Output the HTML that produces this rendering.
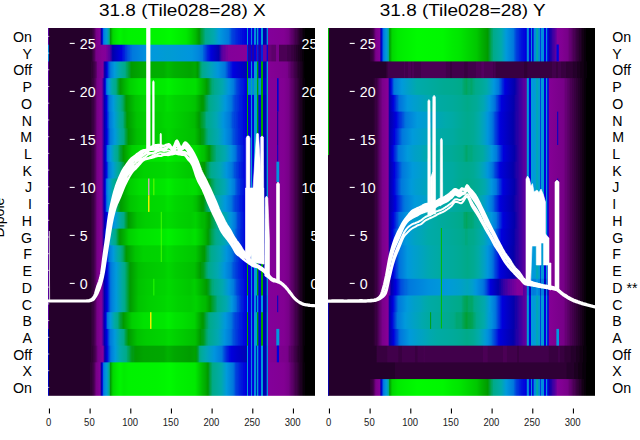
<!DOCTYPE html>
<html><head><meta charset="utf-8"><title>chart</title>
<style>
html,body{margin:0;padding:0;background:#fff;}
body{width:640px;height:440px;overflow:hidden;font-family:"Liberation Sans",sans-serif;}
svg{display:block}
text{font-family:"Liberation Sans",sans-serif;}
</style></head><body>
<svg width="640" height="440" viewBox="0 0 640 440">
<defs>
<linearGradient id="gX0"><stop offset="0.08%" stop-color="#58009f"/><stop offset="0.38%" stop-color="#58009f"/><stop offset="0.53%" stop-color="#25002b"/><stop offset="15.78%" stop-color="#25002b"/><stop offset="15.93%" stop-color="#2f0035"/><stop offset="16.39%" stop-color="#2f0035"/><stop offset="16.54%" stop-color="#380040"/><stop offset="16.84%" stop-color="#380040"/><stop offset="17%" stop-color="#41004b"/><stop offset="17.15%" stop-color="#41004b"/><stop offset="18.06%" stop-color="#708"/><stop offset="19.44%" stop-color="#870098"/><stop offset="19.74%" stop-color="#4d00a0"/><stop offset="19.89%" stop-color="#2300a6"/><stop offset="20.05%" stop-color="#0300aa"/><stop offset="20.35%" stop-color="#00d"/><stop offset="20.5%" stop-color="#002fdd"/><stop offset="20.81%" stop-color="#0078dd"/><stop offset="21.42%" stop-color="#0090dd"/><stop offset="22.03%" stop-color="#009bd7"/><stop offset="22.79%" stop-color="#00aa98"/><stop offset="22.94%" stop-color="#00aa8d"/><stop offset="23.25%" stop-color="#00a13d"/><stop offset="23.4%" stop-color="#009a08"/><stop offset="23.7%" stop-color="#00af00"/><stop offset="24.31%" stop-color="#00d700"/><stop offset="25.84%" stop-color="#00ea00"/><stop offset="27.06%" stop-color="#00f400"/><stop offset="28.43%" stop-color="#00ec00"/><stop offset="30.26%" stop-color="#00f200"/><stop offset="40.62%" stop-color="#00f400"/><stop offset="43.83%" stop-color="#00f700"/><stop offset="45.5%" stop-color="#00fa00"/><stop offset="49.31%" stop-color="#00ef00"/><stop offset="51.75%" stop-color="#00e700"/><stop offset="53.58%" stop-color="#00d200"/><stop offset="55.26%" stop-color="#00ba00"/><stop offset="56.63%" stop-color="#009a00"/><stop offset="57.7%" stop-color="#00a248"/><stop offset="57.85%" stop-color="#00a248"/><stop offset="58.16%" stop-color="#00a55d"/><stop offset="58.31%" stop-color="#00a55d"/><stop offset="58.61%" stop-color="#00a773"/><stop offset="58.77%" stop-color="#0a8"/><stop offset="62.12%" stop-color="#00a8af"/><stop offset="64.1%" stop-color="#009adb"/><stop offset="67.76%" stop-color="#0078dd"/><stop offset="68.06%" stop-color="#0067dd"/><stop offset="68.22%" stop-color="#0067dd"/><stop offset="68.67%" stop-color="#004bdd"/><stop offset="68.83%" stop-color="#004bdd"/><stop offset="68.98%" stop-color="#0041dd"/><stop offset="69.28%" stop-color="#0041dd"/><stop offset="69.59%" stop-color="#0038dd"/><stop offset="69.89%" stop-color="#0038dd"/><stop offset="70.2%" stop-color="#002fdd"/><stop offset="70.5%" stop-color="#002fdd"/><stop offset="70.66%" stop-color="#0025dd"/><stop offset="71.11%" stop-color="#0025dd"/><stop offset="71.42%" stop-color="#001cdd"/><stop offset="71.72%" stop-color="#001cdd"/><stop offset="72.03%" stop-color="#0013dd"/><stop offset="72.48%" stop-color="#0013dd"/><stop offset="72.64%" stop-color="#0009dd"/><stop offset="73.4%" stop-color="#0009dd"/><stop offset="73.7%" stop-color="#00d"/><stop offset="74.47%" stop-color="#0000d9"/><stop offset="74.62%" stop-color="#009cd3"/><stop offset="74.77%" stop-color="#009cd3"/><stop offset="74.92%" stop-color="#00d"/><stop offset="75.84%" stop-color="#00d"/><stop offset="75.99%" stop-color="#008ddd"/><stop offset="76.45%" stop-color="#008ddd"/><stop offset="76.6%" stop-color="#00d"/><stop offset="77.06%" stop-color="#00d"/><stop offset="77.21%" stop-color="#008ddd"/><stop offset="77.97%" stop-color="#008ddd"/><stop offset="78.12%" stop-color="#0000bd"/><stop offset="78.28%" stop-color="#0000bd"/><stop offset="78.43%" stop-color="#009cd3"/><stop offset="78.73%" stop-color="#009cd3"/><stop offset="78.89%" stop-color="#00d"/><stop offset="79.65%" stop-color="#00d"/><stop offset="79.8%" stop-color="#008ddd"/><stop offset="79.95%" stop-color="#009cd3"/><stop offset="80.41%" stop-color="#009cd3"/><stop offset="80.56%" stop-color="#0000b1"/><stop offset="81.78%" stop-color="#0000b1"/><stop offset="81.94%" stop-color="#008ddd"/><stop offset="82.39%" stop-color="#008ddd"/><stop offset="82.55%" stop-color="#83009a"/><stop offset="88.34%" stop-color="#820093"/><stop offset="90.17%" stop-color="#708"/><stop offset="90.47%" stop-color="#700080"/><stop offset="90.62%" stop-color="#700080"/><stop offset="90.78%" stop-color="#670075"/><stop offset="91.08%" stop-color="#670075"/><stop offset="91.23%" stop-color="#5d006b"/><stop offset="91.54%" stop-color="#5d006b"/><stop offset="91.69%" stop-color="#540060"/><stop offset="92%" stop-color="#540060"/><stop offset="92.15%" stop-color="#4b0055"/><stop offset="92.45%" stop-color="#4b0055"/><stop offset="92.61%" stop-color="#41004b"/><stop offset="93.06%" stop-color="#41004b"/><stop offset="93.22%" stop-color="#380040"/><stop offset="93.52%" stop-color="#380040"/><stop offset="93.67%" stop-color="#2f0035"/><stop offset="93.98%" stop-color="#2f0035"/><stop offset="94.13%" stop-color="#25002b"/><stop offset="94.44%" stop-color="#25002b"/><stop offset="94.59%" stop-color="#1c0020"/><stop offset="95.05%" stop-color="#1c0020"/><stop offset="95.2%" stop-color="#130015"/><stop offset="95.5%" stop-color="#130015"/><stop offset="95.66%" stop-color="#09000b"/><stop offset="96.11%" stop-color="#09000b"/><stop offset="96.27%" stop-color="#000"/><stop offset="99.92%" stop-color="#000"/></linearGradient>
<linearGradient id="gX1"><stop offset="0.08%" stop-color="#0085dd"/><stop offset="0.38%" stop-color="#0085dd"/><stop offset="0.53%" stop-color="#25002b"/><stop offset="16.23%" stop-color="#25002b"/><stop offset="16.39%" stop-color="#2f0035"/><stop offset="16.54%" stop-color="#2f0035"/><stop offset="16.69%" stop-color="#380040"/><stop offset="16.84%" stop-color="#380040"/><stop offset="17.15%" stop-color="#4b0055"/><stop offset="17.3%" stop-color="#4b0055"/><stop offset="17.76%" stop-color="#670075"/><stop offset="17.91%" stop-color="#708"/><stop offset="20.2%" stop-color="#850096"/><stop offset="21.72%" stop-color="#83009a"/><stop offset="21.88%" stop-color="#78009b"/><stop offset="22.18%" stop-color="#78009b"/><stop offset="22.33%" stop-color="#6d009c"/><stop offset="22.48%" stop-color="#6d009c"/><stop offset="22.64%" stop-color="#63009e"/><stop offset="22.94%" stop-color="#63009e"/><stop offset="23.09%" stop-color="#58009f"/><stop offset="23.25%" stop-color="#58009f"/><stop offset="23.4%" stop-color="#4300a2"/><stop offset="23.86%" stop-color="#2300a6"/><stop offset="24.01%" stop-color="#0d00a8"/><stop offset="24.31%" stop-color="#0000ad"/><stop offset="27.06%" stop-color="#0000d9"/><stop offset="27.52%" stop-color="#00d"/><stop offset="27.97%" stop-color="#0013dd"/><stop offset="28.73%" stop-color="#0025dd"/><stop offset="29.04%" stop-color="#0038dd"/><stop offset="29.5%" stop-color="#0041dd"/><stop offset="29.65%" stop-color="#004bdd"/><stop offset="30.41%" stop-color="#005ddd"/><stop offset="30.56%" stop-color="#005ddd"/><stop offset="30.72%" stop-color="#0067dd"/><stop offset="31.33%" stop-color="#0070dd"/><stop offset="31.63%" stop-color="#0078dd"/><stop offset="38.34%" stop-color="#0098dd"/><stop offset="44.74%" stop-color="#009cd3"/><stop offset="53.89%" stop-color="#0095dd"/><stop offset="56.17%" stop-color="#08d"/><stop offset="57.85%" stop-color="#0078dd"/><stop offset="58.31%" stop-color="#005ddd"/><stop offset="58.61%" stop-color="#0054dd"/><stop offset="59.07%" stop-color="#0041dd"/><stop offset="59.53%" stop-color="#002fdd"/><stop offset="59.68%" stop-color="#0025dd"/><stop offset="60.44%" stop-color="#0013dd"/><stop offset="60.59%" stop-color="#0009dd"/><stop offset="61.2%" stop-color="#0000d9"/><stop offset="64.1%" stop-color="#0300aa"/><stop offset="64.25%" stop-color="#1800a7"/><stop offset="65.17%" stop-color="#58009f"/><stop offset="65.47%" stop-color="#58009f"/><stop offset="65.62%" stop-color="#63009e"/><stop offset="66.08%" stop-color="#63009e"/><stop offset="66.23%" stop-color="#6d009c"/><stop offset="66.69%" stop-color="#6d009c"/><stop offset="66.84%" stop-color="#78009b"/><stop offset="67.3%" stop-color="#78009b"/><stop offset="67.45%" stop-color="#83009a"/><stop offset="74.47%" stop-color="#870098"/><stop offset="74.62%" stop-color="#0025dd"/><stop offset="74.77%" stop-color="#0025dd"/><stop offset="74.92%" stop-color="#2300a6"/><stop offset="75.84%" stop-color="#2300a6"/><stop offset="75.99%" stop-color="#00d"/><stop offset="76.45%" stop-color="#00d"/><stop offset="76.6%" stop-color="#2300a6"/><stop offset="77.06%" stop-color="#2300a6"/><stop offset="77.21%" stop-color="#00d"/><stop offset="77.97%" stop-color="#00d"/><stop offset="78.12%" stop-color="#58009f"/><stop offset="78.28%" stop-color="#58009f"/><stop offset="78.43%" stop-color="#0025dd"/><stop offset="78.73%" stop-color="#0025dd"/><stop offset="78.89%" stop-color="#2300a6"/><stop offset="79.65%" stop-color="#2300a6"/><stop offset="79.8%" stop-color="#00d"/><stop offset="79.95%" stop-color="#0025dd"/><stop offset="80.41%" stop-color="#0025dd"/><stop offset="80.56%" stop-color="#6d009c"/><stop offset="81.78%" stop-color="#6d009c"/><stop offset="81.94%" stop-color="#00d"/><stop offset="82.39%" stop-color="#00d"/><stop offset="82.55%" stop-color="#670075"/><stop offset="83.61%" stop-color="#670075"/><stop offset="83.77%" stop-color="#5d006b"/><stop offset="85.29%" stop-color="#5d006b"/><stop offset="85.44%" stop-color="#670075"/><stop offset="85.59%" stop-color="#79008a"/><stop offset="86.51%" stop-color="#79008a"/><stop offset="86.66%" stop-color="#4b0055"/><stop offset="89.56%" stop-color="#4b0055"/><stop offset="89.71%" stop-color="#41004b"/><stop offset="91.08%" stop-color="#41004b"/><stop offset="91.23%" stop-color="#380040"/><stop offset="92%" stop-color="#380040"/><stop offset="92.15%" stop-color="#2f0035"/><stop offset="92.76%" stop-color="#2f0035"/><stop offset="92.91%" stop-color="#25002b"/><stop offset="93.52%" stop-color="#25002b"/><stop offset="93.67%" stop-color="#1c0020"/><stop offset="94.28%" stop-color="#1c0020"/><stop offset="94.44%" stop-color="#130015"/><stop offset="95.05%" stop-color="#130015"/><stop offset="95.2%" stop-color="#09000b"/><stop offset="95.81%" stop-color="#09000b"/><stop offset="95.96%" stop-color="#000"/><stop offset="99.92%" stop-color="#000"/></linearGradient>
<linearGradient id="gX2"><stop offset="0.08%" stop-color="#58009f"/><stop offset="0.38%" stop-color="#58009f"/><stop offset="0.53%" stop-color="#25002b"/><stop offset="15.93%" stop-color="#25002b"/><stop offset="16.08%" stop-color="#2f0035"/><stop offset="16.69%" stop-color="#2f0035"/><stop offset="16.84%" stop-color="#380040"/><stop offset="17.15%" stop-color="#380040"/><stop offset="17.3%" stop-color="#41004b"/><stop offset="17.45%" stop-color="#41004b"/><stop offset="17.61%" stop-color="#4b0055"/><stop offset="17.76%" stop-color="#4b0055"/><stop offset="18.06%" stop-color="#5d006b"/><stop offset="18.22%" stop-color="#5d006b"/><stop offset="18.52%" stop-color="#708"/><stop offset="20.5%" stop-color="#870098"/><stop offset="20.66%" stop-color="#78009b"/><stop offset="21.11%" stop-color="#1800a7"/><stop offset="21.27%" stop-color="#0300aa"/><stop offset="22.03%" stop-color="#0000d9"/><stop offset="22.18%" stop-color="#0009dd"/><stop offset="22.64%" stop-color="#0041dd"/><stop offset="22.94%" stop-color="#0054dd"/><stop offset="23.09%" stop-color="#0067dd"/><stop offset="23.55%" stop-color="#007ddd"/><stop offset="24.92%" stop-color="#009adb"/><stop offset="27.06%" stop-color="#00aaa3"/><stop offset="28.89%" stop-color="#0a8"/><stop offset="29.5%" stop-color="#00a55d"/><stop offset="29.65%" stop-color="#00a55d"/><stop offset="30.11%" stop-color="#00a13d"/><stop offset="30.26%" stop-color="#00a13d"/><stop offset="31.17%" stop-color="#009a00"/><stop offset="35.75%" stop-color="#00ac00"/><stop offset="43.37%" stop-color="#00af00"/><stop offset="44.89%" stop-color="#00ba00"/><stop offset="47.33%" stop-color="#00af00"/><stop offset="52.06%" stop-color="#00a700"/><stop offset="53.43%" stop-color="#00a400"/><stop offset="55.11%" stop-color="#0a0"/><stop offset="56.02%" stop-color="#009a00"/><stop offset="56.63%" stop-color="#009e28"/><stop offset="56.78%" stop-color="#00a13d"/><stop offset="56.94%" stop-color="#00a248"/><stop offset="57.09%" stop-color="#00a55d"/><stop offset="57.7%" stop-color="#0a8"/><stop offset="61.05%" stop-color="#00a4bb"/><stop offset="63.64%" stop-color="#0095dd"/><stop offset="66.23%" stop-color="#0078dd"/><stop offset="66.69%" stop-color="#0067dd"/><stop offset="67%" stop-color="#0054dd"/><stop offset="67.3%" stop-color="#004bdd"/><stop offset="67.61%" stop-color="#0038dd"/><stop offset="68.06%" stop-color="#002fdd"/><stop offset="68.22%" stop-color="#0025dd"/><stop offset="68.83%" stop-color="#0013dd"/><stop offset="68.98%" stop-color="#0009dd"/><stop offset="69.59%" stop-color="#00d"/><stop offset="72.94%" stop-color="#0000c5"/><stop offset="74.47%" stop-color="#0000b9"/><stop offset="74.62%" stop-color="#0a0"/><stop offset="74.77%" stop-color="#0a0"/><stop offset="74.92%" stop-color="#00d"/><stop offset="75.84%" stop-color="#00d"/><stop offset="75.99%" stop-color="#009cd3"/><stop offset="76.45%" stop-color="#009cd3"/><stop offset="76.6%" stop-color="#00d"/><stop offset="77.06%" stop-color="#00d"/><stop offset="77.21%" stop-color="#009cd3"/><stop offset="77.97%" stop-color="#009cd3"/><stop offset="78.12%" stop-color="#0098dd"/><stop offset="78.28%" stop-color="#0098dd"/><stop offset="78.43%" stop-color="#00a400"/><stop offset="78.73%" stop-color="#00a200"/><stop offset="78.89%" stop-color="#00d"/><stop offset="79.65%" stop-color="#00d"/><stop offset="79.8%" stop-color="#009cd3"/><stop offset="79.95%" stop-color="#00a400"/><stop offset="80.41%" stop-color="#00a700"/><stop offset="80.56%" stop-color="#0000b9"/><stop offset="81.78%" stop-color="#0000b9"/><stop offset="81.94%" stop-color="#009cd3"/><stop offset="82.39%" stop-color="#009cd3"/><stop offset="82.55%" stop-color="#850096"/><stop offset="88.8%" stop-color="#7d008e"/><stop offset="89.86%" stop-color="#708"/><stop offset="90.17%" stop-color="#670075"/><stop offset="90.47%" stop-color="#670075"/><stop offset="90.62%" stop-color="#5d006b"/><stop offset="90.93%" stop-color="#5d006b"/><stop offset="91.08%" stop-color="#540060"/><stop offset="91.54%" stop-color="#540060"/><stop offset="91.69%" stop-color="#4b0055"/><stop offset="92.15%" stop-color="#4b0055"/><stop offset="92.3%" stop-color="#41004b"/><stop offset="92.61%" stop-color="#41004b"/><stop offset="92.76%" stop-color="#380040"/><stop offset="93.22%" stop-color="#380040"/><stop offset="93.37%" stop-color="#2f0035"/><stop offset="93.67%" stop-color="#2f0035"/><stop offset="93.83%" stop-color="#25002b"/><stop offset="94.28%" stop-color="#25002b"/><stop offset="94.44%" stop-color="#1c0020"/><stop offset="94.89%" stop-color="#1c0020"/><stop offset="95.05%" stop-color="#130015"/><stop offset="95.35%" stop-color="#130015"/><stop offset="95.5%" stop-color="#09000b"/><stop offset="95.96%" stop-color="#09000b"/><stop offset="96.11%" stop-color="#000"/><stop offset="99.92%" stop-color="#000"/></linearGradient>
<linearGradient id="gX3"><stop offset="0.08%" stop-color="#58009f"/><stop offset="0.38%" stop-color="#58009f"/><stop offset="0.53%" stop-color="#25002b"/><stop offset="15.93%" stop-color="#25002b"/><stop offset="16.08%" stop-color="#2f0035"/><stop offset="16.54%" stop-color="#2f0035"/><stop offset="16.69%" stop-color="#380040"/><stop offset="17%" stop-color="#380040"/><stop offset="17.15%" stop-color="#41004b"/><stop offset="17.3%" stop-color="#41004b"/><stop offset="17.61%" stop-color="#540060"/><stop offset="17.76%" stop-color="#540060"/><stop offset="18.37%" stop-color="#708"/><stop offset="19.89%" stop-color="#870098"/><stop offset="20.2%" stop-color="#78009b"/><stop offset="20.35%" stop-color="#63009e"/><stop offset="20.5%" stop-color="#58009f"/><stop offset="20.66%" stop-color="#4300a2"/><stop offset="20.96%" stop-color="#0000ad"/><stop offset="21.42%" stop-color="#00d"/><stop offset="21.88%" stop-color="#0067dd"/><stop offset="22.03%" stop-color="#007ddd"/><stop offset="22.79%" stop-color="#009adb"/><stop offset="24.01%" stop-color="#00aaa5"/><stop offset="25.38%" stop-color="#0a8"/><stop offset="25.84%" stop-color="#00a668"/><stop offset="25.99%" stop-color="#00a353"/><stop offset="26.3%" stop-color="#00a13d"/><stop offset="26.45%" stop-color="#009e28"/><stop offset="27.06%" stop-color="#009a00"/><stop offset="28.89%" stop-color="#00b700"/><stop offset="30.56%" stop-color="#00cf00"/><stop offset="34.07%" stop-color="#00e200"/><stop offset="38.95%" stop-color="#00e700"/><stop offset="43.83%" stop-color="#00ec00"/><stop offset="45.05%" stop-color="#00f200"/><stop offset="47.18%" stop-color="#00ea00"/><stop offset="52.06%" stop-color="#00df00"/><stop offset="53.73%" stop-color="#00df00"/><stop offset="55.26%" stop-color="#00df00"/><stop offset="58.77%" stop-color="#0a0"/><stop offset="59.53%" stop-color="#009a00"/><stop offset="59.98%" stop-color="#009d1d"/><stop offset="60.14%" stop-color="#009d1d"/><stop offset="61.2%" stop-color="#00a668"/><stop offset="61.36%" stop-color="#00a668"/><stop offset="61.66%" stop-color="#00a97d"/><stop offset="61.97%" stop-color="#00a97d"/><stop offset="62.12%" stop-color="#0a8"/><stop offset="65.32%" stop-color="#00a8af"/><stop offset="67.76%" stop-color="#0095dd"/><stop offset="69.59%" stop-color="#0078dd"/><stop offset="69.89%" stop-color="#0067dd"/><stop offset="70.05%" stop-color="#0067dd"/><stop offset="70.5%" stop-color="#004bdd"/><stop offset="70.81%" stop-color="#004bdd"/><stop offset="70.96%" stop-color="#0041dd"/><stop offset="71.72%" stop-color="#002fdd"/><stop offset="71.88%" stop-color="#002fdd"/><stop offset="72.03%" stop-color="#0025dd"/><stop offset="72.64%" stop-color="#001cdd"/><stop offset="73.25%" stop-color="#0013dd"/><stop offset="73.4%" stop-color="#0009dd"/><stop offset="73.7%" stop-color="#0009dd"/><stop offset="74.01%" stop-color="#00d"/><stop offset="74.47%" stop-color="#0000d9"/><stop offset="74.62%" stop-color="#0a0"/><stop offset="74.77%" stop-color="#0a0"/><stop offset="74.92%" stop-color="#0085dd"/><stop offset="75.84%" stop-color="#0085dd"/><stop offset="75.99%" stop-color="#00a7b3"/><stop offset="76.45%" stop-color="#00a7b3"/><stop offset="76.6%" stop-color="#0085dd"/><stop offset="77.06%" stop-color="#0085dd"/><stop offset="77.21%" stop-color="#00a6b7"/><stop offset="78.28%" stop-color="#00a6b7"/><stop offset="78.43%" stop-color="#00a400"/><stop offset="78.73%" stop-color="#00a200"/><stop offset="78.89%" stop-color="#0085dd"/><stop offset="79.65%" stop-color="#0085dd"/><stop offset="79.8%" stop-color="#00a6b7"/><stop offset="79.95%" stop-color="#00a400"/><stop offset="80.41%" stop-color="#00a700"/><stop offset="80.56%" stop-color="#0000d1"/><stop offset="81.78%" stop-color="#0000d1"/><stop offset="81.94%" stop-color="#00a7b3"/><stop offset="82.39%" stop-color="#00a7b3"/><stop offset="82.55%" stop-color="#83009a"/><stop offset="88.34%" stop-color="#820093"/><stop offset="90.17%" stop-color="#708"/><stop offset="90.47%" stop-color="#700080"/><stop offset="90.62%" stop-color="#700080"/><stop offset="90.78%" stop-color="#670075"/><stop offset="91.08%" stop-color="#670075"/><stop offset="91.23%" stop-color="#5d006b"/><stop offset="91.54%" stop-color="#5d006b"/><stop offset="91.69%" stop-color="#540060"/><stop offset="92%" stop-color="#540060"/><stop offset="92.15%" stop-color="#4b0055"/><stop offset="92.45%" stop-color="#4b0055"/><stop offset="92.61%" stop-color="#41004b"/><stop offset="93.06%" stop-color="#41004b"/><stop offset="93.22%" stop-color="#380040"/><stop offset="93.52%" stop-color="#380040"/><stop offset="93.67%" stop-color="#2f0035"/><stop offset="93.98%" stop-color="#2f0035"/><stop offset="94.13%" stop-color="#25002b"/><stop offset="94.44%" stop-color="#25002b"/><stop offset="94.59%" stop-color="#1c0020"/><stop offset="95.05%" stop-color="#1c0020"/><stop offset="95.2%" stop-color="#130015"/><stop offset="95.5%" stop-color="#130015"/><stop offset="95.66%" stop-color="#09000b"/><stop offset="96.11%" stop-color="#09000b"/><stop offset="96.27%" stop-color="#000"/><stop offset="99.92%" stop-color="#000"/></linearGradient>
<linearGradient id="gX4"><stop offset="0.08%" stop-color="#58009f"/><stop offset="0.38%" stop-color="#58009f"/><stop offset="0.53%" stop-color="#25002b"/><stop offset="15.93%" stop-color="#25002b"/><stop offset="16.08%" stop-color="#2f0035"/><stop offset="16.54%" stop-color="#2f0035"/><stop offset="16.69%" stop-color="#380040"/><stop offset="17%" stop-color="#380040"/><stop offset="17.15%" stop-color="#41004b"/><stop offset="17.3%" stop-color="#41004b"/><stop offset="17.61%" stop-color="#540060"/><stop offset="17.76%" stop-color="#540060"/><stop offset="18.37%" stop-color="#708"/><stop offset="19.89%" stop-color="#870098"/><stop offset="20.2%" stop-color="#78009b"/><stop offset="20.35%" stop-color="#63009e"/><stop offset="20.66%" stop-color="#4d00a0"/><stop offset="20.96%" stop-color="#0d00a8"/><stop offset="21.11%" stop-color="#0000b5"/><stop offset="21.88%" stop-color="#00d"/><stop offset="22.64%" stop-color="#005ddd"/><stop offset="22.94%" stop-color="#0078dd"/><stop offset="24.47%" stop-color="#009adb"/><stop offset="26.45%" stop-color="#00aa9d"/><stop offset="27.36%" stop-color="#0a8"/><stop offset="27.52%" stop-color="#00a97d"/><stop offset="27.67%" stop-color="#00a97d"/><stop offset="28.58%" stop-color="#00a13d"/><stop offset="28.73%" stop-color="#009e28"/><stop offset="29.34%" stop-color="#009a00"/><stop offset="32.7%" stop-color="#00c400"/><stop offset="35.75%" stop-color="#00d200"/><stop offset="43.37%" stop-color="#00d400"/><stop offset="44.74%" stop-color="#00df00"/><stop offset="47.48%" stop-color="#00d400"/><stop offset="50.23%" stop-color="#00cf00"/><stop offset="53.28%" stop-color="#00ca00"/><stop offset="55.11%" stop-color="#00c400"/><stop offset="57.55%" stop-color="#009a00"/><stop offset="58%" stop-color="#009a00"/><stop offset="58.31%" stop-color="#009a08"/><stop offset="59.53%" stop-color="#00a55d"/><stop offset="59.68%" stop-color="#00a55d"/><stop offset="60.14%" stop-color="#00a97d"/><stop offset="60.29%" stop-color="#00a97d"/><stop offset="60.59%" stop-color="#00aa8b"/><stop offset="63.8%" stop-color="#00a8af"/><stop offset="66.39%" stop-color="#0098dd"/><stop offset="68.67%" stop-color="#0078dd"/><stop offset="68.98%" stop-color="#0067dd"/><stop offset="69.13%" stop-color="#0067dd"/><stop offset="69.28%" stop-color="#005ddd"/><stop offset="69.59%" stop-color="#0054dd"/><stop offset="69.89%" stop-color="#004bdd"/><stop offset="70.05%" stop-color="#004bdd"/><stop offset="70.2%" stop-color="#0041dd"/><stop offset="70.5%" stop-color="#0041dd"/><stop offset="70.81%" stop-color="#0038dd"/><stop offset="71.42%" stop-color="#002fdd"/><stop offset="71.57%" stop-color="#0025dd"/><stop offset="71.88%" stop-color="#0025dd"/><stop offset="72.18%" stop-color="#001cdd"/><stop offset="72.48%" stop-color="#001cdd"/><stop offset="72.79%" stop-color="#0013dd"/><stop offset="73.09%" stop-color="#0013dd"/><stop offset="73.25%" stop-color="#0009dd"/><stop offset="73.55%" stop-color="#0009dd"/><stop offset="73.86%" stop-color="#00d"/><stop offset="74.47%" stop-color="#0000d9"/><stop offset="74.62%" stop-color="#0a0"/><stop offset="74.77%" stop-color="#0a0"/><stop offset="74.92%" stop-color="#00d"/><stop offset="75.84%" stop-color="#00d"/><stop offset="75.99%" stop-color="#009cd3"/><stop offset="76.45%" stop-color="#009cd3"/><stop offset="76.6%" stop-color="#00d"/><stop offset="77.06%" stop-color="#00d"/><stop offset="77.21%" stop-color="#009cd3"/><stop offset="77.97%" stop-color="#009cd3"/><stop offset="78.12%" stop-color="#0098dd"/><stop offset="78.28%" stop-color="#0098dd"/><stop offset="78.43%" stop-color="#00a400"/><stop offset="78.73%" stop-color="#00a200"/><stop offset="78.89%" stop-color="#00d"/><stop offset="79.65%" stop-color="#00d"/><stop offset="79.8%" stop-color="#009cd3"/><stop offset="79.95%" stop-color="#00a400"/><stop offset="80.41%" stop-color="#00a700"/><stop offset="80.56%" stop-color="#0000b9"/><stop offset="81.78%" stop-color="#0000b9"/><stop offset="81.94%" stop-color="#009cd3"/><stop offset="82.39%" stop-color="#009cd3"/><stop offset="82.55%" stop-color="#83009a"/><stop offset="88.34%" stop-color="#820093"/><stop offset="90.17%" stop-color="#708"/><stop offset="90.47%" stop-color="#700080"/><stop offset="90.62%" stop-color="#700080"/><stop offset="90.78%" stop-color="#670075"/><stop offset="91.08%" stop-color="#670075"/><stop offset="91.23%" stop-color="#5d006b"/><stop offset="91.54%" stop-color="#5d006b"/><stop offset="91.69%" stop-color="#540060"/><stop offset="92%" stop-color="#540060"/><stop offset="92.15%" stop-color="#4b0055"/><stop offset="92.45%" stop-color="#4b0055"/><stop offset="92.61%" stop-color="#41004b"/><stop offset="93.06%" stop-color="#41004b"/><stop offset="93.22%" stop-color="#380040"/><stop offset="93.52%" stop-color="#380040"/><stop offset="93.67%" stop-color="#2f0035"/><stop offset="93.98%" stop-color="#2f0035"/><stop offset="94.13%" stop-color="#25002b"/><stop offset="94.44%" stop-color="#25002b"/><stop offset="94.59%" stop-color="#1c0020"/><stop offset="95.05%" stop-color="#1c0020"/><stop offset="95.2%" stop-color="#130015"/><stop offset="95.5%" stop-color="#130015"/><stop offset="95.66%" stop-color="#09000b"/><stop offset="96.11%" stop-color="#09000b"/><stop offset="96.27%" stop-color="#000"/><stop offset="99.92%" stop-color="#000"/></linearGradient>
<linearGradient id="gX5"><stop offset="0.08%" stop-color="#58009f"/><stop offset="0.38%" stop-color="#58009f"/><stop offset="0.53%" stop-color="#25002b"/><stop offset="15.93%" stop-color="#25002b"/><stop offset="16.08%" stop-color="#2f0035"/><stop offset="16.54%" stop-color="#2f0035"/><stop offset="16.69%" stop-color="#380040"/><stop offset="17%" stop-color="#380040"/><stop offset="17.15%" stop-color="#41004b"/><stop offset="17.3%" stop-color="#41004b"/><stop offset="17.61%" stop-color="#540060"/><stop offset="17.76%" stop-color="#540060"/><stop offset="18.37%" stop-color="#708"/><stop offset="19.89%" stop-color="#870098"/><stop offset="20.2%" stop-color="#78009b"/><stop offset="20.35%" stop-color="#63009e"/><stop offset="20.66%" stop-color="#4d00a0"/><stop offset="20.96%" stop-color="#0d00a8"/><stop offset="21.11%" stop-color="#0000b1"/><stop offset="21.88%" stop-color="#0000d9"/><stop offset="22.03%" stop-color="#0009dd"/><stop offset="22.33%" stop-color="#002fdd"/><stop offset="22.48%" stop-color="#0038dd"/><stop offset="22.79%" stop-color="#005ddd"/><stop offset="23.09%" stop-color="#0078dd"/><stop offset="24.77%" stop-color="#009adb"/><stop offset="26.75%" stop-color="#00aa9d"/><stop offset="27.97%" stop-color="#0a8"/><stop offset="28.28%" stop-color="#00a773"/><stop offset="28.43%" stop-color="#00a55d"/><stop offset="29.04%" stop-color="#009f33"/><stop offset="29.19%" stop-color="#009d1d"/><stop offset="29.65%" stop-color="#009a00"/><stop offset="33.31%" stop-color="#00c400"/><stop offset="36.05%" stop-color="#0c0"/><stop offset="42.15%" stop-color="#00cf00"/><stop offset="44.13%" stop-color="#00d700"/><stop offset="45.5%" stop-color="#00d700"/><stop offset="52.36%" stop-color="#00c400"/><stop offset="54.95%" stop-color="#00ba00"/><stop offset="56.63%" stop-color="#009a00"/><stop offset="56.94%" stop-color="#009b13"/><stop offset="57.09%" stop-color="#009b13"/><stop offset="57.39%" stop-color="#009e28"/><stop offset="57.55%" stop-color="#009e28"/><stop offset="57.7%" stop-color="#009f33"/><stop offset="57.85%" stop-color="#009f33"/><stop offset="58%" stop-color="#00a13d"/><stop offset="58.16%" stop-color="#00a13d"/><stop offset="58.31%" stop-color="#00a248"/><stop offset="58.46%" stop-color="#00a248"/><stop offset="59.38%" stop-color="#0a8"/><stop offset="63.03%" stop-color="#00a7b3"/><stop offset="65.62%" stop-color="#0095dd"/><stop offset="68.06%" stop-color="#0078dd"/><stop offset="68.67%" stop-color="#0067dd"/><stop offset="68.98%" stop-color="#0054dd"/><stop offset="69.59%" stop-color="#004bdd"/><stop offset="69.74%" stop-color="#0041dd"/><stop offset="70.2%" stop-color="#0041dd"/><stop offset="70.5%" stop-color="#0038dd"/><stop offset="71.11%" stop-color="#002fdd"/><stop offset="71.27%" stop-color="#0025dd"/><stop offset="71.57%" stop-color="#0025dd"/><stop offset="71.88%" stop-color="#001cdd"/><stop offset="72.33%" stop-color="#001cdd"/><stop offset="72.64%" stop-color="#0013dd"/><stop offset="72.94%" stop-color="#0013dd"/><stop offset="73.09%" stop-color="#0009dd"/><stop offset="73.55%" stop-color="#0009dd"/><stop offset="73.86%" stop-color="#00d"/><stop offset="74.47%" stop-color="#0000d9"/><stop offset="74.62%" stop-color="#0a0"/><stop offset="74.77%" stop-color="#0a0"/><stop offset="74.92%" stop-color="#00d"/><stop offset="75.84%" stop-color="#00d"/><stop offset="75.99%" stop-color="#009cd3"/><stop offset="76.45%" stop-color="#009cd3"/><stop offset="76.6%" stop-color="#00d"/><stop offset="77.06%" stop-color="#00d"/><stop offset="77.21%" stop-color="#009cd3"/><stop offset="77.97%" stop-color="#009cd3"/><stop offset="78.12%" stop-color="#0098dd"/><stop offset="78.28%" stop-color="#0098dd"/><stop offset="78.43%" stop-color="#00a400"/><stop offset="78.73%" stop-color="#00a200"/><stop offset="78.89%" stop-color="#00d"/><stop offset="79.65%" stop-color="#00d"/><stop offset="79.8%" stop-color="#009cd3"/><stop offset="79.95%" stop-color="#00a400"/><stop offset="80.41%" stop-color="#00a700"/><stop offset="80.56%" stop-color="#0000b9"/><stop offset="81.78%" stop-color="#0000b9"/><stop offset="81.94%" stop-color="#009cd3"/><stop offset="82.39%" stop-color="#009cd3"/><stop offset="82.55%" stop-color="#83009a"/><stop offset="88.34%" stop-color="#820093"/><stop offset="90.17%" stop-color="#708"/><stop offset="90.47%" stop-color="#700080"/><stop offset="90.62%" stop-color="#700080"/><stop offset="90.78%" stop-color="#670075"/><stop offset="91.08%" stop-color="#670075"/><stop offset="91.23%" stop-color="#5d006b"/><stop offset="91.54%" stop-color="#5d006b"/><stop offset="91.69%" stop-color="#540060"/><stop offset="92%" stop-color="#540060"/><stop offset="92.15%" stop-color="#4b0055"/><stop offset="92.45%" stop-color="#4b0055"/><stop offset="92.61%" stop-color="#41004b"/><stop offset="93.06%" stop-color="#41004b"/><stop offset="93.22%" stop-color="#380040"/><stop offset="93.52%" stop-color="#380040"/><stop offset="93.67%" stop-color="#2f0035"/><stop offset="93.98%" stop-color="#2f0035"/><stop offset="94.13%" stop-color="#25002b"/><stop offset="94.44%" stop-color="#25002b"/><stop offset="94.59%" stop-color="#1c0020"/><stop offset="95.05%" stop-color="#1c0020"/><stop offset="95.2%" stop-color="#130015"/><stop offset="95.5%" stop-color="#130015"/><stop offset="95.66%" stop-color="#09000b"/><stop offset="96.11%" stop-color="#09000b"/><stop offset="96.27%" stop-color="#000"/><stop offset="99.92%" stop-color="#000"/></linearGradient>
<linearGradient id="gX6"><stop offset="0.08%" stop-color="#58009f"/><stop offset="0.38%" stop-color="#58009f"/><stop offset="0.53%" stop-color="#25002b"/><stop offset="15.93%" stop-color="#25002b"/><stop offset="16.08%" stop-color="#2f0035"/><stop offset="16.54%" stop-color="#2f0035"/><stop offset="16.69%" stop-color="#380040"/><stop offset="17%" stop-color="#380040"/><stop offset="17.15%" stop-color="#41004b"/><stop offset="17.3%" stop-color="#41004b"/><stop offset="17.61%" stop-color="#540060"/><stop offset="17.76%" stop-color="#540060"/><stop offset="18.37%" stop-color="#708"/><stop offset="19.89%" stop-color="#870098"/><stop offset="20.2%" stop-color="#78009b"/><stop offset="20.35%" stop-color="#63009e"/><stop offset="20.66%" stop-color="#4d00a0"/><stop offset="20.96%" stop-color="#0d00a8"/><stop offset="21.11%" stop-color="#0000b1"/><stop offset="21.72%" stop-color="#0000d1"/><stop offset="22.03%" stop-color="#00d"/><stop offset="22.18%" stop-color="#0013dd"/><stop offset="22.33%" stop-color="#001cdd"/><stop offset="22.64%" stop-color="#0041dd"/><stop offset="23.25%" stop-color="#0078dd"/><stop offset="25.08%" stop-color="#009adb"/><stop offset="27.06%" stop-color="#00aaa0"/><stop offset="28.28%" stop-color="#0a8"/><stop offset="28.73%" stop-color="#00a668"/><stop offset="28.89%" stop-color="#00a353"/><stop offset="30.11%" stop-color="#009a00"/><stop offset="33.31%" stop-color="#00bf00"/><stop offset="36.05%" stop-color="#00ca00"/><stop offset="40.32%" stop-color="#0c0"/><stop offset="43.52%" stop-color="#00cf00"/><stop offset="45.05%" stop-color="#00d700"/><stop offset="47.79%" stop-color="#0c0"/><stop offset="54.95%" stop-color="#00bf00"/><stop offset="57.09%" stop-color="#009a00"/><stop offset="57.39%" stop-color="#009a08"/><stop offset="57.55%" stop-color="#009b13"/><stop offset="57.85%" stop-color="#009b13"/><stop offset="58%" stop-color="#009d1d"/><stop offset="58.31%" stop-color="#009d1d"/><stop offset="59.53%" stop-color="#00a773"/><stop offset="59.68%" stop-color="#00a773"/><stop offset="59.98%" stop-color="#0a8"/><stop offset="63.64%" stop-color="#00a7b3"/><stop offset="66.08%" stop-color="#0095dd"/><stop offset="68.37%" stop-color="#0078dd"/><stop offset="68.98%" stop-color="#0067dd"/><stop offset="69.28%" stop-color="#0054dd"/><stop offset="69.89%" stop-color="#004bdd"/><stop offset="70.05%" stop-color="#0041dd"/><stop offset="70.35%" stop-color="#0041dd"/><stop offset="70.66%" stop-color="#0038dd"/><stop offset="71.27%" stop-color="#002fdd"/><stop offset="71.42%" stop-color="#0025dd"/><stop offset="71.72%" stop-color="#0025dd"/><stop offset="72.03%" stop-color="#001cdd"/><stop offset="72.33%" stop-color="#001cdd"/><stop offset="72.64%" stop-color="#0013dd"/><stop offset="72.94%" stop-color="#0013dd"/><stop offset="73.09%" stop-color="#0009dd"/><stop offset="73.55%" stop-color="#0009dd"/><stop offset="73.86%" stop-color="#00d"/><stop offset="74.47%" stop-color="#0000d9"/><stop offset="74.62%" stop-color="#0a0"/><stop offset="74.77%" stop-color="#0a0"/><stop offset="74.92%" stop-color="#00d"/><stop offset="75.84%" stop-color="#00d"/><stop offset="75.99%" stop-color="#009cd3"/><stop offset="76.45%" stop-color="#009cd3"/><stop offset="76.6%" stop-color="#00d"/><stop offset="77.06%" stop-color="#00d"/><stop offset="77.21%" stop-color="#009cd3"/><stop offset="77.97%" stop-color="#009cd3"/><stop offset="78.12%" stop-color="#0098dd"/><stop offset="78.28%" stop-color="#0098dd"/><stop offset="78.43%" stop-color="#00a400"/><stop offset="78.73%" stop-color="#00a200"/><stop offset="78.89%" stop-color="#00d"/><stop offset="79.65%" stop-color="#00d"/><stop offset="79.8%" stop-color="#009cd3"/><stop offset="79.95%" stop-color="#00a400"/><stop offset="80.41%" stop-color="#00a700"/><stop offset="80.56%" stop-color="#0000b9"/><stop offset="81.78%" stop-color="#0000b9"/><stop offset="81.94%" stop-color="#009cd3"/><stop offset="82.39%" stop-color="#009cd3"/><stop offset="82.55%" stop-color="#83009a"/><stop offset="88.34%" stop-color="#820093"/><stop offset="90.17%" stop-color="#708"/><stop offset="90.47%" stop-color="#700080"/><stop offset="90.62%" stop-color="#700080"/><stop offset="90.78%" stop-color="#670075"/><stop offset="91.08%" stop-color="#670075"/><stop offset="91.23%" stop-color="#5d006b"/><stop offset="91.54%" stop-color="#5d006b"/><stop offset="91.69%" stop-color="#540060"/><stop offset="92%" stop-color="#540060"/><stop offset="92.15%" stop-color="#4b0055"/><stop offset="92.45%" stop-color="#4b0055"/><stop offset="92.61%" stop-color="#41004b"/><stop offset="93.06%" stop-color="#41004b"/><stop offset="93.22%" stop-color="#380040"/><stop offset="93.52%" stop-color="#380040"/><stop offset="93.67%" stop-color="#2f0035"/><stop offset="93.98%" stop-color="#2f0035"/><stop offset="94.13%" stop-color="#25002b"/><stop offset="94.44%" stop-color="#25002b"/><stop offset="94.59%" stop-color="#1c0020"/><stop offset="95.05%" stop-color="#1c0020"/><stop offset="95.2%" stop-color="#130015"/><stop offset="95.5%" stop-color="#130015"/><stop offset="95.66%" stop-color="#09000b"/><stop offset="96.11%" stop-color="#09000b"/><stop offset="96.27%" stop-color="#000"/><stop offset="99.92%" stop-color="#000"/></linearGradient>
<linearGradient id="gX7"><stop offset="0.08%" stop-color="#58009f"/><stop offset="0.38%" stop-color="#58009f"/><stop offset="0.53%" stop-color="#25002b"/><stop offset="15.93%" stop-color="#25002b"/><stop offset="16.08%" stop-color="#2f0035"/><stop offset="16.54%" stop-color="#2f0035"/><stop offset="16.69%" stop-color="#380040"/><stop offset="17%" stop-color="#380040"/><stop offset="17.15%" stop-color="#41004b"/><stop offset="17.3%" stop-color="#41004b"/><stop offset="17.61%" stop-color="#540060"/><stop offset="17.76%" stop-color="#540060"/><stop offset="18.37%" stop-color="#708"/><stop offset="19.89%" stop-color="#870098"/><stop offset="20.2%" stop-color="#78009b"/><stop offset="20.35%" stop-color="#63009e"/><stop offset="20.5%" stop-color="#58009f"/><stop offset="20.66%" stop-color="#4300a2"/><stop offset="20.96%" stop-color="#0300aa"/><stop offset="21.57%" stop-color="#0000d9"/><stop offset="22.03%" stop-color="#0041dd"/><stop offset="22.33%" stop-color="#0078dd"/><stop offset="23.4%" stop-color="#0098dd"/><stop offset="24.92%" stop-color="#00aaa5"/><stop offset="26.14%" stop-color="#0a8"/><stop offset="26.3%" stop-color="#00a97d"/><stop offset="26.45%" stop-color="#00a668"/><stop offset="27.36%" stop-color="#009e28"/><stop offset="27.52%" stop-color="#009e28"/><stop offset="27.82%" stop-color="#009b13"/><stop offset="27.97%" stop-color="#009b13"/><stop offset="28.28%" stop-color="#009a00"/><stop offset="31.48%" stop-color="#00cf00"/><stop offset="35.9%" stop-color="#00e200"/><stop offset="43.52%" stop-color="#00e700"/><stop offset="45.05%" stop-color="#00ef00"/><stop offset="47.48%" stop-color="#00e400"/><stop offset="52.21%" stop-color="#00dc00"/><stop offset="54.19%" stop-color="#00df00"/><stop offset="55.41%" stop-color="#00df00"/><stop offset="57.55%" stop-color="#00c700"/><stop offset="58.46%" stop-color="#00c200"/><stop offset="60.29%" stop-color="#009a00"/><stop offset="60.59%" stop-color="#009a08"/><stop offset="61.36%" stop-color="#00a13d"/><stop offset="61.51%" stop-color="#00a13d"/><stop offset="61.66%" stop-color="#00a248"/><stop offset="61.81%" stop-color="#00a248"/><stop offset="62.12%" stop-color="#00a55d"/><stop offset="62.27%" stop-color="#00a55d"/><stop offset="62.58%" stop-color="#00a773"/><stop offset="62.73%" stop-color="#00a773"/><stop offset="63.03%" stop-color="#0a8"/><stop offset="66.23%" stop-color="#00a8af"/><stop offset="68.52%" stop-color="#0095dd"/><stop offset="70.05%" stop-color="#0078dd"/><stop offset="70.5%" stop-color="#0067dd"/><stop offset="70.96%" stop-color="#004bdd"/><stop offset="71.11%" stop-color="#004bdd"/><stop offset="71.27%" stop-color="#0041dd"/><stop offset="71.88%" stop-color="#0038dd"/><stop offset="72.33%" stop-color="#0025dd"/><stop offset="72.94%" stop-color="#001cdd"/><stop offset="73.4%" stop-color="#0009dd"/><stop offset="73.7%" stop-color="#0009dd"/><stop offset="74.01%" stop-color="#00d"/><stop offset="74.47%" stop-color="#0000d9"/><stop offset="74.62%" stop-color="#0a0"/><stop offset="74.77%" stop-color="#0a0"/><stop offset="74.92%" stop-color="#00d"/><stop offset="75.84%" stop-color="#00d"/><stop offset="75.99%" stop-color="#009cd3"/><stop offset="76.45%" stop-color="#009cd3"/><stop offset="76.6%" stop-color="#00d"/><stop offset="77.06%" stop-color="#00d"/><stop offset="77.21%" stop-color="#009cd3"/><stop offset="77.97%" stop-color="#009cd3"/><stop offset="78.12%" stop-color="#0098dd"/><stop offset="78.28%" stop-color="#0098dd"/><stop offset="78.43%" stop-color="#00a400"/><stop offset="78.73%" stop-color="#00a200"/><stop offset="78.89%" stop-color="#00d"/><stop offset="79.65%" stop-color="#00d"/><stop offset="79.8%" stop-color="#009cd3"/><stop offset="79.95%" stop-color="#00a400"/><stop offset="80.41%" stop-color="#00a700"/><stop offset="80.56%" stop-color="#0000b9"/><stop offset="81.78%" stop-color="#0000b9"/><stop offset="81.94%" stop-color="#009cd3"/><stop offset="82.39%" stop-color="#009cd3"/><stop offset="82.55%" stop-color="#83009a"/><stop offset="88.34%" stop-color="#820093"/><stop offset="90.17%" stop-color="#708"/><stop offset="90.47%" stop-color="#700080"/><stop offset="90.62%" stop-color="#700080"/><stop offset="90.78%" stop-color="#670075"/><stop offset="91.08%" stop-color="#670075"/><stop offset="91.23%" stop-color="#5d006b"/><stop offset="91.54%" stop-color="#5d006b"/><stop offset="91.69%" stop-color="#540060"/><stop offset="92%" stop-color="#540060"/><stop offset="92.15%" stop-color="#4b0055"/><stop offset="92.45%" stop-color="#4b0055"/><stop offset="92.61%" stop-color="#41004b"/><stop offset="93.06%" stop-color="#41004b"/><stop offset="93.22%" stop-color="#380040"/><stop offset="93.52%" stop-color="#380040"/><stop offset="93.67%" stop-color="#2f0035"/><stop offset="93.98%" stop-color="#2f0035"/><stop offset="94.13%" stop-color="#25002b"/><stop offset="94.44%" stop-color="#25002b"/><stop offset="94.59%" stop-color="#1c0020"/><stop offset="95.05%" stop-color="#1c0020"/><stop offset="95.2%" stop-color="#130015"/><stop offset="95.5%" stop-color="#130015"/><stop offset="95.66%" stop-color="#09000b"/><stop offset="96.11%" stop-color="#09000b"/><stop offset="96.27%" stop-color="#000"/><stop offset="99.92%" stop-color="#000"/></linearGradient>
<linearGradient id="gX8"><stop offset="0.08%" stop-color="#58009f"/><stop offset="0.38%" stop-color="#58009f"/><stop offset="0.53%" stop-color="#25002b"/><stop offset="15.93%" stop-color="#25002b"/><stop offset="16.08%" stop-color="#2f0035"/><stop offset="16.54%" stop-color="#2f0035"/><stop offset="16.69%" stop-color="#380040"/><stop offset="17%" stop-color="#380040"/><stop offset="17.15%" stop-color="#41004b"/><stop offset="17.3%" stop-color="#41004b"/><stop offset="17.61%" stop-color="#540060"/><stop offset="17.76%" stop-color="#540060"/><stop offset="18.37%" stop-color="#708"/><stop offset="19.89%" stop-color="#870098"/><stop offset="20.2%" stop-color="#78009b"/><stop offset="20.35%" stop-color="#63009e"/><stop offset="20.66%" stop-color="#4d00a0"/><stop offset="20.81%" stop-color="#2300a6"/><stop offset="20.96%" stop-color="#0300aa"/><stop offset="21.72%" stop-color="#0000d9"/><stop offset="21.88%" stop-color="#0009dd"/><stop offset="22.33%" stop-color="#0041dd"/><stop offset="22.64%" stop-color="#0070dd"/><stop offset="23.09%" stop-color="#0082dd"/><stop offset="24.31%" stop-color="#009bd7"/><stop offset="25.99%" stop-color="#00aaa0"/><stop offset="26.91%" stop-color="#0a8"/><stop offset="27.36%" stop-color="#00a668"/><stop offset="27.52%" stop-color="#00a668"/><stop offset="27.97%" stop-color="#00a248"/><stop offset="28.12%" stop-color="#00a248"/><stop offset="28.28%" stop-color="#00a13d"/><stop offset="28.43%" stop-color="#009e28"/><stop offset="29.04%" stop-color="#009a00"/><stop offset="32.24%" stop-color="#00c200"/><stop offset="35.9%" stop-color="#00d200"/><stop offset="43.67%" stop-color="#00d700"/><stop offset="44.89%" stop-color="#00dc00"/><stop offset="49.01%" stop-color="#00d200"/><stop offset="52.36%" stop-color="#00ca00"/><stop offset="55.26%" stop-color="#00c700"/><stop offset="58%" stop-color="#009c00"/><stop offset="58.61%" stop-color="#009a00"/><stop offset="59.83%" stop-color="#00a353"/><stop offset="59.98%" stop-color="#00a353"/><stop offset="60.59%" stop-color="#00a97d"/><stop offset="60.75%" stop-color="#00a97d"/><stop offset="61.05%" stop-color="#00aa8b"/><stop offset="64.25%" stop-color="#00a8af"/><stop offset="66.84%" stop-color="#0095dd"/><stop offset="68.98%" stop-color="#0078dd"/><stop offset="69.28%" stop-color="#0067dd"/><stop offset="69.44%" stop-color="#0067dd"/><stop offset="69.74%" stop-color="#0054dd"/><stop offset="70.35%" stop-color="#004bdd"/><stop offset="70.5%" stop-color="#0041dd"/><stop offset="71.11%" stop-color="#0038dd"/><stop offset="71.42%" stop-color="#002fdd"/><stop offset="71.57%" stop-color="#002fdd"/><stop offset="71.72%" stop-color="#0025dd"/><stop offset="72.03%" stop-color="#0025dd"/><stop offset="72.33%" stop-color="#001cdd"/><stop offset="72.94%" stop-color="#0013dd"/><stop offset="73.09%" stop-color="#0013dd"/><stop offset="73.25%" stop-color="#0009dd"/><stop offset="73.7%" stop-color="#0009dd"/><stop offset="74.01%" stop-color="#00d"/><stop offset="74.47%" stop-color="#0000d9"/><stop offset="74.62%" stop-color="#0a0"/><stop offset="74.77%" stop-color="#0a0"/><stop offset="74.92%" stop-color="#00d"/><stop offset="75.84%" stop-color="#00d"/><stop offset="75.99%" stop-color="#009cd3"/><stop offset="76.45%" stop-color="#009cd3"/><stop offset="76.6%" stop-color="#00d"/><stop offset="77.06%" stop-color="#00d"/><stop offset="77.21%" stop-color="#009cd3"/><stop offset="77.97%" stop-color="#009cd3"/><stop offset="78.12%" stop-color="#0098dd"/><stop offset="78.28%" stop-color="#0098dd"/><stop offset="78.43%" stop-color="#00a400"/><stop offset="78.73%" stop-color="#00a200"/><stop offset="78.89%" stop-color="#00d"/><stop offset="79.65%" stop-color="#00d"/><stop offset="79.8%" stop-color="#009cd3"/><stop offset="79.95%" stop-color="#00a400"/><stop offset="80.41%" stop-color="#00a700"/><stop offset="80.56%" stop-color="#0000b9"/><stop offset="81.78%" stop-color="#0000b9"/><stop offset="81.94%" stop-color="#009cd3"/><stop offset="82.39%" stop-color="#009cd3"/><stop offset="82.55%" stop-color="#83009a"/><stop offset="88.34%" stop-color="#820093"/><stop offset="90.17%" stop-color="#708"/><stop offset="90.47%" stop-color="#700080"/><stop offset="90.62%" stop-color="#700080"/><stop offset="90.78%" stop-color="#670075"/><stop offset="91.08%" stop-color="#670075"/><stop offset="91.23%" stop-color="#5d006b"/><stop offset="91.54%" stop-color="#5d006b"/><stop offset="91.69%" stop-color="#540060"/><stop offset="92%" stop-color="#540060"/><stop offset="92.15%" stop-color="#4b0055"/><stop offset="92.45%" stop-color="#4b0055"/><stop offset="92.61%" stop-color="#41004b"/><stop offset="93.06%" stop-color="#41004b"/><stop offset="93.22%" stop-color="#380040"/><stop offset="93.52%" stop-color="#380040"/><stop offset="93.67%" stop-color="#2f0035"/><stop offset="93.98%" stop-color="#2f0035"/><stop offset="94.13%" stop-color="#25002b"/><stop offset="94.44%" stop-color="#25002b"/><stop offset="94.59%" stop-color="#1c0020"/><stop offset="95.05%" stop-color="#1c0020"/><stop offset="95.2%" stop-color="#130015"/><stop offset="95.5%" stop-color="#130015"/><stop offset="95.66%" stop-color="#09000b"/><stop offset="96.11%" stop-color="#09000b"/><stop offset="96.27%" stop-color="#000"/><stop offset="99.92%" stop-color="#000"/></linearGradient>
<linearGradient id="gX9"><stop offset="0.08%" stop-color="#58009f"/><stop offset="0.38%" stop-color="#58009f"/><stop offset="0.53%" stop-color="#25002b"/><stop offset="15.93%" stop-color="#25002b"/><stop offset="16.08%" stop-color="#2f0035"/><stop offset="16.54%" stop-color="#2f0035"/><stop offset="16.69%" stop-color="#380040"/><stop offset="17%" stop-color="#380040"/><stop offset="17.15%" stop-color="#41004b"/><stop offset="17.3%" stop-color="#41004b"/><stop offset="17.61%" stop-color="#540060"/><stop offset="17.76%" stop-color="#540060"/><stop offset="18.37%" stop-color="#708"/><stop offset="19.89%" stop-color="#870098"/><stop offset="20.2%" stop-color="#78009b"/><stop offset="20.35%" stop-color="#63009e"/><stop offset="20.5%" stop-color="#58009f"/><stop offset="20.66%" stop-color="#4300a2"/><stop offset="20.96%" stop-color="#0000ad"/><stop offset="21.42%" stop-color="#00d"/><stop offset="21.88%" stop-color="#0067dd"/><stop offset="22.03%" stop-color="#007add"/><stop offset="22.79%" stop-color="#009adb"/><stop offset="24.16%" stop-color="#00aaa3"/><stop offset="25.38%" stop-color="#0a8"/><stop offset="25.99%" stop-color="#00a55d"/><stop offset="26.14%" stop-color="#00a248"/><stop offset="26.45%" stop-color="#009f33"/><stop offset="26.6%" stop-color="#009d1d"/><stop offset="27.06%" stop-color="#009a00"/><stop offset="28.43%" stop-color="#0a0"/><stop offset="30.41%" stop-color="#0c0"/><stop offset="34.38%" stop-color="#00df00"/><stop offset="43.52%" stop-color="#00e700"/><stop offset="45.05%" stop-color="#00ef00"/><stop offset="47.48%" stop-color="#00e400"/><stop offset="52.06%" stop-color="#00dc00"/><stop offset="54.34%" stop-color="#00df00"/><stop offset="55.56%" stop-color="#00dc00"/><stop offset="57.55%" stop-color="#00c200"/><stop offset="58.77%" stop-color="#00b400"/><stop offset="59.98%" stop-color="#009a00"/><stop offset="60.44%" stop-color="#009d1d"/><stop offset="60.59%" stop-color="#009d1d"/><stop offset="61.36%" stop-color="#00a353"/><stop offset="61.51%" stop-color="#00a353"/><stop offset="61.81%" stop-color="#00a668"/><stop offset="61.97%" stop-color="#00a668"/><stop offset="62.12%" stop-color="#00a773"/><stop offset="62.27%" stop-color="#00a773"/><stop offset="62.42%" stop-color="#00a97d"/><stop offset="62.58%" stop-color="#00a97d"/><stop offset="62.88%" stop-color="#00aa8b"/><stop offset="66.08%" stop-color="#00a7b3"/><stop offset="68.22%" stop-color="#0095dd"/><stop offset="69.89%" stop-color="#0078dd"/><stop offset="70.35%" stop-color="#005ddd"/><stop offset="70.66%" stop-color="#0054dd"/><stop offset="71.11%" stop-color="#0041dd"/><stop offset="71.72%" stop-color="#0038dd"/><stop offset="72.18%" stop-color="#0025dd"/><stop offset="72.79%" stop-color="#001cdd"/><stop offset="73.09%" stop-color="#0013dd"/><stop offset="73.25%" stop-color="#0013dd"/><stop offset="73.4%" stop-color="#0009dd"/><stop offset="73.7%" stop-color="#0009dd"/><stop offset="74.01%" stop-color="#00d"/><stop offset="74.47%" stop-color="#0000d9"/><stop offset="74.62%" stop-color="#0a0"/><stop offset="74.77%" stop-color="#0a0"/><stop offset="74.92%" stop-color="#00d"/><stop offset="75.84%" stop-color="#00d"/><stop offset="75.99%" stop-color="#009cd3"/><stop offset="76.45%" stop-color="#009cd3"/><stop offset="76.6%" stop-color="#00d"/><stop offset="77.06%" stop-color="#00d"/><stop offset="77.21%" stop-color="#009cd3"/><stop offset="77.97%" stop-color="#009cd3"/><stop offset="78.12%" stop-color="#0098dd"/><stop offset="78.28%" stop-color="#0098dd"/><stop offset="78.43%" stop-color="#00a400"/><stop offset="78.73%" stop-color="#00a200"/><stop offset="78.89%" stop-color="#00d"/><stop offset="79.65%" stop-color="#00d"/><stop offset="79.8%" stop-color="#009cd3"/><stop offset="79.95%" stop-color="#00a400"/><stop offset="80.41%" stop-color="#00a700"/><stop offset="80.56%" stop-color="#0000b9"/><stop offset="81.78%" stop-color="#0000b9"/><stop offset="81.94%" stop-color="#009cd3"/><stop offset="82.39%" stop-color="#009cd3"/><stop offset="82.55%" stop-color="#83009a"/><stop offset="88.34%" stop-color="#820093"/><stop offset="90.17%" stop-color="#708"/><stop offset="90.47%" stop-color="#700080"/><stop offset="90.62%" stop-color="#700080"/><stop offset="90.78%" stop-color="#670075"/><stop offset="91.08%" stop-color="#670075"/><stop offset="91.23%" stop-color="#5d006b"/><stop offset="91.54%" stop-color="#5d006b"/><stop offset="91.69%" stop-color="#540060"/><stop offset="92%" stop-color="#540060"/><stop offset="92.15%" stop-color="#4b0055"/><stop offset="92.45%" stop-color="#4b0055"/><stop offset="92.61%" stop-color="#41004b"/><stop offset="93.06%" stop-color="#41004b"/><stop offset="93.22%" stop-color="#380040"/><stop offset="93.52%" stop-color="#380040"/><stop offset="93.67%" stop-color="#2f0035"/><stop offset="93.98%" stop-color="#2f0035"/><stop offset="94.13%" stop-color="#25002b"/><stop offset="94.44%" stop-color="#25002b"/><stop offset="94.59%" stop-color="#1c0020"/><stop offset="95.05%" stop-color="#1c0020"/><stop offset="95.2%" stop-color="#130015"/><stop offset="95.5%" stop-color="#130015"/><stop offset="95.66%" stop-color="#09000b"/><stop offset="96.11%" stop-color="#09000b"/><stop offset="96.27%" stop-color="#000"/><stop offset="99.92%" stop-color="#000"/></linearGradient>
<linearGradient id="gX10"><stop offset="0.08%" stop-color="#58009f"/><stop offset="0.38%" stop-color="#58009f"/><stop offset="0.53%" stop-color="#25002b"/><stop offset="15.93%" stop-color="#25002b"/><stop offset="16.08%" stop-color="#2f0035"/><stop offset="16.54%" stop-color="#2f0035"/><stop offset="16.69%" stop-color="#380040"/><stop offset="17%" stop-color="#380040"/><stop offset="17.15%" stop-color="#41004b"/><stop offset="17.3%" stop-color="#41004b"/><stop offset="17.61%" stop-color="#540060"/><stop offset="17.76%" stop-color="#540060"/><stop offset="18.37%" stop-color="#708"/><stop offset="19.89%" stop-color="#870098"/><stop offset="20.2%" stop-color="#78009b"/><stop offset="20.35%" stop-color="#63009e"/><stop offset="20.5%" stop-color="#58009f"/><stop offset="20.66%" stop-color="#4300a2"/><stop offset="20.96%" stop-color="#0000ad"/><stop offset="21.42%" stop-color="#0000d9"/><stop offset="21.72%" stop-color="#0038dd"/><stop offset="21.88%" stop-color="#005ddd"/><stop offset="22.03%" stop-color="#0078dd"/><stop offset="22.79%" stop-color="#0098dd"/><stop offset="24.16%" stop-color="#00aaa5"/><stop offset="25.53%" stop-color="#0a8"/><stop offset="25.84%" stop-color="#00a773"/><stop offset="25.99%" stop-color="#00a55d"/><stop offset="26.3%" stop-color="#00a248"/><stop offset="26.45%" stop-color="#009f33"/><stop offset="27.21%" stop-color="#009a00"/><stop offset="28.73%" stop-color="#00ac00"/><stop offset="30.72%" stop-color="#00c400"/><stop offset="34.68%" stop-color="#00d400"/><stop offset="43.52%" stop-color="#00da00"/><stop offset="44.89%" stop-color="#00e200"/><stop offset="47.64%" stop-color="#00d700"/><stop offset="50.38%" stop-color="#00d200"/><stop offset="54.04%" stop-color="#0c0"/><stop offset="55.56%" stop-color="#00bf00"/><stop offset="57.55%" stop-color="#009a00"/><stop offset="58%" stop-color="#009a00"/><stop offset="58.31%" stop-color="#009a08"/><stop offset="59.53%" stop-color="#00a55d"/><stop offset="59.68%" stop-color="#00a55d"/><stop offset="60.14%" stop-color="#00a97d"/><stop offset="60.29%" stop-color="#00a97d"/><stop offset="60.59%" stop-color="#00aa8b"/><stop offset="63.8%" stop-color="#00a8af"/><stop offset="66.39%" stop-color="#0098dd"/><stop offset="68.67%" stop-color="#0078dd"/><stop offset="68.98%" stop-color="#0067dd"/><stop offset="69.13%" stop-color="#0067dd"/><stop offset="69.28%" stop-color="#005ddd"/><stop offset="69.59%" stop-color="#0054dd"/><stop offset="69.89%" stop-color="#004bdd"/><stop offset="70.05%" stop-color="#004bdd"/><stop offset="70.2%" stop-color="#0041dd"/><stop offset="70.5%" stop-color="#0041dd"/><stop offset="70.81%" stop-color="#0038dd"/><stop offset="71.42%" stop-color="#002fdd"/><stop offset="71.57%" stop-color="#0025dd"/><stop offset="71.88%" stop-color="#0025dd"/><stop offset="72.18%" stop-color="#001cdd"/><stop offset="72.48%" stop-color="#001cdd"/><stop offset="72.79%" stop-color="#0013dd"/><stop offset="73.09%" stop-color="#0013dd"/><stop offset="73.25%" stop-color="#0009dd"/><stop offset="73.55%" stop-color="#0009dd"/><stop offset="73.86%" stop-color="#00d"/><stop offset="74.47%" stop-color="#0000d9"/><stop offset="74.62%" stop-color="#0a0"/><stop offset="74.77%" stop-color="#0a0"/><stop offset="74.92%" stop-color="#00d"/><stop offset="75.84%" stop-color="#00d"/><stop offset="75.99%" stop-color="#009cd3"/><stop offset="76.45%" stop-color="#009cd3"/><stop offset="76.6%" stop-color="#00d"/><stop offset="77.06%" stop-color="#00d"/><stop offset="77.21%" stop-color="#009cd3"/><stop offset="77.97%" stop-color="#009cd3"/><stop offset="78.12%" stop-color="#0098dd"/><stop offset="78.28%" stop-color="#0098dd"/><stop offset="78.43%" stop-color="#00a400"/><stop offset="78.73%" stop-color="#00a200"/><stop offset="78.89%" stop-color="#00d"/><stop offset="79.65%" stop-color="#00d"/><stop offset="79.8%" stop-color="#009cd3"/><stop offset="79.95%" stop-color="#00a400"/><stop offset="80.41%" stop-color="#00a700"/><stop offset="80.56%" stop-color="#0000b9"/><stop offset="81.78%" stop-color="#0000b9"/><stop offset="81.94%" stop-color="#009cd3"/><stop offset="82.39%" stop-color="#009cd3"/><stop offset="82.55%" stop-color="#83009a"/><stop offset="88.34%" stop-color="#820093"/><stop offset="90.17%" stop-color="#708"/><stop offset="90.47%" stop-color="#700080"/><stop offset="90.62%" stop-color="#700080"/><stop offset="90.78%" stop-color="#670075"/><stop offset="91.08%" stop-color="#670075"/><stop offset="91.23%" stop-color="#5d006b"/><stop offset="91.54%" stop-color="#5d006b"/><stop offset="91.69%" stop-color="#540060"/><stop offset="92%" stop-color="#540060"/><stop offset="92.15%" stop-color="#4b0055"/><stop offset="92.45%" stop-color="#4b0055"/><stop offset="92.61%" stop-color="#41004b"/><stop offset="93.06%" stop-color="#41004b"/><stop offset="93.22%" stop-color="#380040"/><stop offset="93.52%" stop-color="#380040"/><stop offset="93.67%" stop-color="#2f0035"/><stop offset="93.98%" stop-color="#2f0035"/><stop offset="94.13%" stop-color="#25002b"/><stop offset="94.44%" stop-color="#25002b"/><stop offset="94.59%" stop-color="#1c0020"/><stop offset="95.05%" stop-color="#1c0020"/><stop offset="95.2%" stop-color="#130015"/><stop offset="95.5%" stop-color="#130015"/><stop offset="95.66%" stop-color="#09000b"/><stop offset="96.11%" stop-color="#09000b"/><stop offset="96.27%" stop-color="#000"/><stop offset="99.92%" stop-color="#000"/></linearGradient>
<linearGradient id="gX11"><stop offset="0.08%" stop-color="#58009f"/><stop offset="0.38%" stop-color="#58009f"/><stop offset="0.53%" stop-color="#25002b"/><stop offset="15.93%" stop-color="#25002b"/><stop offset="16.08%" stop-color="#2f0035"/><stop offset="16.54%" stop-color="#2f0035"/><stop offset="16.69%" stop-color="#380040"/><stop offset="17%" stop-color="#380040"/><stop offset="17.15%" stop-color="#41004b"/><stop offset="17.3%" stop-color="#41004b"/><stop offset="17.61%" stop-color="#540060"/><stop offset="17.76%" stop-color="#540060"/><stop offset="18.37%" stop-color="#708"/><stop offset="19.89%" stop-color="#870098"/><stop offset="20.2%" stop-color="#78009b"/><stop offset="20.35%" stop-color="#63009e"/><stop offset="20.66%" stop-color="#4d00a0"/><stop offset="20.96%" stop-color="#0d00a8"/><stop offset="21.11%" stop-color="#0000b1"/><stop offset="21.72%" stop-color="#0000d1"/><stop offset="22.03%" stop-color="#00d"/><stop offset="22.18%" stop-color="#0013dd"/><stop offset="22.33%" stop-color="#001cdd"/><stop offset="22.64%" stop-color="#0041dd"/><stop offset="23.25%" stop-color="#0078dd"/><stop offset="25.08%" stop-color="#009adb"/><stop offset="27.06%" stop-color="#00aaa0"/><stop offset="28.28%" stop-color="#0a8"/><stop offset="28.73%" stop-color="#00a668"/><stop offset="28.89%" stop-color="#00a353"/><stop offset="30.11%" stop-color="#009a00"/><stop offset="33.46%" stop-color="#00c400"/><stop offset="36.51%" stop-color="#00cf00"/><stop offset="43.67%" stop-color="#00d700"/><stop offset="44.89%" stop-color="#00dc00"/><stop offset="48.86%" stop-color="#00d200"/><stop offset="53.43%" stop-color="#0c0"/><stop offset="55.26%" stop-color="#00d200"/><stop offset="57.55%" stop-color="#00ba00"/><stop offset="58.61%" stop-color="#00b700"/><stop offset="60.29%" stop-color="#009a00"/><stop offset="60.59%" stop-color="#009a08"/><stop offset="61.36%" stop-color="#00a13d"/><stop offset="61.51%" stop-color="#00a13d"/><stop offset="61.66%" stop-color="#00a248"/><stop offset="61.81%" stop-color="#00a248"/><stop offset="62.12%" stop-color="#00a55d"/><stop offset="62.27%" stop-color="#00a55d"/><stop offset="62.58%" stop-color="#00a773"/><stop offset="62.73%" stop-color="#00a773"/><stop offset="63.03%" stop-color="#0a8"/><stop offset="66.23%" stop-color="#00a8af"/><stop offset="68.52%" stop-color="#0095dd"/><stop offset="70.05%" stop-color="#0078dd"/><stop offset="70.5%" stop-color="#0067dd"/><stop offset="70.96%" stop-color="#004bdd"/><stop offset="71.11%" stop-color="#004bdd"/><stop offset="71.27%" stop-color="#0041dd"/><stop offset="71.88%" stop-color="#0038dd"/><stop offset="72.33%" stop-color="#0025dd"/><stop offset="72.94%" stop-color="#001cdd"/><stop offset="73.4%" stop-color="#0009dd"/><stop offset="73.7%" stop-color="#0009dd"/><stop offset="74.01%" stop-color="#00d"/><stop offset="74.47%" stop-color="#0000d9"/><stop offset="74.62%" stop-color="#0a0"/><stop offset="74.77%" stop-color="#0a0"/><stop offset="74.92%" stop-color="#00d"/><stop offset="75.84%" stop-color="#00d"/><stop offset="75.99%" stop-color="#009cd3"/><stop offset="76.45%" stop-color="#009cd3"/><stop offset="76.6%" stop-color="#00d"/><stop offset="77.06%" stop-color="#00d"/><stop offset="77.21%" stop-color="#009cd3"/><stop offset="77.97%" stop-color="#009cd3"/><stop offset="78.12%" stop-color="#0098dd"/><stop offset="78.28%" stop-color="#0098dd"/><stop offset="78.43%" stop-color="#00a400"/><stop offset="78.73%" stop-color="#00a200"/><stop offset="78.89%" stop-color="#00d"/><stop offset="79.65%" stop-color="#00d"/><stop offset="79.8%" stop-color="#009cd3"/><stop offset="79.95%" stop-color="#00a400"/><stop offset="80.41%" stop-color="#00a700"/><stop offset="80.56%" stop-color="#0000b9"/><stop offset="81.78%" stop-color="#0000b9"/><stop offset="81.94%" stop-color="#009cd3"/><stop offset="82.39%" stop-color="#009cd3"/><stop offset="82.55%" stop-color="#83009a"/><stop offset="88.34%" stop-color="#820093"/><stop offset="90.17%" stop-color="#708"/><stop offset="90.47%" stop-color="#700080"/><stop offset="90.62%" stop-color="#700080"/><stop offset="90.78%" stop-color="#670075"/><stop offset="91.08%" stop-color="#670075"/><stop offset="91.23%" stop-color="#5d006b"/><stop offset="91.54%" stop-color="#5d006b"/><stop offset="91.69%" stop-color="#540060"/><stop offset="92%" stop-color="#540060"/><stop offset="92.15%" stop-color="#4b0055"/><stop offset="92.45%" stop-color="#4b0055"/><stop offset="92.61%" stop-color="#41004b"/><stop offset="93.06%" stop-color="#41004b"/><stop offset="93.22%" stop-color="#380040"/><stop offset="93.52%" stop-color="#380040"/><stop offset="93.67%" stop-color="#2f0035"/><stop offset="93.98%" stop-color="#2f0035"/><stop offset="94.13%" stop-color="#25002b"/><stop offset="94.44%" stop-color="#25002b"/><stop offset="94.59%" stop-color="#1c0020"/><stop offset="95.05%" stop-color="#1c0020"/><stop offset="95.2%" stop-color="#130015"/><stop offset="95.5%" stop-color="#130015"/><stop offset="95.66%" stop-color="#09000b"/><stop offset="96.11%" stop-color="#09000b"/><stop offset="96.27%" stop-color="#000"/><stop offset="99.92%" stop-color="#000"/></linearGradient>
<linearGradient id="gX12"><stop offset="0.08%" stop-color="#58009f"/><stop offset="0.38%" stop-color="#58009f"/><stop offset="0.53%" stop-color="#25002b"/><stop offset="15.93%" stop-color="#25002b"/><stop offset="16.08%" stop-color="#2f0035"/><stop offset="16.54%" stop-color="#2f0035"/><stop offset="16.69%" stop-color="#380040"/><stop offset="17%" stop-color="#380040"/><stop offset="17.15%" stop-color="#41004b"/><stop offset="17.3%" stop-color="#41004b"/><stop offset="17.61%" stop-color="#540060"/><stop offset="17.76%" stop-color="#540060"/><stop offset="18.37%" stop-color="#708"/><stop offset="19.89%" stop-color="#870098"/><stop offset="20.2%" stop-color="#78009b"/><stop offset="20.35%" stop-color="#63009e"/><stop offset="20.5%" stop-color="#58009f"/><stop offset="20.66%" stop-color="#4300a2"/><stop offset="20.81%" stop-color="#1800a7"/><stop offset="20.96%" stop-color="#0000ad"/><stop offset="21.27%" stop-color="#0000d1"/><stop offset="21.42%" stop-color="#0009dd"/><stop offset="21.88%" stop-color="#0078dd"/><stop offset="22.64%" stop-color="#009adb"/><stop offset="23.86%" stop-color="#00aaa5"/><stop offset="25.23%" stop-color="#0a8"/><stop offset="25.84%" stop-color="#00a55d"/><stop offset="25.99%" stop-color="#00a248"/><stop offset="26.3%" stop-color="#009f33"/><stop offset="26.45%" stop-color="#009d1d"/><stop offset="26.91%" stop-color="#009a00"/><stop offset="28.73%" stop-color="#00b400"/><stop offset="30.26%" stop-color="#00cf00"/><stop offset="34.22%" stop-color="#00e200"/><stop offset="38.95%" stop-color="#00e700"/><stop offset="43.83%" stop-color="#00ec00"/><stop offset="45.05%" stop-color="#00f200"/><stop offset="47.48%" stop-color="#00ea00"/><stop offset="53.28%" stop-color="#00dc00"/><stop offset="55.11%" stop-color="#00e200"/><stop offset="57.7%" stop-color="#00c400"/><stop offset="58.92%" stop-color="#00b200"/><stop offset="59.98%" stop-color="#009a00"/><stop offset="60.44%" stop-color="#009d1d"/><stop offset="60.59%" stop-color="#009d1d"/><stop offset="61.36%" stop-color="#00a353"/><stop offset="61.51%" stop-color="#00a353"/><stop offset="61.81%" stop-color="#00a668"/><stop offset="61.97%" stop-color="#00a668"/><stop offset="62.12%" stop-color="#00a773"/><stop offset="62.27%" stop-color="#00a773"/><stop offset="62.42%" stop-color="#00a97d"/><stop offset="62.58%" stop-color="#00a97d"/><stop offset="62.88%" stop-color="#00aa8b"/><stop offset="66.08%" stop-color="#00a7b3"/><stop offset="68.22%" stop-color="#0095dd"/><stop offset="69.89%" stop-color="#0078dd"/><stop offset="70.35%" stop-color="#005ddd"/><stop offset="70.66%" stop-color="#0054dd"/><stop offset="71.11%" stop-color="#0041dd"/><stop offset="71.72%" stop-color="#0038dd"/><stop offset="72.18%" stop-color="#0025dd"/><stop offset="72.79%" stop-color="#001cdd"/><stop offset="73.09%" stop-color="#0013dd"/><stop offset="73.25%" stop-color="#0013dd"/><stop offset="73.4%" stop-color="#0009dd"/><stop offset="73.7%" stop-color="#0009dd"/><stop offset="74.01%" stop-color="#00d"/><stop offset="74.47%" stop-color="#0000d9"/><stop offset="74.62%" stop-color="#0a0"/><stop offset="74.77%" stop-color="#0a0"/><stop offset="74.92%" stop-color="#00d"/><stop offset="75.84%" stop-color="#00d"/><stop offset="75.99%" stop-color="#009cd3"/><stop offset="76.45%" stop-color="#009cd3"/><stop offset="76.6%" stop-color="#00d"/><stop offset="77.06%" stop-color="#00d"/><stop offset="77.21%" stop-color="#009cd3"/><stop offset="77.97%" stop-color="#009cd3"/><stop offset="78.12%" stop-color="#0098dd"/><stop offset="78.28%" stop-color="#0098dd"/><stop offset="78.43%" stop-color="#00a400"/><stop offset="78.73%" stop-color="#00a200"/><stop offset="78.89%" stop-color="#00d"/><stop offset="79.65%" stop-color="#00d"/><stop offset="79.8%" stop-color="#009cd3"/><stop offset="79.95%" stop-color="#00a400"/><stop offset="80.41%" stop-color="#00a700"/><stop offset="80.56%" stop-color="#0000b9"/><stop offset="81.78%" stop-color="#0000b9"/><stop offset="81.94%" stop-color="#009cd3"/><stop offset="82.39%" stop-color="#009cd3"/><stop offset="82.55%" stop-color="#83009a"/><stop offset="88.34%" stop-color="#820093"/><stop offset="90.17%" stop-color="#708"/><stop offset="90.47%" stop-color="#700080"/><stop offset="90.62%" stop-color="#700080"/><stop offset="90.78%" stop-color="#670075"/><stop offset="91.08%" stop-color="#670075"/><stop offset="91.23%" stop-color="#5d006b"/><stop offset="91.54%" stop-color="#5d006b"/><stop offset="91.69%" stop-color="#540060"/><stop offset="92%" stop-color="#540060"/><stop offset="92.15%" stop-color="#4b0055"/><stop offset="92.45%" stop-color="#4b0055"/><stop offset="92.61%" stop-color="#41004b"/><stop offset="93.06%" stop-color="#41004b"/><stop offset="93.22%" stop-color="#380040"/><stop offset="93.52%" stop-color="#380040"/><stop offset="93.67%" stop-color="#2f0035"/><stop offset="93.98%" stop-color="#2f0035"/><stop offset="94.13%" stop-color="#25002b"/><stop offset="94.44%" stop-color="#25002b"/><stop offset="94.59%" stop-color="#1c0020"/><stop offset="95.05%" stop-color="#1c0020"/><stop offset="95.2%" stop-color="#130015"/><stop offset="95.5%" stop-color="#130015"/><stop offset="95.66%" stop-color="#09000b"/><stop offset="96.11%" stop-color="#09000b"/><stop offset="96.27%" stop-color="#000"/><stop offset="99.92%" stop-color="#000"/></linearGradient>
<linearGradient id="gX13"><stop offset="0.08%" stop-color="#58009f"/><stop offset="0.38%" stop-color="#58009f"/><stop offset="0.53%" stop-color="#25002b"/><stop offset="15.93%" stop-color="#25002b"/><stop offset="16.08%" stop-color="#2f0035"/><stop offset="16.54%" stop-color="#2f0035"/><stop offset="16.69%" stop-color="#380040"/><stop offset="17%" stop-color="#380040"/><stop offset="17.15%" stop-color="#41004b"/><stop offset="17.3%" stop-color="#41004b"/><stop offset="17.61%" stop-color="#540060"/><stop offset="17.76%" stop-color="#540060"/><stop offset="18.37%" stop-color="#708"/><stop offset="19.89%" stop-color="#870098"/><stop offset="20.2%" stop-color="#78009b"/><stop offset="20.35%" stop-color="#63009e"/><stop offset="20.66%" stop-color="#4d00a0"/><stop offset="20.96%" stop-color="#0d00a8"/><stop offset="21.11%" stop-color="#0000b5"/><stop offset="21.88%" stop-color="#00d"/><stop offset="22.64%" stop-color="#005ddd"/><stop offset="22.94%" stop-color="#0078dd"/><stop offset="24.47%" stop-color="#009adb"/><stop offset="26.45%" stop-color="#00aa9d"/><stop offset="27.36%" stop-color="#0a8"/><stop offset="27.52%" stop-color="#00a97d"/><stop offset="27.67%" stop-color="#00a97d"/><stop offset="28.58%" stop-color="#00a13d"/><stop offset="28.73%" stop-color="#009e28"/><stop offset="29.34%" stop-color="#009a00"/><stop offset="32.7%" stop-color="#00c400"/><stop offset="35.75%" stop-color="#00d200"/><stop offset="43.37%" stop-color="#00d400"/><stop offset="44.74%" stop-color="#00df00"/><stop offset="47.48%" stop-color="#00d400"/><stop offset="50.38%" stop-color="#00cf00"/><stop offset="53.43%" stop-color="#00ca00"/><stop offset="55.26%" stop-color="#00c700"/><stop offset="58%" stop-color="#009c00"/><stop offset="58.61%" stop-color="#009a00"/><stop offset="59.83%" stop-color="#00a353"/><stop offset="59.98%" stop-color="#00a353"/><stop offset="60.59%" stop-color="#00a97d"/><stop offset="60.75%" stop-color="#00a97d"/><stop offset="61.05%" stop-color="#00aa8b"/><stop offset="64.25%" stop-color="#00a8af"/><stop offset="66.84%" stop-color="#0095dd"/><stop offset="68.98%" stop-color="#0078dd"/><stop offset="69.28%" stop-color="#0067dd"/><stop offset="69.44%" stop-color="#0067dd"/><stop offset="69.74%" stop-color="#0054dd"/><stop offset="70.35%" stop-color="#004bdd"/><stop offset="70.5%" stop-color="#0041dd"/><stop offset="71.11%" stop-color="#0038dd"/><stop offset="71.42%" stop-color="#002fdd"/><stop offset="71.57%" stop-color="#002fdd"/><stop offset="71.72%" stop-color="#0025dd"/><stop offset="72.03%" stop-color="#0025dd"/><stop offset="72.33%" stop-color="#001cdd"/><stop offset="72.94%" stop-color="#0013dd"/><stop offset="73.09%" stop-color="#0013dd"/><stop offset="73.25%" stop-color="#0009dd"/><stop offset="73.7%" stop-color="#0009dd"/><stop offset="74.01%" stop-color="#00d"/><stop offset="74.47%" stop-color="#0000d9"/><stop offset="74.62%" stop-color="#0a0"/><stop offset="74.77%" stop-color="#0a0"/><stop offset="74.92%" stop-color="#00d"/><stop offset="75.84%" stop-color="#00d"/><stop offset="75.99%" stop-color="#009cd3"/><stop offset="76.45%" stop-color="#009cd3"/><stop offset="76.6%" stop-color="#00d"/><stop offset="77.06%" stop-color="#00d"/><stop offset="77.21%" stop-color="#009cd3"/><stop offset="77.97%" stop-color="#009cd3"/><stop offset="78.12%" stop-color="#0098dd"/><stop offset="78.28%" stop-color="#0098dd"/><stop offset="78.43%" stop-color="#00a400"/><stop offset="78.73%" stop-color="#00a200"/><stop offset="78.89%" stop-color="#00d"/><stop offset="79.65%" stop-color="#00d"/><stop offset="79.8%" stop-color="#009cd3"/><stop offset="79.95%" stop-color="#00a400"/><stop offset="80.41%" stop-color="#00a700"/><stop offset="80.56%" stop-color="#0000b9"/><stop offset="81.78%" stop-color="#0000b9"/><stop offset="81.94%" stop-color="#009cd3"/><stop offset="82.39%" stop-color="#009cd3"/><stop offset="82.55%" stop-color="#83009a"/><stop offset="88.34%" stop-color="#820093"/><stop offset="90.17%" stop-color="#708"/><stop offset="90.47%" stop-color="#700080"/><stop offset="90.62%" stop-color="#700080"/><stop offset="90.78%" stop-color="#670075"/><stop offset="91.08%" stop-color="#670075"/><stop offset="91.23%" stop-color="#5d006b"/><stop offset="91.54%" stop-color="#5d006b"/><stop offset="91.69%" stop-color="#540060"/><stop offset="92%" stop-color="#540060"/><stop offset="92.15%" stop-color="#4b0055"/><stop offset="92.45%" stop-color="#4b0055"/><stop offset="92.61%" stop-color="#41004b"/><stop offset="93.06%" stop-color="#41004b"/><stop offset="93.22%" stop-color="#380040"/><stop offset="93.52%" stop-color="#380040"/><stop offset="93.67%" stop-color="#2f0035"/><stop offset="93.98%" stop-color="#2f0035"/><stop offset="94.13%" stop-color="#25002b"/><stop offset="94.44%" stop-color="#25002b"/><stop offset="94.59%" stop-color="#1c0020"/><stop offset="95.05%" stop-color="#1c0020"/><stop offset="95.2%" stop-color="#130015"/><stop offset="95.5%" stop-color="#130015"/><stop offset="95.66%" stop-color="#09000b"/><stop offset="96.11%" stop-color="#09000b"/><stop offset="96.27%" stop-color="#000"/><stop offset="99.92%" stop-color="#000"/></linearGradient>
<linearGradient id="gX14"><stop offset="0.08%" stop-color="#58009f"/><stop offset="0.38%" stop-color="#58009f"/><stop offset="0.53%" stop-color="#25002b"/><stop offset="15.93%" stop-color="#25002b"/><stop offset="16.08%" stop-color="#2f0035"/><stop offset="16.54%" stop-color="#2f0035"/><stop offset="16.69%" stop-color="#380040"/><stop offset="17%" stop-color="#380040"/><stop offset="17.15%" stop-color="#41004b"/><stop offset="17.3%" stop-color="#41004b"/><stop offset="17.61%" stop-color="#540060"/><stop offset="17.76%" stop-color="#540060"/><stop offset="18.37%" stop-color="#708"/><stop offset="19.89%" stop-color="#870098"/><stop offset="20.2%" stop-color="#78009b"/><stop offset="20.35%" stop-color="#63009e"/><stop offset="20.66%" stop-color="#4d00a0"/><stop offset="20.96%" stop-color="#0d00a8"/><stop offset="21.11%" stop-color="#0000ad"/><stop offset="21.72%" stop-color="#0000cd"/><stop offset="22.18%" stop-color="#00d"/><stop offset="22.33%" stop-color="#0013dd"/><stop offset="22.48%" stop-color="#001cdd"/><stop offset="22.64%" stop-color="#002fdd"/><stop offset="22.79%" stop-color="#0038dd"/><stop offset="22.94%" stop-color="#004bdd"/><stop offset="23.25%" stop-color="#005ddd"/><stop offset="23.4%" stop-color="#0070dd"/><stop offset="24.01%" stop-color="#0082dd"/><stop offset="25.53%" stop-color="#009adb"/><stop offset="27.82%" stop-color="#00aa9d"/><stop offset="28.73%" stop-color="#0a8"/><stop offset="30.72%" stop-color="#009a00"/><stop offset="33.92%" stop-color="#00bf00"/><stop offset="36.66%" stop-color="#00c700"/><stop offset="43.52%" stop-color="#00cf00"/><stop offset="45.05%" stop-color="#00d700"/><stop offset="47.79%" stop-color="#0c0"/><stop offset="54.95%" stop-color="#00bf00"/><stop offset="57.09%" stop-color="#009a00"/><stop offset="57.39%" stop-color="#009a08"/><stop offset="57.55%" stop-color="#009b13"/><stop offset="57.85%" stop-color="#009b13"/><stop offset="58%" stop-color="#009d1d"/><stop offset="58.31%" stop-color="#009d1d"/><stop offset="59.53%" stop-color="#00a773"/><stop offset="59.68%" stop-color="#00a773"/><stop offset="59.98%" stop-color="#0a8"/><stop offset="63.64%" stop-color="#00a7b3"/><stop offset="66.08%" stop-color="#0095dd"/><stop offset="68.37%" stop-color="#0078dd"/><stop offset="68.98%" stop-color="#0067dd"/><stop offset="69.28%" stop-color="#0054dd"/><stop offset="69.89%" stop-color="#004bdd"/><stop offset="70.05%" stop-color="#0041dd"/><stop offset="70.35%" stop-color="#0041dd"/><stop offset="70.66%" stop-color="#0038dd"/><stop offset="71.27%" stop-color="#002fdd"/><stop offset="71.42%" stop-color="#0025dd"/><stop offset="71.72%" stop-color="#0025dd"/><stop offset="72.03%" stop-color="#001cdd"/><stop offset="72.33%" stop-color="#001cdd"/><stop offset="72.64%" stop-color="#0013dd"/><stop offset="72.94%" stop-color="#0013dd"/><stop offset="73.09%" stop-color="#0009dd"/><stop offset="73.55%" stop-color="#0009dd"/><stop offset="73.86%" stop-color="#00d"/><stop offset="74.47%" stop-color="#0000d9"/><stop offset="74.62%" stop-color="#0a0"/><stop offset="74.77%" stop-color="#0a0"/><stop offset="74.92%" stop-color="#00d"/><stop offset="75.84%" stop-color="#00d"/><stop offset="75.99%" stop-color="#009cd3"/><stop offset="76.45%" stop-color="#009cd3"/><stop offset="76.6%" stop-color="#00d"/><stop offset="77.06%" stop-color="#00d"/><stop offset="77.21%" stop-color="#009cd3"/><stop offset="77.97%" stop-color="#009cd3"/><stop offset="78.12%" stop-color="#0098dd"/><stop offset="78.28%" stop-color="#0098dd"/><stop offset="78.43%" stop-color="#00a400"/><stop offset="78.73%" stop-color="#00a200"/><stop offset="78.89%" stop-color="#00d"/><stop offset="79.65%" stop-color="#00d"/><stop offset="79.8%" stop-color="#009cd3"/><stop offset="79.95%" stop-color="#00a400"/><stop offset="80.41%" stop-color="#00a700"/><stop offset="80.56%" stop-color="#0000b9"/><stop offset="81.78%" stop-color="#0000b9"/><stop offset="81.94%" stop-color="#009cd3"/><stop offset="82.39%" stop-color="#009cd3"/><stop offset="82.55%" stop-color="#83009a"/><stop offset="88.34%" stop-color="#820093"/><stop offset="90.17%" stop-color="#708"/><stop offset="90.47%" stop-color="#700080"/><stop offset="90.62%" stop-color="#700080"/><stop offset="90.78%" stop-color="#670075"/><stop offset="91.08%" stop-color="#670075"/><stop offset="91.23%" stop-color="#5d006b"/><stop offset="91.54%" stop-color="#5d006b"/><stop offset="91.69%" stop-color="#540060"/><stop offset="92%" stop-color="#540060"/><stop offset="92.15%" stop-color="#4b0055"/><stop offset="92.45%" stop-color="#4b0055"/><stop offset="92.61%" stop-color="#41004b"/><stop offset="93.06%" stop-color="#41004b"/><stop offset="93.22%" stop-color="#380040"/><stop offset="93.52%" stop-color="#380040"/><stop offset="93.67%" stop-color="#2f0035"/><stop offset="93.98%" stop-color="#2f0035"/><stop offset="94.13%" stop-color="#25002b"/><stop offset="94.44%" stop-color="#25002b"/><stop offset="94.59%" stop-color="#1c0020"/><stop offset="95.05%" stop-color="#1c0020"/><stop offset="95.2%" stop-color="#130015"/><stop offset="95.5%" stop-color="#130015"/><stop offset="95.66%" stop-color="#09000b"/><stop offset="96.11%" stop-color="#09000b"/><stop offset="96.27%" stop-color="#000"/><stop offset="99.92%" stop-color="#000"/></linearGradient>
<linearGradient id="gX15"><stop offset="0.08%" stop-color="#58009f"/><stop offset="0.38%" stop-color="#58009f"/><stop offset="0.53%" stop-color="#25002b"/><stop offset="15.93%" stop-color="#25002b"/><stop offset="16.08%" stop-color="#2f0035"/><stop offset="16.54%" stop-color="#2f0035"/><stop offset="16.69%" stop-color="#380040"/><stop offset="17%" stop-color="#380040"/><stop offset="17.15%" stop-color="#41004b"/><stop offset="17.3%" stop-color="#41004b"/><stop offset="17.61%" stop-color="#540060"/><stop offset="17.76%" stop-color="#540060"/><stop offset="18.37%" stop-color="#708"/><stop offset="19.89%" stop-color="#870098"/><stop offset="20.2%" stop-color="#78009b"/><stop offset="20.35%" stop-color="#63009e"/><stop offset="20.66%" stop-color="#4d00a0"/><stop offset="20.96%" stop-color="#0d00a8"/><stop offset="21.11%" stop-color="#0000ad"/><stop offset="21.72%" stop-color="#0000cd"/><stop offset="22.18%" stop-color="#00d"/><stop offset="22.33%" stop-color="#0013dd"/><stop offset="22.48%" stop-color="#001cdd"/><stop offset="22.64%" stop-color="#002fdd"/><stop offset="22.79%" stop-color="#0038dd"/><stop offset="22.94%" stop-color="#004bdd"/><stop offset="23.25%" stop-color="#005ddd"/><stop offset="23.4%" stop-color="#0070dd"/><stop offset="24.01%" stop-color="#0082dd"/><stop offset="25.53%" stop-color="#009adb"/><stop offset="27.82%" stop-color="#00aa9d"/><stop offset="28.73%" stop-color="#0a8"/><stop offset="30.72%" stop-color="#009a00"/><stop offset="33.92%" stop-color="#00c200"/><stop offset="37.27%" stop-color="#0c0"/><stop offset="41.84%" stop-color="#00d200"/><stop offset="43.83%" stop-color="#00d400"/><stop offset="45.2%" stop-color="#00da00"/><stop offset="47.64%" stop-color="#00d200"/><stop offset="53.28%" stop-color="#00c700"/><stop offset="54.95%" stop-color="#00cf00"/><stop offset="57.39%" stop-color="#00b200"/><stop offset="59.07%" stop-color="#009f00"/><stop offset="59.53%" stop-color="#009a00"/><stop offset="59.98%" stop-color="#009d1d"/><stop offset="60.14%" stop-color="#009d1d"/><stop offset="61.2%" stop-color="#00a668"/><stop offset="61.36%" stop-color="#00a668"/><stop offset="61.66%" stop-color="#00a97d"/><stop offset="61.97%" stop-color="#00a97d"/><stop offset="62.12%" stop-color="#0a8"/><stop offset="65.32%" stop-color="#00a8af"/><stop offset="67.76%" stop-color="#0095dd"/><stop offset="69.59%" stop-color="#0078dd"/><stop offset="69.89%" stop-color="#0067dd"/><stop offset="70.05%" stop-color="#0067dd"/><stop offset="70.5%" stop-color="#004bdd"/><stop offset="70.81%" stop-color="#004bdd"/><stop offset="70.96%" stop-color="#0041dd"/><stop offset="71.72%" stop-color="#002fdd"/><stop offset="71.88%" stop-color="#002fdd"/><stop offset="72.03%" stop-color="#0025dd"/><stop offset="72.64%" stop-color="#001cdd"/><stop offset="73.25%" stop-color="#0013dd"/><stop offset="73.4%" stop-color="#0009dd"/><stop offset="73.7%" stop-color="#0009dd"/><stop offset="74.01%" stop-color="#00d"/><stop offset="74.47%" stop-color="#0000d9"/><stop offset="74.62%" stop-color="#0a0"/><stop offset="74.77%" stop-color="#0a0"/><stop offset="74.92%" stop-color="#00d"/><stop offset="75.84%" stop-color="#00d"/><stop offset="75.99%" stop-color="#009cd3"/><stop offset="76.45%" stop-color="#009cd3"/><stop offset="76.6%" stop-color="#00d"/><stop offset="77.06%" stop-color="#00d"/><stop offset="77.21%" stop-color="#009cd3"/><stop offset="77.97%" stop-color="#009cd3"/><stop offset="78.12%" stop-color="#0098dd"/><stop offset="78.28%" stop-color="#0098dd"/><stop offset="78.43%" stop-color="#00a400"/><stop offset="78.73%" stop-color="#00a200"/><stop offset="78.89%" stop-color="#00d"/><stop offset="79.65%" stop-color="#00d"/><stop offset="79.8%" stop-color="#009cd3"/><stop offset="79.95%" stop-color="#00a400"/><stop offset="80.41%" stop-color="#00a700"/><stop offset="80.56%" stop-color="#0000b9"/><stop offset="81.78%" stop-color="#0000b9"/><stop offset="81.94%" stop-color="#009cd3"/><stop offset="82.39%" stop-color="#009cd3"/><stop offset="82.55%" stop-color="#83009a"/><stop offset="88.34%" stop-color="#820093"/><stop offset="90.17%" stop-color="#708"/><stop offset="90.47%" stop-color="#700080"/><stop offset="90.62%" stop-color="#700080"/><stop offset="90.78%" stop-color="#670075"/><stop offset="91.08%" stop-color="#670075"/><stop offset="91.23%" stop-color="#5d006b"/><stop offset="91.54%" stop-color="#5d006b"/><stop offset="91.69%" stop-color="#540060"/><stop offset="92%" stop-color="#540060"/><stop offset="92.15%" stop-color="#4b0055"/><stop offset="92.45%" stop-color="#4b0055"/><stop offset="92.61%" stop-color="#41004b"/><stop offset="93.06%" stop-color="#41004b"/><stop offset="93.22%" stop-color="#380040"/><stop offset="93.52%" stop-color="#380040"/><stop offset="93.67%" stop-color="#2f0035"/><stop offset="93.98%" stop-color="#2f0035"/><stop offset="94.13%" stop-color="#25002b"/><stop offset="94.44%" stop-color="#25002b"/><stop offset="94.59%" stop-color="#1c0020"/><stop offset="95.05%" stop-color="#1c0020"/><stop offset="95.2%" stop-color="#130015"/><stop offset="95.5%" stop-color="#130015"/><stop offset="95.66%" stop-color="#09000b"/><stop offset="96.11%" stop-color="#09000b"/><stop offset="96.27%" stop-color="#000"/><stop offset="99.92%" stop-color="#000"/></linearGradient>
<linearGradient id="gX16"><stop offset="0.08%" stop-color="#58009f"/><stop offset="0.38%" stop-color="#58009f"/><stop offset="0.53%" stop-color="#25002b"/><stop offset="15.93%" stop-color="#25002b"/><stop offset="16.08%" stop-color="#2f0035"/><stop offset="16.54%" stop-color="#2f0035"/><stop offset="16.69%" stop-color="#380040"/><stop offset="17%" stop-color="#380040"/><stop offset="17.15%" stop-color="#41004b"/><stop offset="17.3%" stop-color="#41004b"/><stop offset="17.61%" stop-color="#540060"/><stop offset="17.76%" stop-color="#540060"/><stop offset="18.37%" stop-color="#708"/><stop offset="19.89%" stop-color="#870098"/><stop offset="20.2%" stop-color="#78009b"/><stop offset="20.35%" stop-color="#63009e"/><stop offset="20.66%" stop-color="#4d00a0"/><stop offset="20.96%" stop-color="#0d00a8"/><stop offset="21.11%" stop-color="#0000ad"/><stop offset="21.72%" stop-color="#0000cd"/><stop offset="22.18%" stop-color="#00d"/><stop offset="22.33%" stop-color="#0013dd"/><stop offset="22.48%" stop-color="#001cdd"/><stop offset="22.64%" stop-color="#002fdd"/><stop offset="22.79%" stop-color="#0038dd"/><stop offset="22.94%" stop-color="#004bdd"/><stop offset="23.25%" stop-color="#005ddd"/><stop offset="23.4%" stop-color="#0070dd"/><stop offset="24.01%" stop-color="#0082dd"/><stop offset="25.53%" stop-color="#009adb"/><stop offset="27.82%" stop-color="#00aa9d"/><stop offset="28.73%" stop-color="#0a8"/><stop offset="30.72%" stop-color="#009a00"/><stop offset="33.92%" stop-color="#00c400"/><stop offset="37.73%" stop-color="#00cf00"/><stop offset="43.67%" stop-color="#00d700"/><stop offset="44.89%" stop-color="#00dc00"/><stop offset="48.7%" stop-color="#00d200"/><stop offset="53.43%" stop-color="#0c0"/><stop offset="55.41%" stop-color="#00d200"/><stop offset="57.7%" stop-color="#00bf00"/><stop offset="58.92%" stop-color="#00ba00"/><stop offset="60.75%" stop-color="#009a00"/><stop offset="61.2%" stop-color="#009d1d"/><stop offset="61.36%" stop-color="#009d1d"/><stop offset="61.66%" stop-color="#009f33"/><stop offset="61.81%" stop-color="#009f33"/><stop offset="61.97%" stop-color="#00a13d"/><stop offset="62.12%" stop-color="#00a13d"/><stop offset="62.42%" stop-color="#00a353"/><stop offset="62.58%" stop-color="#00a353"/><stop offset="63.03%" stop-color="#00a773"/><stop offset="63.19%" stop-color="#00a773"/><stop offset="63.49%" stop-color="#0a8"/><stop offset="66.69%" stop-color="#00a8af"/><stop offset="68.83%" stop-color="#0098dd"/><stop offset="70.5%" stop-color="#0070dd"/><stop offset="70.96%" stop-color="#0054dd"/><stop offset="71.42%" stop-color="#004bdd"/><stop offset="71.57%" stop-color="#0041dd"/><stop offset="71.88%" stop-color="#0038dd"/><stop offset="72.33%" stop-color="#0025dd"/><stop offset="72.94%" stop-color="#001cdd"/><stop offset="73.25%" stop-color="#0013dd"/><stop offset="73.4%" stop-color="#0013dd"/><stop offset="73.55%" stop-color="#0009dd"/><stop offset="74.16%" stop-color="#00d"/><stop offset="74.47%" stop-color="#0000d9"/><stop offset="74.62%" stop-color="#009cd3"/><stop offset="74.77%" stop-color="#009cd3"/><stop offset="74.92%" stop-color="#00d"/><stop offset="75.84%" stop-color="#00d"/><stop offset="75.99%" stop-color="#008ddd"/><stop offset="76.45%" stop-color="#008ddd"/><stop offset="76.6%" stop-color="#00d"/><stop offset="77.06%" stop-color="#00d"/><stop offset="77.21%" stop-color="#008ddd"/><stop offset="77.97%" stop-color="#008ddd"/><stop offset="78.12%" stop-color="#0000bd"/><stop offset="78.28%" stop-color="#0000bd"/><stop offset="78.43%" stop-color="#009cd3"/><stop offset="78.73%" stop-color="#009cd3"/><stop offset="78.89%" stop-color="#00d"/><stop offset="79.65%" stop-color="#00d"/><stop offset="79.8%" stop-color="#008ddd"/><stop offset="79.95%" stop-color="#009cd3"/><stop offset="80.41%" stop-color="#009cd3"/><stop offset="80.56%" stop-color="#0000b1"/><stop offset="81.78%" stop-color="#0000b1"/><stop offset="81.94%" stop-color="#008ddd"/><stop offset="82.39%" stop-color="#008ddd"/><stop offset="82.55%" stop-color="#83009a"/><stop offset="88.34%" stop-color="#820093"/><stop offset="90.17%" stop-color="#708"/><stop offset="90.47%" stop-color="#700080"/><stop offset="90.62%" stop-color="#700080"/><stop offset="90.78%" stop-color="#670075"/><stop offset="91.08%" stop-color="#670075"/><stop offset="91.23%" stop-color="#5d006b"/><stop offset="91.54%" stop-color="#5d006b"/><stop offset="91.69%" stop-color="#540060"/><stop offset="92%" stop-color="#540060"/><stop offset="92.15%" stop-color="#4b0055"/><stop offset="92.45%" stop-color="#4b0055"/><stop offset="92.61%" stop-color="#41004b"/><stop offset="93.06%" stop-color="#41004b"/><stop offset="93.22%" stop-color="#380040"/><stop offset="93.52%" stop-color="#380040"/><stop offset="93.67%" stop-color="#2f0035"/><stop offset="93.98%" stop-color="#2f0035"/><stop offset="94.13%" stop-color="#25002b"/><stop offset="94.44%" stop-color="#25002b"/><stop offset="94.59%" stop-color="#1c0020"/><stop offset="95.05%" stop-color="#1c0020"/><stop offset="95.2%" stop-color="#130015"/><stop offset="95.5%" stop-color="#130015"/><stop offset="95.66%" stop-color="#09000b"/><stop offset="96.11%" stop-color="#09000b"/><stop offset="96.27%" stop-color="#000"/><stop offset="99.92%" stop-color="#000"/></linearGradient>
<linearGradient id="gX17"><stop offset="0.08%" stop-color="#58009f"/><stop offset="0.38%" stop-color="#58009f"/><stop offset="0.53%" stop-color="#25002b"/><stop offset="15.93%" stop-color="#25002b"/><stop offset="16.08%" stop-color="#2f0035"/><stop offset="16.54%" stop-color="#2f0035"/><stop offset="16.69%" stop-color="#380040"/><stop offset="17%" stop-color="#380040"/><stop offset="17.15%" stop-color="#41004b"/><stop offset="17.3%" stop-color="#41004b"/><stop offset="17.61%" stop-color="#540060"/><stop offset="17.76%" stop-color="#540060"/><stop offset="18.37%" stop-color="#708"/><stop offset="19.89%" stop-color="#870098"/><stop offset="20.2%" stop-color="#78009b"/><stop offset="20.35%" stop-color="#63009e"/><stop offset="20.5%" stop-color="#58009f"/><stop offset="20.66%" stop-color="#4300a2"/><stop offset="20.96%" stop-color="#0300aa"/><stop offset="21.57%" stop-color="#0000d9"/><stop offset="22.03%" stop-color="#0041dd"/><stop offset="22.33%" stop-color="#0078dd"/><stop offset="23.4%" stop-color="#0098dd"/><stop offset="24.92%" stop-color="#00aaa5"/><stop offset="26.14%" stop-color="#0a8"/><stop offset="26.3%" stop-color="#00a97d"/><stop offset="26.45%" stop-color="#00a668"/><stop offset="27.36%" stop-color="#009e28"/><stop offset="27.52%" stop-color="#009e28"/><stop offset="27.82%" stop-color="#009b13"/><stop offset="27.97%" stop-color="#009b13"/><stop offset="28.28%" stop-color="#009a00"/><stop offset="31.48%" stop-color="#00cf00"/><stop offset="35.9%" stop-color="#00e200"/><stop offset="43.52%" stop-color="#00e700"/><stop offset="45.05%" stop-color="#00ef00"/><stop offset="47.48%" stop-color="#00e400"/><stop offset="50.23%" stop-color="#00df00"/><stop offset="54.95%" stop-color="#00d200"/><stop offset="56.48%" stop-color="#00b200"/><stop offset="57.7%" stop-color="#009a00"/><stop offset="58%" stop-color="#009a00"/><stop offset="58.31%" stop-color="#009a08"/><stop offset="59.53%" stop-color="#00a55d"/><stop offset="59.68%" stop-color="#00a55d"/><stop offset="60.14%" stop-color="#00a97d"/><stop offset="60.29%" stop-color="#00a97d"/><stop offset="60.59%" stop-color="#00aa8b"/><stop offset="63.8%" stop-color="#00a8af"/><stop offset="66.39%" stop-color="#0098dd"/><stop offset="68.67%" stop-color="#0078dd"/><stop offset="68.98%" stop-color="#0067dd"/><stop offset="69.13%" stop-color="#0067dd"/><stop offset="69.28%" stop-color="#005ddd"/><stop offset="69.59%" stop-color="#0054dd"/><stop offset="69.89%" stop-color="#004bdd"/><stop offset="70.05%" stop-color="#004bdd"/><stop offset="70.2%" stop-color="#0041dd"/><stop offset="70.5%" stop-color="#0041dd"/><stop offset="70.81%" stop-color="#0038dd"/><stop offset="71.42%" stop-color="#002fdd"/><stop offset="71.57%" stop-color="#0025dd"/><stop offset="71.88%" stop-color="#0025dd"/><stop offset="72.18%" stop-color="#001cdd"/><stop offset="72.48%" stop-color="#001cdd"/><stop offset="72.79%" stop-color="#0013dd"/><stop offset="73.09%" stop-color="#0013dd"/><stop offset="73.25%" stop-color="#0009dd"/><stop offset="73.55%" stop-color="#0009dd"/><stop offset="73.86%" stop-color="#00d"/><stop offset="74.47%" stop-color="#0000d9"/><stop offset="74.62%" stop-color="#0a0"/><stop offset="74.77%" stop-color="#0a0"/><stop offset="74.92%" stop-color="#00d"/><stop offset="75.84%" stop-color="#00d"/><stop offset="75.99%" stop-color="#009cd3"/><stop offset="76.45%" stop-color="#009cd3"/><stop offset="76.6%" stop-color="#00d"/><stop offset="77.06%" stop-color="#00d"/><stop offset="77.21%" stop-color="#009cd3"/><stop offset="77.97%" stop-color="#009cd3"/><stop offset="78.12%" stop-color="#0098dd"/><stop offset="78.28%" stop-color="#0098dd"/><stop offset="78.43%" stop-color="#00a400"/><stop offset="78.73%" stop-color="#00a200"/><stop offset="78.89%" stop-color="#00d"/><stop offset="79.65%" stop-color="#00d"/><stop offset="79.8%" stop-color="#009cd3"/><stop offset="79.95%" stop-color="#00a400"/><stop offset="80.41%" stop-color="#00a700"/><stop offset="80.56%" stop-color="#0000b9"/><stop offset="81.78%" stop-color="#0000b9"/><stop offset="81.94%" stop-color="#009cd3"/><stop offset="82.39%" stop-color="#009cd3"/><stop offset="82.55%" stop-color="#83009a"/><stop offset="88.34%" stop-color="#820093"/><stop offset="90.17%" stop-color="#708"/><stop offset="90.47%" stop-color="#700080"/><stop offset="90.62%" stop-color="#700080"/><stop offset="90.78%" stop-color="#670075"/><stop offset="91.08%" stop-color="#670075"/><stop offset="91.23%" stop-color="#5d006b"/><stop offset="91.54%" stop-color="#5d006b"/><stop offset="91.69%" stop-color="#540060"/><stop offset="92%" stop-color="#540060"/><stop offset="92.15%" stop-color="#4b0055"/><stop offset="92.45%" stop-color="#4b0055"/><stop offset="92.61%" stop-color="#41004b"/><stop offset="93.06%" stop-color="#41004b"/><stop offset="93.22%" stop-color="#380040"/><stop offset="93.52%" stop-color="#380040"/><stop offset="93.67%" stop-color="#2f0035"/><stop offset="93.98%" stop-color="#2f0035"/><stop offset="94.13%" stop-color="#25002b"/><stop offset="94.44%" stop-color="#25002b"/><stop offset="94.59%" stop-color="#1c0020"/><stop offset="95.05%" stop-color="#1c0020"/><stop offset="95.2%" stop-color="#130015"/><stop offset="95.5%" stop-color="#130015"/><stop offset="95.66%" stop-color="#09000b"/><stop offset="96.11%" stop-color="#09000b"/><stop offset="96.27%" stop-color="#000"/><stop offset="99.92%" stop-color="#000"/></linearGradient>
<linearGradient id="gX18"><stop offset="0.08%" stop-color="#0000bd"/><stop offset="0.38%" stop-color="#0000bd"/><stop offset="0.53%" stop-color="#25002b"/><stop offset="15.93%" stop-color="#25002b"/><stop offset="16.08%" stop-color="#2f0035"/><stop offset="16.54%" stop-color="#2f0035"/><stop offset="16.69%" stop-color="#380040"/><stop offset="17%" stop-color="#380040"/><stop offset="17.15%" stop-color="#41004b"/><stop offset="17.3%" stop-color="#41004b"/><stop offset="17.61%" stop-color="#540060"/><stop offset="17.76%" stop-color="#540060"/><stop offset="18.37%" stop-color="#708"/><stop offset="19.89%" stop-color="#870098"/><stop offset="20.2%" stop-color="#78009b"/><stop offset="20.35%" stop-color="#63009e"/><stop offset="20.66%" stop-color="#4d00a0"/><stop offset="20.96%" stop-color="#0d00a8"/><stop offset="21.11%" stop-color="#0000b1"/><stop offset="21.72%" stop-color="#0000d1"/><stop offset="22.03%" stop-color="#00d"/><stop offset="22.18%" stop-color="#0013dd"/><stop offset="22.33%" stop-color="#001cdd"/><stop offset="22.64%" stop-color="#0041dd"/><stop offset="23.25%" stop-color="#0078dd"/><stop offset="25.08%" stop-color="#009adb"/><stop offset="27.06%" stop-color="#00aaa0"/><stop offset="28.28%" stop-color="#0a8"/><stop offset="28.73%" stop-color="#00a668"/><stop offset="28.89%" stop-color="#00a353"/><stop offset="30.11%" stop-color="#009a00"/><stop offset="33.46%" stop-color="#00c200"/><stop offset="36.66%" stop-color="#0c0"/><stop offset="41.84%" stop-color="#00d200"/><stop offset="43.83%" stop-color="#00d400"/><stop offset="45.2%" stop-color="#00da00"/><stop offset="47.64%" stop-color="#00d200"/><stop offset="55.11%" stop-color="#00bf00"/><stop offset="57.09%" stop-color="#009a00"/><stop offset="57.39%" stop-color="#009a08"/><stop offset="57.55%" stop-color="#009b13"/><stop offset="57.85%" stop-color="#009b13"/><stop offset="58%" stop-color="#009d1d"/><stop offset="58.31%" stop-color="#009d1d"/><stop offset="59.53%" stop-color="#00a773"/><stop offset="59.68%" stop-color="#00a773"/><stop offset="59.98%" stop-color="#0a8"/><stop offset="63.64%" stop-color="#00a7b3"/><stop offset="66.08%" stop-color="#0095dd"/><stop offset="68.37%" stop-color="#0078dd"/><stop offset="68.98%" stop-color="#0067dd"/><stop offset="69.28%" stop-color="#0054dd"/><stop offset="69.89%" stop-color="#004bdd"/><stop offset="70.05%" stop-color="#0041dd"/><stop offset="70.35%" stop-color="#0041dd"/><stop offset="70.66%" stop-color="#0038dd"/><stop offset="71.27%" stop-color="#002fdd"/><stop offset="71.42%" stop-color="#0025dd"/><stop offset="71.72%" stop-color="#0025dd"/><stop offset="72.03%" stop-color="#001cdd"/><stop offset="72.33%" stop-color="#001cdd"/><stop offset="72.64%" stop-color="#0013dd"/><stop offset="72.94%" stop-color="#0013dd"/><stop offset="73.09%" stop-color="#0009dd"/><stop offset="73.55%" stop-color="#0009dd"/><stop offset="73.86%" stop-color="#00d"/><stop offset="74.47%" stop-color="#0000d9"/><stop offset="74.62%" stop-color="#0a0"/><stop offset="74.77%" stop-color="#0a0"/><stop offset="74.92%" stop-color="#00d"/><stop offset="75.84%" stop-color="#00d"/><stop offset="75.99%" stop-color="#009cd3"/><stop offset="76.45%" stop-color="#009cd3"/><stop offset="76.6%" stop-color="#00d"/><stop offset="77.06%" stop-color="#00d"/><stop offset="77.21%" stop-color="#009cd3"/><stop offset="77.97%" stop-color="#009cd3"/><stop offset="78.12%" stop-color="#0098dd"/><stop offset="78.28%" stop-color="#0098dd"/><stop offset="78.43%" stop-color="#00a400"/><stop offset="78.73%" stop-color="#00a200"/><stop offset="78.89%" stop-color="#00d"/><stop offset="79.65%" stop-color="#00d"/><stop offset="79.8%" stop-color="#009cd3"/><stop offset="79.95%" stop-color="#00a400"/><stop offset="80.41%" stop-color="#00a700"/><stop offset="80.56%" stop-color="#0000b9"/><stop offset="81.78%" stop-color="#0000b9"/><stop offset="81.94%" stop-color="#009cd3"/><stop offset="82.39%" stop-color="#009cd3"/><stop offset="82.55%" stop-color="#83009a"/><stop offset="88.34%" stop-color="#820093"/><stop offset="90.17%" stop-color="#708"/><stop offset="90.47%" stop-color="#700080"/><stop offset="90.62%" stop-color="#700080"/><stop offset="90.78%" stop-color="#670075"/><stop offset="91.08%" stop-color="#670075"/><stop offset="91.23%" stop-color="#5d006b"/><stop offset="91.54%" stop-color="#5d006b"/><stop offset="91.69%" stop-color="#540060"/><stop offset="92%" stop-color="#540060"/><stop offset="92.15%" stop-color="#4b0055"/><stop offset="92.45%" stop-color="#4b0055"/><stop offset="92.61%" stop-color="#41004b"/><stop offset="93.06%" stop-color="#41004b"/><stop offset="93.22%" stop-color="#380040"/><stop offset="93.52%" stop-color="#380040"/><stop offset="93.67%" stop-color="#2f0035"/><stop offset="93.98%" stop-color="#2f0035"/><stop offset="94.13%" stop-color="#25002b"/><stop offset="94.44%" stop-color="#25002b"/><stop offset="94.59%" stop-color="#1c0020"/><stop offset="95.05%" stop-color="#1c0020"/><stop offset="95.2%" stop-color="#130015"/><stop offset="95.5%" stop-color="#130015"/><stop offset="95.66%" stop-color="#09000b"/><stop offset="96.11%" stop-color="#09000b"/><stop offset="96.27%" stop-color="#000"/><stop offset="99.92%" stop-color="#000"/></linearGradient>
<linearGradient id="gX19"><stop offset="0.08%" stop-color="#0000bd"/><stop offset="0.38%" stop-color="#0000bd"/><stop offset="0.53%" stop-color="#25002b"/><stop offset="15.93%" stop-color="#25002b"/><stop offset="16.08%" stop-color="#2f0035"/><stop offset="16.69%" stop-color="#2f0035"/><stop offset="16.84%" stop-color="#380040"/><stop offset="17.15%" stop-color="#380040"/><stop offset="17.3%" stop-color="#41004b"/><stop offset="17.45%" stop-color="#41004b"/><stop offset="17.61%" stop-color="#4b0055"/><stop offset="17.76%" stop-color="#4b0055"/><stop offset="18.06%" stop-color="#5d006b"/><stop offset="18.22%" stop-color="#5d006b"/><stop offset="18.67%" stop-color="#79008a"/><stop offset="20.5%" stop-color="#870098"/><stop offset="20.81%" stop-color="#63009e"/><stop offset="21.27%" stop-color="#0300aa"/><stop offset="22.18%" stop-color="#00d"/><stop offset="22.48%" stop-color="#0025dd"/><stop offset="23.09%" stop-color="#0054dd"/><stop offset="23.25%" stop-color="#0067dd"/><stop offset="23.86%" stop-color="#0080dd"/><stop offset="25.23%" stop-color="#009adb"/><stop offset="27.06%" stop-color="#00aaa8"/><stop offset="29.34%" stop-color="#0a8"/><stop offset="29.8%" stop-color="#00a668"/><stop offset="29.95%" stop-color="#00a668"/><stop offset="30.41%" stop-color="#00a248"/><stop offset="30.56%" stop-color="#00a248"/><stop offset="31.17%" stop-color="#009d1d"/><stop offset="31.33%" stop-color="#009d1d"/><stop offset="31.48%" stop-color="#009b13"/><stop offset="32.09%" stop-color="#009b13"/><stop offset="32.24%" stop-color="#009a08"/><stop offset="32.55%" stop-color="#009a08"/><stop offset="32.85%" stop-color="#009a00"/><stop offset="35.9%" stop-color="#00a400"/><stop offset="43.37%" stop-color="#00a700"/><stop offset="44.89%" stop-color="#00b200"/><stop offset="47.33%" stop-color="#00a700"/><stop offset="52.06%" stop-color="#009f00"/><stop offset="53.28%" stop-color="#009c00"/><stop offset="55.11%" stop-color="#00a200"/><stop offset="55.41%" stop-color="#009c00"/><stop offset="56.02%" stop-color="#009e28"/><stop offset="56.17%" stop-color="#00a13d"/><stop offset="56.33%" stop-color="#00a248"/><stop offset="56.78%" stop-color="#0a8"/><stop offset="57.55%" stop-color="#00aa9b"/><stop offset="59.07%" stop-color="#00a7b3"/><stop offset="62.27%" stop-color="#0095dd"/><stop offset="65.17%" stop-color="#0078dd"/><stop offset="65.62%" stop-color="#005ddd"/><stop offset="65.93%" stop-color="#0054dd"/><stop offset="66.23%" stop-color="#0041dd"/><stop offset="66.54%" stop-color="#0038dd"/><stop offset="67%" stop-color="#0025dd"/><stop offset="67.76%" stop-color="#0013dd"/><stop offset="67.91%" stop-color="#0009dd"/><stop offset="68.22%" stop-color="#0009dd"/><stop offset="68.52%" stop-color="#00d"/><stop offset="70.5%" stop-color="#0000cd"/><stop offset="74.47%" stop-color="#0000b5"/><stop offset="74.62%" stop-color="#009cd3"/><stop offset="74.77%" stop-color="#009cd3"/><stop offset="74.92%" stop-color="#00d"/><stop offset="75.84%" stop-color="#00d"/><stop offset="75.99%" stop-color="#008ddd"/><stop offset="76.45%" stop-color="#008ddd"/><stop offset="76.6%" stop-color="#00d"/><stop offset="77.06%" stop-color="#00d"/><stop offset="77.21%" stop-color="#008ddd"/><stop offset="77.97%" stop-color="#008ddd"/><stop offset="78.12%" stop-color="#0000bd"/><stop offset="78.28%" stop-color="#0000bd"/><stop offset="78.43%" stop-color="#009cd3"/><stop offset="78.73%" stop-color="#009cd3"/><stop offset="78.89%" stop-color="#00d"/><stop offset="79.65%" stop-color="#00d"/><stop offset="79.8%" stop-color="#008ddd"/><stop offset="79.95%" stop-color="#009cd3"/><stop offset="80.41%" stop-color="#009cd3"/><stop offset="80.56%" stop-color="#0000b1"/><stop offset="81.78%" stop-color="#0000b1"/><stop offset="81.94%" stop-color="#008ddd"/><stop offset="82.39%" stop-color="#008ddd"/><stop offset="82.55%" stop-color="#830094"/><stop offset="88.95%" stop-color="#7b008c"/><stop offset="89.71%" stop-color="#708"/><stop offset="90.02%" stop-color="#700080"/><stop offset="90.17%" stop-color="#670075"/><stop offset="90.32%" stop-color="#670075"/><stop offset="90.47%" stop-color="#5d006b"/><stop offset="90.93%" stop-color="#5d006b"/><stop offset="91.08%" stop-color="#540060"/><stop offset="91.54%" stop-color="#540060"/><stop offset="91.69%" stop-color="#4b0055"/><stop offset="92%" stop-color="#4b0055"/><stop offset="92.15%" stop-color="#41004b"/><stop offset="92.61%" stop-color="#41004b"/><stop offset="92.76%" stop-color="#380040"/><stop offset="93.06%" stop-color="#380040"/><stop offset="93.22%" stop-color="#2f0035"/><stop offset="93.67%" stop-color="#2f0035"/><stop offset="93.83%" stop-color="#25002b"/><stop offset="94.28%" stop-color="#25002b"/><stop offset="94.44%" stop-color="#1c0020"/><stop offset="94.89%" stop-color="#1c0020"/><stop offset="95.05%" stop-color="#130015"/><stop offset="95.35%" stop-color="#130015"/><stop offset="95.5%" stop-color="#09000b"/><stop offset="95.96%" stop-color="#09000b"/><stop offset="96.11%" stop-color="#000"/><stop offset="99.92%" stop-color="#000"/></linearGradient>
<linearGradient id="gX20"><stop offset="0.08%" stop-color="#0000bd"/><stop offset="0.38%" stop-color="#0000bd"/><stop offset="0.53%" stop-color="#25002b"/><stop offset="15.78%" stop-color="#25002b"/><stop offset="15.93%" stop-color="#2f0035"/><stop offset="16.39%" stop-color="#2f0035"/><stop offset="16.54%" stop-color="#380040"/><stop offset="16.84%" stop-color="#380040"/><stop offset="17%" stop-color="#41004b"/><stop offset="17.15%" stop-color="#41004b"/><stop offset="18.06%" stop-color="#708"/><stop offset="19.44%" stop-color="#870098"/><stop offset="19.74%" stop-color="#4d00a0"/><stop offset="19.89%" stop-color="#2300a6"/><stop offset="20.05%" stop-color="#0300aa"/><stop offset="20.35%" stop-color="#00d"/><stop offset="20.5%" stop-color="#002fdd"/><stop offset="20.81%" stop-color="#0078dd"/><stop offset="21.42%" stop-color="#0090dd"/><stop offset="22.03%" stop-color="#009bd7"/><stop offset="22.79%" stop-color="#00aa98"/><stop offset="22.94%" stop-color="#00aa8d"/><stop offset="23.25%" stop-color="#00a13d"/><stop offset="23.4%" stop-color="#009a08"/><stop offset="23.7%" stop-color="#00af00"/><stop offset="24.31%" stop-color="#00d700"/><stop offset="25.84%" stop-color="#00ea00"/><stop offset="27.06%" stop-color="#00f400"/><stop offset="28.43%" stop-color="#00ec00"/><stop offset="30.26%" stop-color="#00f200"/><stop offset="40.62%" stop-color="#00f400"/><stop offset="43.83%" stop-color="#00f700"/><stop offset="45.5%" stop-color="#00fa00"/><stop offset="48.25%" stop-color="#00f200"/><stop offset="53.58%" stop-color="#00ec00"/><stop offset="55.11%" stop-color="#00ea00"/><stop offset="57.7%" stop-color="#00bc00"/><stop offset="58.92%" stop-color="#00ac00"/><stop offset="59.83%" stop-color="#009a00"/><stop offset="60.14%" stop-color="#009b13"/><stop offset="60.29%" stop-color="#009e28"/><stop offset="61.66%" stop-color="#0a8"/><stop offset="64.86%" stop-color="#00aaab"/><stop offset="66.84%" stop-color="#009adb"/><stop offset="69.28%" stop-color="#0078dd"/><stop offset="69.74%" stop-color="#0067dd"/><stop offset="70.35%" stop-color="#0041dd"/><stop offset="70.96%" stop-color="#0038dd"/><stop offset="71.27%" stop-color="#002fdd"/><stop offset="71.42%" stop-color="#002fdd"/><stop offset="71.57%" stop-color="#0025dd"/><stop offset="71.88%" stop-color="#0025dd"/><stop offset="72.18%" stop-color="#001cdd"/><stop offset="72.79%" stop-color="#0013dd"/><stop offset="72.94%" stop-color="#0013dd"/><stop offset="73.09%" stop-color="#0009dd"/><stop offset="73.55%" stop-color="#0009dd"/><stop offset="73.86%" stop-color="#00d"/><stop offset="74.47%" stop-color="#0000d9"/><stop offset="74.62%" stop-color="#009cd3"/><stop offset="74.77%" stop-color="#009cd3"/><stop offset="74.92%" stop-color="#00d"/><stop offset="75.84%" stop-color="#00d"/><stop offset="75.99%" stop-color="#008ddd"/><stop offset="76.45%" stop-color="#008ddd"/><stop offset="76.6%" stop-color="#00d"/><stop offset="77.06%" stop-color="#00d"/><stop offset="77.21%" stop-color="#008ddd"/><stop offset="77.97%" stop-color="#008ddd"/><stop offset="78.12%" stop-color="#0000bd"/><stop offset="78.28%" stop-color="#0000bd"/><stop offset="78.43%" stop-color="#009cd3"/><stop offset="78.73%" stop-color="#009cd3"/><stop offset="78.89%" stop-color="#00d"/><stop offset="79.65%" stop-color="#00d"/><stop offset="79.8%" stop-color="#008ddd"/><stop offset="79.95%" stop-color="#009cd3"/><stop offset="80.41%" stop-color="#009cd3"/><stop offset="80.56%" stop-color="#0000b1"/><stop offset="81.78%" stop-color="#0000b1"/><stop offset="81.94%" stop-color="#008ddd"/><stop offset="82.39%" stop-color="#008ddd"/><stop offset="82.55%" stop-color="#83009a"/><stop offset="88.34%" stop-color="#820093"/><stop offset="90.17%" stop-color="#708"/><stop offset="90.47%" stop-color="#700080"/><stop offset="90.62%" stop-color="#700080"/><stop offset="90.78%" stop-color="#670075"/><stop offset="91.08%" stop-color="#670075"/><stop offset="91.23%" stop-color="#5d006b"/><stop offset="91.54%" stop-color="#5d006b"/><stop offset="91.69%" stop-color="#540060"/><stop offset="92%" stop-color="#540060"/><stop offset="92.15%" stop-color="#4b0055"/><stop offset="92.45%" stop-color="#4b0055"/><stop offset="92.61%" stop-color="#41004b"/><stop offset="93.06%" stop-color="#41004b"/><stop offset="93.22%" stop-color="#380040"/><stop offset="93.52%" stop-color="#380040"/><stop offset="93.67%" stop-color="#2f0035"/><stop offset="93.98%" stop-color="#2f0035"/><stop offset="94.13%" stop-color="#25002b"/><stop offset="94.44%" stop-color="#25002b"/><stop offset="94.59%" stop-color="#1c0020"/><stop offset="95.05%" stop-color="#1c0020"/><stop offset="95.2%" stop-color="#130015"/><stop offset="95.5%" stop-color="#130015"/><stop offset="95.66%" stop-color="#09000b"/><stop offset="96.11%" stop-color="#09000b"/><stop offset="96.27%" stop-color="#000"/><stop offset="99.92%" stop-color="#000"/></linearGradient>
<linearGradient id="gX21"><stop offset="0.08%" stop-color="#0000bd"/><stop offset="0.38%" stop-color="#0000bd"/><stop offset="0.53%" stop-color="#25002b"/><stop offset="15.78%" stop-color="#25002b"/><stop offset="15.93%" stop-color="#2f0035"/><stop offset="16.39%" stop-color="#2f0035"/><stop offset="16.54%" stop-color="#380040"/><stop offset="16.84%" stop-color="#380040"/><stop offset="17%" stop-color="#41004b"/><stop offset="17.15%" stop-color="#41004b"/><stop offset="18.06%" stop-color="#708"/><stop offset="19.44%" stop-color="#870098"/><stop offset="19.74%" stop-color="#4d00a0"/><stop offset="19.89%" stop-color="#2300a6"/><stop offset="20.05%" stop-color="#0300aa"/><stop offset="20.35%" stop-color="#00d"/><stop offset="20.5%" stop-color="#002fdd"/><stop offset="20.81%" stop-color="#0078dd"/><stop offset="21.42%" stop-color="#0090dd"/><stop offset="22.03%" stop-color="#009bd7"/><stop offset="22.79%" stop-color="#00aa98"/><stop offset="22.94%" stop-color="#00aa8d"/><stop offset="23.25%" stop-color="#00a13d"/><stop offset="23.4%" stop-color="#009a08"/><stop offset="23.7%" stop-color="#00af00"/><stop offset="24.31%" stop-color="#00d700"/><stop offset="25.84%" stop-color="#00ea00"/><stop offset="27.06%" stop-color="#00f400"/><stop offset="28.43%" stop-color="#00ec00"/><stop offset="30.26%" stop-color="#00f200"/><stop offset="40.62%" stop-color="#00f400"/><stop offset="43.83%" stop-color="#00f700"/><stop offset="45.5%" stop-color="#00fa00"/><stop offset="48.25%" stop-color="#00f200"/><stop offset="53.58%" stop-color="#00ec00"/><stop offset="55.11%" stop-color="#00ea00"/><stop offset="57.7%" stop-color="#00bc00"/><stop offset="58.92%" stop-color="#00ac00"/><stop offset="59.83%" stop-color="#009a00"/><stop offset="60.14%" stop-color="#009b13"/><stop offset="60.29%" stop-color="#009e28"/><stop offset="61.66%" stop-color="#0a8"/><stop offset="64.86%" stop-color="#00aaab"/><stop offset="66.84%" stop-color="#009adb"/><stop offset="69.28%" stop-color="#0078dd"/><stop offset="69.74%" stop-color="#0067dd"/><stop offset="70.35%" stop-color="#0041dd"/><stop offset="70.96%" stop-color="#0038dd"/><stop offset="71.27%" stop-color="#002fdd"/><stop offset="71.42%" stop-color="#002fdd"/><stop offset="71.57%" stop-color="#0025dd"/><stop offset="71.88%" stop-color="#0025dd"/><stop offset="72.18%" stop-color="#001cdd"/><stop offset="72.79%" stop-color="#0013dd"/><stop offset="72.94%" stop-color="#0013dd"/><stop offset="73.09%" stop-color="#0009dd"/><stop offset="73.55%" stop-color="#0009dd"/><stop offset="73.86%" stop-color="#00d"/><stop offset="74.47%" stop-color="#0000d9"/><stop offset="74.62%" stop-color="#009cd3"/><stop offset="74.77%" stop-color="#009cd3"/><stop offset="74.92%" stop-color="#00d"/><stop offset="75.84%" stop-color="#00d"/><stop offset="75.99%" stop-color="#008ddd"/><stop offset="76.45%" stop-color="#008ddd"/><stop offset="76.6%" stop-color="#00d"/><stop offset="77.06%" stop-color="#00d"/><stop offset="77.21%" stop-color="#008ddd"/><stop offset="77.97%" stop-color="#008ddd"/><stop offset="78.12%" stop-color="#0000bd"/><stop offset="78.28%" stop-color="#0000bd"/><stop offset="78.43%" stop-color="#009cd3"/><stop offset="78.73%" stop-color="#009cd3"/><stop offset="78.89%" stop-color="#00d"/><stop offset="79.65%" stop-color="#00d"/><stop offset="79.8%" stop-color="#008ddd"/><stop offset="79.95%" stop-color="#009cd3"/><stop offset="80.41%" stop-color="#009cd3"/><stop offset="80.56%" stop-color="#0000b1"/><stop offset="81.78%" stop-color="#0000b1"/><stop offset="81.94%" stop-color="#008ddd"/><stop offset="82.39%" stop-color="#008ddd"/><stop offset="82.55%" stop-color="#83009a"/><stop offset="88.34%" stop-color="#820093"/><stop offset="90.17%" stop-color="#708"/><stop offset="90.47%" stop-color="#700080"/><stop offset="90.62%" stop-color="#700080"/><stop offset="90.78%" stop-color="#670075"/><stop offset="91.08%" stop-color="#670075"/><stop offset="91.23%" stop-color="#5d006b"/><stop offset="91.54%" stop-color="#5d006b"/><stop offset="91.69%" stop-color="#540060"/><stop offset="92%" stop-color="#540060"/><stop offset="92.15%" stop-color="#4b0055"/><stop offset="92.45%" stop-color="#4b0055"/><stop offset="92.61%" stop-color="#41004b"/><stop offset="93.06%" stop-color="#41004b"/><stop offset="93.22%" stop-color="#380040"/><stop offset="93.52%" stop-color="#380040"/><stop offset="93.67%" stop-color="#2f0035"/><stop offset="93.98%" stop-color="#2f0035"/><stop offset="94.13%" stop-color="#25002b"/><stop offset="94.44%" stop-color="#25002b"/><stop offset="94.59%" stop-color="#1c0020"/><stop offset="95.05%" stop-color="#1c0020"/><stop offset="95.2%" stop-color="#130015"/><stop offset="95.5%" stop-color="#130015"/><stop offset="95.66%" stop-color="#09000b"/><stop offset="96.11%" stop-color="#09000b"/><stop offset="96.27%" stop-color="#000"/><stop offset="99.92%" stop-color="#000"/></linearGradient>
<linearGradient id="gY0"><stop offset="0.08%" stop-color="#25002b"/><stop offset="15.78%" stop-color="#25002b"/><stop offset="15.93%" stop-color="#2f0035"/><stop offset="16.23%" stop-color="#2f0035"/><stop offset="16.39%" stop-color="#380040"/><stop offset="16.69%" stop-color="#380040"/><stop offset="16.84%" stop-color="#41004b"/><stop offset="17%" stop-color="#41004b"/><stop offset="17.91%" stop-color="#79008a"/><stop offset="19.28%" stop-color="#870098"/><stop offset="19.44%" stop-color="#6d009c"/><stop offset="19.59%" stop-color="#4300a2"/><stop offset="19.89%" stop-color="#0000b1"/><stop offset="20.2%" stop-color="#0009dd"/><stop offset="20.35%" stop-color="#002fdd"/><stop offset="20.66%" stop-color="#0067dd"/><stop offset="20.81%" stop-color="#007add"/><stop offset="21.57%" stop-color="#0092dd"/><stop offset="22.03%" stop-color="#009bd7"/><stop offset="22.64%" stop-color="#00aa98"/><stop offset="22.79%" stop-color="#0a8"/><stop offset="23.09%" stop-color="#009a08"/><stop offset="23.4%" stop-color="#00af00"/><stop offset="24.01%" stop-color="#00d700"/><stop offset="26.14%" stop-color="#00ea00"/><stop offset="28.12%" stop-color="#00ef00"/><stop offset="33.46%" stop-color="#00fa00"/><stop offset="43.06%" stop-color="#00f700"/><stop offset="46.57%" stop-color="#00ec00"/><stop offset="49.01%" stop-color="#00e700"/><stop offset="52.36%" stop-color="#00d700"/><stop offset="55.72%" stop-color="#00c700"/><stop offset="57.39%" stop-color="#00b200"/><stop offset="59.38%" stop-color="#009f00"/><stop offset="59.83%" stop-color="#009a00"/><stop offset="61.36%" stop-color="#00a668"/><stop offset="61.51%" stop-color="#00a668"/><stop offset="61.97%" stop-color="#0a8"/><stop offset="64.86%" stop-color="#00aaab"/><stop offset="66.69%" stop-color="#009adb"/><stop offset="69.44%" stop-color="#0078dd"/><stop offset="70.05%" stop-color="#0054dd"/><stop offset="70.35%" stop-color="#004bdd"/><stop offset="70.5%" stop-color="#0041dd"/><stop offset="71.27%" stop-color="#002fdd"/><stop offset="71.42%" stop-color="#002fdd"/><stop offset="71.57%" stop-color="#0025dd"/><stop offset="72.18%" stop-color="#001cdd"/><stop offset="72.48%" stop-color="#0013dd"/><stop offset="72.79%" stop-color="#0013dd"/><stop offset="72.94%" stop-color="#0009dd"/><stop offset="73.55%" stop-color="#0009dd"/><stop offset="73.86%" stop-color="#00d"/><stop offset="74.31%" stop-color="#0000d9"/><stop offset="74.47%" stop-color="#008ddd"/><stop offset="75.08%" stop-color="#008ddd"/><stop offset="75.23%" stop-color="#00d"/><stop offset="75.99%" stop-color="#00d"/><stop offset="76.14%" stop-color="#008ddd"/><stop offset="76.45%" stop-color="#008ddd"/><stop offset="76.6%" stop-color="#00d"/><stop offset="76.91%" stop-color="#00d"/><stop offset="77.06%" stop-color="#008ddd"/><stop offset="77.97%" stop-color="#008ddd"/><stop offset="78.12%" stop-color="#00aaa3"/><stop offset="78.73%" stop-color="#00aaa3"/><stop offset="78.89%" stop-color="#008ddd"/><stop offset="79.5%" stop-color="#008ddd"/><stop offset="79.65%" stop-color="#00d"/><stop offset="79.8%" stop-color="#00d"/><stop offset="79.95%" stop-color="#008ddd"/><stop offset="80.72%" stop-color="#008ddd"/><stop offset="80.87%" stop-color="#00d"/><stop offset="81.48%" stop-color="#00d"/><stop offset="81.63%" stop-color="#008ddd"/><stop offset="82.09%" stop-color="#008ddd"/><stop offset="82.24%" stop-color="#00d"/><stop offset="82.55%" stop-color="#00d"/><stop offset="82.7%" stop-color="#0300aa"/><stop offset="82.85%" stop-color="#0300aa"/><stop offset="83%" stop-color="#0d00a8"/><stop offset="83.16%" stop-color="#0d00a8"/><stop offset="83.31%" stop-color="#1800a7"/><stop offset="83.46%" stop-color="#1800a7"/><stop offset="83.61%" stop-color="#2300a6"/><stop offset="83.77%" stop-color="#2300a6"/><stop offset="84.07%" stop-color="#3800a3"/><stop offset="84.22%" stop-color="#3800a3"/><stop offset="84.38%" stop-color="#4300a2"/><stop offset="84.53%" stop-color="#4300a2"/><stop offset="84.68%" stop-color="#4d00a0"/><stop offset="84.83%" stop-color="#4d00a0"/><stop offset="84.98%" stop-color="#58009f"/><stop offset="85.14%" stop-color="#58009f"/><stop offset="85.44%" stop-color="#6d009c"/><stop offset="85.59%" stop-color="#6d009c"/><stop offset="85.9%" stop-color="#83009a"/><stop offset="87.73%" stop-color="#810092"/><stop offset="89.71%" stop-color="#708"/><stop offset="90.02%" stop-color="#700080"/><stop offset="90.17%" stop-color="#700080"/><stop offset="90.32%" stop-color="#670075"/><stop offset="90.78%" stop-color="#670075"/><stop offset="90.93%" stop-color="#5d006b"/><stop offset="91.23%" stop-color="#5d006b"/><stop offset="91.39%" stop-color="#540060"/><stop offset="91.69%" stop-color="#540060"/><stop offset="91.84%" stop-color="#4b0055"/><stop offset="92.3%" stop-color="#4b0055"/><stop offset="92.45%" stop-color="#41004b"/><stop offset="92.76%" stop-color="#41004b"/><stop offset="92.91%" stop-color="#380040"/><stop offset="93.37%" stop-color="#380040"/><stop offset="93.52%" stop-color="#2f0035"/><stop offset="93.98%" stop-color="#2f0035"/><stop offset="94.13%" stop-color="#25002b"/><stop offset="94.59%" stop-color="#25002b"/><stop offset="94.74%" stop-color="#1c0020"/><stop offset="95.05%" stop-color="#1c0020"/><stop offset="95.2%" stop-color="#130015"/><stop offset="95.81%" stop-color="#130015"/><stop offset="95.96%" stop-color="#09000b"/><stop offset="96.57%" stop-color="#09000b"/><stop offset="96.72%" stop-color="#000"/><stop offset="99.92%" stop-color="#000"/></linearGradient>
<linearGradient id="gY1"><stop offset="0.08%" stop-color="#25002b"/><stop offset="15.78%" stop-color="#25002b"/><stop offset="15.93%" stop-color="#2f0035"/><stop offset="16.23%" stop-color="#2f0035"/><stop offset="16.39%" stop-color="#380040"/><stop offset="16.69%" stop-color="#380040"/><stop offset="16.84%" stop-color="#41004b"/><stop offset="17%" stop-color="#41004b"/><stop offset="17.91%" stop-color="#79008a"/><stop offset="19.28%" stop-color="#870098"/><stop offset="19.44%" stop-color="#6d009c"/><stop offset="19.59%" stop-color="#4300a2"/><stop offset="19.89%" stop-color="#0000b1"/><stop offset="20.2%" stop-color="#0009dd"/><stop offset="20.35%" stop-color="#002fdd"/><stop offset="20.66%" stop-color="#0067dd"/><stop offset="20.81%" stop-color="#007add"/><stop offset="21.57%" stop-color="#0092dd"/><stop offset="22.03%" stop-color="#009bd7"/><stop offset="22.64%" stop-color="#00aa98"/><stop offset="22.79%" stop-color="#0a8"/><stop offset="23.09%" stop-color="#009a08"/><stop offset="23.4%" stop-color="#00af00"/><stop offset="24.01%" stop-color="#00d700"/><stop offset="26.14%" stop-color="#00ea00"/><stop offset="28.12%" stop-color="#00ef00"/><stop offset="33.46%" stop-color="#00fa00"/><stop offset="43.06%" stop-color="#00f700"/><stop offset="46.57%" stop-color="#00ec00"/><stop offset="49.01%" stop-color="#00e700"/><stop offset="52.36%" stop-color="#00d700"/><stop offset="55.72%" stop-color="#00c700"/><stop offset="57.39%" stop-color="#00b200"/><stop offset="59.38%" stop-color="#009f00"/><stop offset="59.83%" stop-color="#009a00"/><stop offset="61.36%" stop-color="#00a668"/><stop offset="61.51%" stop-color="#00a668"/><stop offset="61.97%" stop-color="#0a8"/><stop offset="64.86%" stop-color="#00aaab"/><stop offset="66.69%" stop-color="#009adb"/><stop offset="69.44%" stop-color="#0078dd"/><stop offset="70.05%" stop-color="#0054dd"/><stop offset="70.35%" stop-color="#004bdd"/><stop offset="70.5%" stop-color="#0041dd"/><stop offset="71.27%" stop-color="#002fdd"/><stop offset="71.42%" stop-color="#002fdd"/><stop offset="71.57%" stop-color="#0025dd"/><stop offset="72.18%" stop-color="#001cdd"/><stop offset="72.48%" stop-color="#0013dd"/><stop offset="72.79%" stop-color="#0013dd"/><stop offset="72.94%" stop-color="#0009dd"/><stop offset="73.55%" stop-color="#0009dd"/><stop offset="73.86%" stop-color="#00d"/><stop offset="74.31%" stop-color="#0000d9"/><stop offset="74.47%" stop-color="#008ddd"/><stop offset="75.08%" stop-color="#008ddd"/><stop offset="75.23%" stop-color="#00d"/><stop offset="75.99%" stop-color="#00d"/><stop offset="76.14%" stop-color="#008ddd"/><stop offset="76.45%" stop-color="#008ddd"/><stop offset="76.6%" stop-color="#00d"/><stop offset="76.91%" stop-color="#00d"/><stop offset="77.06%" stop-color="#008ddd"/><stop offset="77.97%" stop-color="#008ddd"/><stop offset="78.12%" stop-color="#00aaa3"/><stop offset="78.73%" stop-color="#00aaa3"/><stop offset="78.89%" stop-color="#008ddd"/><stop offset="79.5%" stop-color="#008ddd"/><stop offset="79.65%" stop-color="#00d"/><stop offset="79.8%" stop-color="#00d"/><stop offset="79.95%" stop-color="#008ddd"/><stop offset="80.72%" stop-color="#008ddd"/><stop offset="80.87%" stop-color="#00d"/><stop offset="81.48%" stop-color="#00d"/><stop offset="81.63%" stop-color="#008ddd"/><stop offset="82.09%" stop-color="#008ddd"/><stop offset="82.24%" stop-color="#00d"/><stop offset="82.55%" stop-color="#00d"/><stop offset="82.7%" stop-color="#0300aa"/><stop offset="82.85%" stop-color="#0300aa"/><stop offset="83%" stop-color="#0d00a8"/><stop offset="83.16%" stop-color="#0d00a8"/><stop offset="83.31%" stop-color="#1800a7"/><stop offset="83.46%" stop-color="#1800a7"/><stop offset="83.61%" stop-color="#2300a6"/><stop offset="83.77%" stop-color="#2300a6"/><stop offset="84.07%" stop-color="#3800a3"/><stop offset="84.22%" stop-color="#3800a3"/><stop offset="84.38%" stop-color="#4300a2"/><stop offset="84.53%" stop-color="#4300a2"/><stop offset="84.68%" stop-color="#4d00a0"/><stop offset="84.83%" stop-color="#4d00a0"/><stop offset="84.98%" stop-color="#58009f"/><stop offset="85.14%" stop-color="#58009f"/><stop offset="85.44%" stop-color="#6d009c"/><stop offset="85.59%" stop-color="#6d009c"/><stop offset="85.9%" stop-color="#83009a"/><stop offset="87.73%" stop-color="#810092"/><stop offset="89.71%" stop-color="#708"/><stop offset="90.02%" stop-color="#700080"/><stop offset="90.17%" stop-color="#700080"/><stop offset="90.32%" stop-color="#670075"/><stop offset="90.78%" stop-color="#670075"/><stop offset="90.93%" stop-color="#5d006b"/><stop offset="91.23%" stop-color="#5d006b"/><stop offset="91.39%" stop-color="#540060"/><stop offset="91.69%" stop-color="#540060"/><stop offset="91.84%" stop-color="#4b0055"/><stop offset="92.3%" stop-color="#4b0055"/><stop offset="92.45%" stop-color="#41004b"/><stop offset="92.76%" stop-color="#41004b"/><stop offset="92.91%" stop-color="#380040"/><stop offset="93.37%" stop-color="#380040"/><stop offset="93.52%" stop-color="#2f0035"/><stop offset="93.98%" stop-color="#2f0035"/><stop offset="94.13%" stop-color="#25002b"/><stop offset="94.59%" stop-color="#25002b"/><stop offset="94.74%" stop-color="#1c0020"/><stop offset="95.05%" stop-color="#1c0020"/><stop offset="95.2%" stop-color="#130015"/><stop offset="95.81%" stop-color="#130015"/><stop offset="95.96%" stop-color="#09000b"/><stop offset="96.57%" stop-color="#09000b"/><stop offset="96.72%" stop-color="#000"/><stop offset="99.92%" stop-color="#000"/></linearGradient>
<linearGradient id="gY2"><stop offset="0.08%" stop-color="#25002b"/><stop offset="21.72%" stop-color="#25002b"/><stop offset="21.88%" stop-color="#2f0035"/><stop offset="22.03%" stop-color="#2f0035"/><stop offset="22.18%" stop-color="#380040"/><stop offset="22.33%" stop-color="#380040"/><stop offset="22.48%" stop-color="#41004b"/><stop offset="28.28%" stop-color="#41004b"/><stop offset="28.43%" stop-color="#4b0055"/><stop offset="28.73%" stop-color="#4b0055"/><stop offset="28.89%" stop-color="#41004b"/><stop offset="29.95%" stop-color="#41004b"/><stop offset="30.11%" stop-color="#4b0055"/><stop offset="31.02%" stop-color="#4b0055"/><stop offset="31.17%" stop-color="#41004b"/><stop offset="31.33%" stop-color="#41004b"/><stop offset="31.48%" stop-color="#4b0055"/><stop offset="32.24%" stop-color="#4b0055"/><stop offset="32.39%" stop-color="#41004b"/><stop offset="34.83%" stop-color="#41004b"/><stop offset="34.98%" stop-color="#4b0055"/><stop offset="43.67%" stop-color="#4b0055"/><stop offset="43.83%" stop-color="#540060"/><stop offset="44.13%" stop-color="#41004b"/><stop offset="45.5%" stop-color="#41004b"/><stop offset="45.66%" stop-color="#380040"/><stop offset="46.27%" stop-color="#380040"/><stop offset="46.42%" stop-color="#41004b"/><stop offset="50.99%" stop-color="#41004b"/><stop offset="51.14%" stop-color="#380040"/><stop offset="52.21%" stop-color="#380040"/><stop offset="52.36%" stop-color="#41004b"/><stop offset="55.26%" stop-color="#41004b"/><stop offset="55.41%" stop-color="#4b0055"/><stop offset="57.39%" stop-color="#4b0055"/><stop offset="57.55%" stop-color="#540060"/><stop offset="58.46%" stop-color="#540060"/><stop offset="58.61%" stop-color="#4b0055"/><stop offset="61.66%" stop-color="#4b0055"/><stop offset="61.81%" stop-color="#41004b"/><stop offset="62.27%" stop-color="#41004b"/><stop offset="62.42%" stop-color="#4b0055"/><stop offset="62.58%" stop-color="#41004b"/><stop offset="62.73%" stop-color="#41004b"/><stop offset="62.88%" stop-color="#380040"/><stop offset="73.4%" stop-color="#380040"/><stop offset="73.55%" stop-color="#2f0035"/><stop offset="74.62%" stop-color="#2f0035"/><stop offset="74.77%" stop-color="#380040"/><stop offset="83.92%" stop-color="#380040"/><stop offset="84.07%" stop-color="#41004b"/><stop offset="85.29%" stop-color="#41004b"/><stop offset="85.44%" stop-color="#380040"/><stop offset="86.05%" stop-color="#380040"/><stop offset="86.2%" stop-color="#41004b"/><stop offset="87.12%" stop-color="#41004b"/><stop offset="87.27%" stop-color="#380040"/><stop offset="89.1%" stop-color="#380040"/><stop offset="89.25%" stop-color="#2f0035"/><stop offset="91.54%" stop-color="#2f0035"/><stop offset="91.69%" stop-color="#25002b"/><stop offset="93.22%" stop-color="#25002b"/><stop offset="93.37%" stop-color="#1c0020"/><stop offset="94.44%" stop-color="#1c0020"/><stop offset="94.59%" stop-color="#130015"/><stop offset="95.66%" stop-color="#130015"/><stop offset="95.81%" stop-color="#09000b"/><stop offset="96.88%" stop-color="#09000b"/><stop offset="97.03%" stop-color="#000"/><stop offset="99.92%" stop-color="#000"/></linearGradient>
<linearGradient id="gY3"><stop offset="0.08%" stop-color="#25002b"/><stop offset="17%" stop-color="#25002b"/><stop offset="17.15%" stop-color="#2f0035"/><stop offset="17.61%" stop-color="#2f0035"/><stop offset="17.76%" stop-color="#380040"/><stop offset="18.22%" stop-color="#380040"/><stop offset="18.37%" stop-color="#41004b"/><stop offset="18.52%" stop-color="#41004b"/><stop offset="18.67%" stop-color="#4b0055"/><stop offset="18.83%" stop-color="#4b0055"/><stop offset="18.98%" stop-color="#540060"/><stop offset="19.13%" stop-color="#540060"/><stop offset="19.28%" stop-color="#5d006b"/><stop offset="19.44%" stop-color="#5d006b"/><stop offset="19.59%" stop-color="#670075"/><stop offset="19.74%" stop-color="#670075"/><stop offset="19.89%" stop-color="#700080"/><stop offset="20.05%" stop-color="#700080"/><stop offset="20.35%" stop-color="#7a008b"/><stop offset="22.48%" stop-color="#870098"/><stop offset="22.79%" stop-color="#4300a2"/><stop offset="22.94%" stop-color="#1800a7"/><stop offset="23.09%" stop-color="#0000ad"/><stop offset="23.55%" stop-color="#0000d9"/><stop offset="23.7%" stop-color="#0009dd"/><stop offset="23.86%" stop-color="#001cdd"/><stop offset="24.01%" stop-color="#0025dd"/><stop offset="24.47%" stop-color="#005ddd"/><stop offset="24.77%" stop-color="#0078dd"/><stop offset="27.67%" stop-color="#009adb"/><stop offset="31.33%" stop-color="#00a4bb"/><stop offset="33.31%" stop-color="#00aaab"/><stop offset="43.52%" stop-color="#00aa93"/><stop offset="46.72%" stop-color="#00aa90"/><stop offset="49.01%" stop-color="#00aa8b"/><stop offset="50.23%" stop-color="#0a8"/><stop offset="50.38%" stop-color="#00a97d"/><stop offset="50.53%" stop-color="#00a97d"/><stop offset="50.69%" stop-color="#00a773"/><stop offset="50.99%" stop-color="#00a773"/><stop offset="51.14%" stop-color="#00a668"/><stop offset="51.45%" stop-color="#00a668"/><stop offset="51.6%" stop-color="#00a55d"/><stop offset="52.06%" stop-color="#00a55d"/><stop offset="52.21%" stop-color="#00a668"/><stop offset="52.52%" stop-color="#00a668"/><stop offset="52.67%" stop-color="#00a773"/><stop offset="53.28%" stop-color="#00a773"/><stop offset="53.43%" stop-color="#00a668"/><stop offset="53.73%" stop-color="#00a668"/><stop offset="53.89%" stop-color="#00a773"/><stop offset="54.34%" stop-color="#00a773"/><stop offset="54.5%" stop-color="#00a97d"/><stop offset="54.8%" stop-color="#00a97d"/><stop offset="54.95%" stop-color="#0a8"/><stop offset="57.7%" stop-color="#00aa98"/><stop offset="59.38%" stop-color="#00aaa8"/><stop offset="62.12%" stop-color="#0098dd"/><stop offset="63.95%" stop-color="#0078dd"/><stop offset="64.41%" stop-color="#005ddd"/><stop offset="64.71%" stop-color="#0054dd"/><stop offset="65.47%" stop-color="#0025dd"/><stop offset="65.78%" stop-color="#001cdd"/><stop offset="66.23%" stop-color="#00d"/><stop offset="70.05%" stop-color="#0300aa"/><stop offset="70.2%" stop-color="#0d00a8"/><stop offset="70.35%" stop-color="#0d00a8"/><stop offset="70.5%" stop-color="#1800a7"/><stop offset="70.81%" stop-color="#1800a7"/><stop offset="70.96%" stop-color="#2300a6"/><stop offset="71.11%" stop-color="#2300a6"/><stop offset="71.27%" stop-color="#2d00a4"/><stop offset="71.57%" stop-color="#2d00a4"/><stop offset="71.72%" stop-color="#3800a3"/><stop offset="72.03%" stop-color="#3800a3"/><stop offset="72.18%" stop-color="#4300a2"/><stop offset="72.64%" stop-color="#4300a2"/><stop offset="72.79%" stop-color="#4d00a0"/><stop offset="73.09%" stop-color="#4d00a0"/><stop offset="73.25%" stop-color="#58009f"/><stop offset="73.7%" stop-color="#58009f"/><stop offset="73.86%" stop-color="#63009e"/><stop offset="74.31%" stop-color="#63009e"/><stop offset="74.47%" stop-color="#009cd3"/><stop offset="75.08%" stop-color="#009cd3"/><stop offset="75.23%" stop-color="#00d"/><stop offset="75.99%" stop-color="#00d"/><stop offset="76.14%" stop-color="#009cd3"/><stop offset="76.45%" stop-color="#009cd3"/><stop offset="76.6%" stop-color="#0098dd"/><stop offset="77.97%" stop-color="#009cd3"/><stop offset="78.12%" stop-color="#00a7b3"/><stop offset="78.73%" stop-color="#00a6b7"/><stop offset="78.89%" stop-color="#009cd3"/><stop offset="79.5%" stop-color="#009bd7"/><stop offset="79.65%" stop-color="#00d"/><stop offset="79.8%" stop-color="#00d"/><stop offset="79.95%" stop-color="#009bd7"/><stop offset="80.72%" stop-color="#009cd3"/><stop offset="80.87%" stop-color="#00d"/><stop offset="81.48%" stop-color="#00d"/><stop offset="81.63%" stop-color="#009ecf"/><stop offset="82.09%" stop-color="#009ecf"/><stop offset="82.24%" stop-color="#00d"/><stop offset="82.55%" stop-color="#00d"/><stop offset="82.7%" stop-color="#850096"/><stop offset="88.19%" stop-color="#708"/><stop offset="88.49%" stop-color="#700080"/><stop offset="88.8%" stop-color="#700080"/><stop offset="88.95%" stop-color="#670075"/><stop offset="89.41%" stop-color="#670075"/><stop offset="89.56%" stop-color="#5d006b"/><stop offset="90.02%" stop-color="#5d006b"/><stop offset="90.17%" stop-color="#540060"/><stop offset="90.62%" stop-color="#540060"/><stop offset="90.78%" stop-color="#4b0055"/><stop offset="91.39%" stop-color="#4b0055"/><stop offset="91.54%" stop-color="#41004b"/><stop offset="92%" stop-color="#41004b"/><stop offset="92.15%" stop-color="#380040"/><stop offset="92.76%" stop-color="#380040"/><stop offset="92.91%" stop-color="#2f0035"/><stop offset="93.52%" stop-color="#2f0035"/><stop offset="93.67%" stop-color="#25002b"/><stop offset="94.28%" stop-color="#25002b"/><stop offset="94.44%" stop-color="#1c0020"/><stop offset="95.05%" stop-color="#1c0020"/><stop offset="95.2%" stop-color="#130015"/><stop offset="95.81%" stop-color="#130015"/><stop offset="95.96%" stop-color="#09000b"/><stop offset="96.57%" stop-color="#09000b"/><stop offset="96.72%" stop-color="#000"/><stop offset="99.92%" stop-color="#000"/></linearGradient>
<linearGradient id="gY4"><stop offset="0.08%" stop-color="#25002b"/><stop offset="17%" stop-color="#25002b"/><stop offset="17.15%" stop-color="#2f0035"/><stop offset="17.61%" stop-color="#2f0035"/><stop offset="17.76%" stop-color="#380040"/><stop offset="18.22%" stop-color="#380040"/><stop offset="18.37%" stop-color="#41004b"/><stop offset="18.52%" stop-color="#41004b"/><stop offset="18.67%" stop-color="#4b0055"/><stop offset="18.83%" stop-color="#4b0055"/><stop offset="18.98%" stop-color="#540060"/><stop offset="19.13%" stop-color="#540060"/><stop offset="19.28%" stop-color="#5d006b"/><stop offset="19.44%" stop-color="#5d006b"/><stop offset="19.59%" stop-color="#670075"/><stop offset="19.74%" stop-color="#670075"/><stop offset="19.89%" stop-color="#700080"/><stop offset="20.05%" stop-color="#700080"/><stop offset="20.35%" stop-color="#7a008b"/><stop offset="22.48%" stop-color="#870098"/><stop offset="22.79%" stop-color="#4300a2"/><stop offset="22.94%" stop-color="#1800a7"/><stop offset="23.09%" stop-color="#0300aa"/><stop offset="24.47%" stop-color="#00d"/><stop offset="24.77%" stop-color="#0013dd"/><stop offset="25.08%" stop-color="#001cdd"/><stop offset="25.69%" stop-color="#0041dd"/><stop offset="25.84%" stop-color="#0041dd"/><stop offset="26.6%" stop-color="#0070dd"/><stop offset="29.8%" stop-color="#0098dd"/><stop offset="32.09%" stop-color="#009ecf"/><stop offset="33.77%" stop-color="#00a0c7"/><stop offset="35.14%" stop-color="#00a3bf"/><stop offset="37.88%" stop-color="#00a8af"/><stop offset="41.54%" stop-color="#00aaa3"/><stop offset="46.72%" stop-color="#00aa9b"/><stop offset="49.77%" stop-color="#00aa93"/><stop offset="52.21%" stop-color="#0a8"/><stop offset="55.72%" stop-color="#00aa98"/><stop offset="58.31%" stop-color="#00a7b3"/><stop offset="60.44%" stop-color="#0098dd"/><stop offset="62.27%" stop-color="#0078dd"/><stop offset="62.58%" stop-color="#0067dd"/><stop offset="62.73%" stop-color="#0067dd"/><stop offset="63.19%" stop-color="#004bdd"/><stop offset="63.34%" stop-color="#004bdd"/><stop offset="63.8%" stop-color="#002fdd"/><stop offset="63.95%" stop-color="#002fdd"/><stop offset="64.25%" stop-color="#001cdd"/><stop offset="64.56%" stop-color="#0013dd"/><stop offset="64.86%" stop-color="#00d"/><stop offset="69.74%" stop-color="#0300aa"/><stop offset="69.89%" stop-color="#0d00a8"/><stop offset="70.05%" stop-color="#0d00a8"/><stop offset="70.2%" stop-color="#1800a7"/><stop offset="70.5%" stop-color="#1800a7"/><stop offset="70.66%" stop-color="#2300a6"/><stop offset="70.96%" stop-color="#2300a6"/><stop offset="71.11%" stop-color="#2d00a4"/><stop offset="71.42%" stop-color="#2d00a4"/><stop offset="71.57%" stop-color="#3800a3"/><stop offset="72.03%" stop-color="#3800a3"/><stop offset="72.18%" stop-color="#4300a2"/><stop offset="72.64%" stop-color="#4300a2"/><stop offset="72.79%" stop-color="#4d00a0"/><stop offset="73.09%" stop-color="#4d00a0"/><stop offset="73.25%" stop-color="#58009f"/><stop offset="73.7%" stop-color="#58009f"/><stop offset="73.86%" stop-color="#63009e"/><stop offset="74.31%" stop-color="#63009e"/><stop offset="74.47%" stop-color="#009cd3"/><stop offset="75.08%" stop-color="#009cd3"/><stop offset="75.23%" stop-color="#00d"/><stop offset="75.99%" stop-color="#00d"/><stop offset="76.14%" stop-color="#009cd3"/><stop offset="76.45%" stop-color="#009cd3"/><stop offset="76.6%" stop-color="#0098dd"/><stop offset="77.97%" stop-color="#009cd3"/><stop offset="78.12%" stop-color="#00a7b3"/><stop offset="78.73%" stop-color="#00a6b7"/><stop offset="78.89%" stop-color="#009cd3"/><stop offset="79.5%" stop-color="#009bd7"/><stop offset="79.65%" stop-color="#00d"/><stop offset="79.8%" stop-color="#00d"/><stop offset="79.95%" stop-color="#009bd7"/><stop offset="80.72%" stop-color="#009cd3"/><stop offset="80.87%" stop-color="#00d"/><stop offset="81.48%" stop-color="#00d"/><stop offset="81.63%" stop-color="#009ecf"/><stop offset="82.09%" stop-color="#009ecf"/><stop offset="82.24%" stop-color="#00d"/><stop offset="82.55%" stop-color="#00d"/><stop offset="82.7%" stop-color="#850096"/><stop offset="88.19%" stop-color="#708"/><stop offset="88.49%" stop-color="#700080"/><stop offset="88.8%" stop-color="#700080"/><stop offset="88.95%" stop-color="#670075"/><stop offset="89.41%" stop-color="#670075"/><stop offset="89.56%" stop-color="#5d006b"/><stop offset="90.02%" stop-color="#5d006b"/><stop offset="90.17%" stop-color="#540060"/><stop offset="90.62%" stop-color="#540060"/><stop offset="90.78%" stop-color="#4b0055"/><stop offset="91.39%" stop-color="#4b0055"/><stop offset="91.54%" stop-color="#41004b"/><stop offset="92%" stop-color="#41004b"/><stop offset="92.15%" stop-color="#380040"/><stop offset="92.76%" stop-color="#380040"/><stop offset="92.91%" stop-color="#2f0035"/><stop offset="93.52%" stop-color="#2f0035"/><stop offset="93.67%" stop-color="#25002b"/><stop offset="94.28%" stop-color="#25002b"/><stop offset="94.44%" stop-color="#1c0020"/><stop offset="95.05%" stop-color="#1c0020"/><stop offset="95.2%" stop-color="#130015"/><stop offset="95.81%" stop-color="#130015"/><stop offset="95.96%" stop-color="#09000b"/><stop offset="96.57%" stop-color="#09000b"/><stop offset="96.72%" stop-color="#000"/><stop offset="99.92%" stop-color="#000"/></linearGradient>
<linearGradient id="gY5"><stop offset="0.08%" stop-color="#25002b"/><stop offset="17%" stop-color="#25002b"/><stop offset="17.15%" stop-color="#2f0035"/><stop offset="17.61%" stop-color="#2f0035"/><stop offset="17.76%" stop-color="#380040"/><stop offset="18.22%" stop-color="#380040"/><stop offset="18.37%" stop-color="#41004b"/><stop offset="18.52%" stop-color="#41004b"/><stop offset="18.67%" stop-color="#4b0055"/><stop offset="18.83%" stop-color="#4b0055"/><stop offset="18.98%" stop-color="#540060"/><stop offset="19.13%" stop-color="#540060"/><stop offset="19.28%" stop-color="#5d006b"/><stop offset="19.44%" stop-color="#5d006b"/><stop offset="19.59%" stop-color="#670075"/><stop offset="19.74%" stop-color="#670075"/><stop offset="19.89%" stop-color="#700080"/><stop offset="20.05%" stop-color="#700080"/><stop offset="20.35%" stop-color="#7a008b"/><stop offset="22.48%" stop-color="#870098"/><stop offset="22.79%" stop-color="#4300a2"/><stop offset="22.94%" stop-color="#1800a7"/><stop offset="23.09%" stop-color="#0300aa"/><stop offset="25.53%" stop-color="#00d"/><stop offset="25.99%" stop-color="#0013dd"/><stop offset="26.75%" stop-color="#002fdd"/><stop offset="27.52%" stop-color="#0041dd"/><stop offset="27.67%" stop-color="#004bdd"/><stop offset="28.43%" stop-color="#005ddd"/><stop offset="28.58%" stop-color="#0067dd"/><stop offset="28.89%" stop-color="#0070dd"/><stop offset="29.19%" stop-color="#0078dd"/><stop offset="33.46%" stop-color="#009adb"/><stop offset="35.44%" stop-color="#009cd3"/><stop offset="38.03%" stop-color="#00a0c7"/><stop offset="41.69%" stop-color="#00a7b3"/><stop offset="44.13%" stop-color="#00aaab"/><stop offset="46.57%" stop-color="#00aaa5"/><stop offset="50.69%" stop-color="#00aa93"/><stop offset="52.36%" stop-color="#00aa8d"/><stop offset="54.5%" stop-color="#00aa95"/><stop offset="56.48%" stop-color="#00aaa8"/><stop offset="58.61%" stop-color="#00a0c7"/><stop offset="59.83%" stop-color="#0095dd"/><stop offset="61.51%" stop-color="#0078dd"/><stop offset="61.81%" stop-color="#0067dd"/><stop offset="61.97%" stop-color="#0067dd"/><stop offset="62.27%" stop-color="#0054dd"/><stop offset="62.58%" stop-color="#004bdd"/><stop offset="62.73%" stop-color="#0041dd"/><stop offset="63.03%" stop-color="#0038dd"/><stop offset="63.49%" stop-color="#0025dd"/><stop offset="63.95%" stop-color="#0013dd"/><stop offset="64.1%" stop-color="#0009dd"/><stop offset="64.71%" stop-color="#0000d9"/><stop offset="69.44%" stop-color="#0300aa"/><stop offset="69.59%" stop-color="#0d00a8"/><stop offset="69.89%" stop-color="#0d00a8"/><stop offset="70.05%" stop-color="#1800a7"/><stop offset="70.35%" stop-color="#1800a7"/><stop offset="70.5%" stop-color="#2300a6"/><stop offset="70.96%" stop-color="#2300a6"/><stop offset="71.11%" stop-color="#2d00a4"/><stop offset="71.42%" stop-color="#2d00a4"/><stop offset="71.57%" stop-color="#3800a3"/><stop offset="72.03%" stop-color="#3800a3"/><stop offset="72.18%" stop-color="#4300a2"/><stop offset="72.64%" stop-color="#4300a2"/><stop offset="72.79%" stop-color="#4d00a0"/><stop offset="73.09%" stop-color="#4d00a0"/><stop offset="73.25%" stop-color="#58009f"/><stop offset="73.7%" stop-color="#58009f"/><stop offset="73.86%" stop-color="#63009e"/><stop offset="74.31%" stop-color="#63009e"/><stop offset="74.47%" stop-color="#009cd3"/><stop offset="75.08%" stop-color="#009cd3"/><stop offset="75.23%" stop-color="#00d"/><stop offset="75.99%" stop-color="#00d"/><stop offset="76.14%" stop-color="#009cd3"/><stop offset="76.45%" stop-color="#009cd3"/><stop offset="76.6%" stop-color="#0098dd"/><stop offset="77.97%" stop-color="#009cd3"/><stop offset="78.12%" stop-color="#00a7b3"/><stop offset="78.73%" stop-color="#00a6b7"/><stop offset="78.89%" stop-color="#009cd3"/><stop offset="79.5%" stop-color="#009bd7"/><stop offset="79.65%" stop-color="#00d"/><stop offset="79.8%" stop-color="#00d"/><stop offset="79.95%" stop-color="#009bd7"/><stop offset="80.72%" stop-color="#009cd3"/><stop offset="80.87%" stop-color="#00d"/><stop offset="81.48%" stop-color="#00d"/><stop offset="81.63%" stop-color="#009ecf"/><stop offset="82.09%" stop-color="#009ecf"/><stop offset="82.24%" stop-color="#00d"/><stop offset="82.55%" stop-color="#00d"/><stop offset="82.7%" stop-color="#850096"/><stop offset="88.19%" stop-color="#708"/><stop offset="88.49%" stop-color="#700080"/><stop offset="88.8%" stop-color="#700080"/><stop offset="88.95%" stop-color="#670075"/><stop offset="89.41%" stop-color="#670075"/><stop offset="89.56%" stop-color="#5d006b"/><stop offset="90.02%" stop-color="#5d006b"/><stop offset="90.17%" stop-color="#540060"/><stop offset="90.62%" stop-color="#540060"/><stop offset="90.78%" stop-color="#4b0055"/><stop offset="91.39%" stop-color="#4b0055"/><stop offset="91.54%" stop-color="#41004b"/><stop offset="92%" stop-color="#41004b"/><stop offset="92.15%" stop-color="#380040"/><stop offset="92.76%" stop-color="#380040"/><stop offset="92.91%" stop-color="#2f0035"/><stop offset="93.52%" stop-color="#2f0035"/><stop offset="93.67%" stop-color="#25002b"/><stop offset="94.28%" stop-color="#25002b"/><stop offset="94.44%" stop-color="#1c0020"/><stop offset="95.05%" stop-color="#1c0020"/><stop offset="95.2%" stop-color="#130015"/><stop offset="95.81%" stop-color="#130015"/><stop offset="95.96%" stop-color="#09000b"/><stop offset="96.57%" stop-color="#09000b"/><stop offset="96.72%" stop-color="#000"/><stop offset="99.92%" stop-color="#000"/></linearGradient>
<linearGradient id="gY6"><stop offset="0.08%" stop-color="#25002b"/><stop offset="17%" stop-color="#25002b"/><stop offset="17.15%" stop-color="#2f0035"/><stop offset="17.61%" stop-color="#2f0035"/><stop offset="17.76%" stop-color="#380040"/><stop offset="18.22%" stop-color="#380040"/><stop offset="18.37%" stop-color="#41004b"/><stop offset="18.52%" stop-color="#41004b"/><stop offset="18.67%" stop-color="#4b0055"/><stop offset="18.83%" stop-color="#4b0055"/><stop offset="18.98%" stop-color="#540060"/><stop offset="19.13%" stop-color="#540060"/><stop offset="19.28%" stop-color="#5d006b"/><stop offset="19.44%" stop-color="#5d006b"/><stop offset="19.59%" stop-color="#670075"/><stop offset="19.74%" stop-color="#670075"/><stop offset="19.89%" stop-color="#700080"/><stop offset="20.05%" stop-color="#700080"/><stop offset="20.35%" stop-color="#7a008b"/><stop offset="22.48%" stop-color="#870098"/><stop offset="22.79%" stop-color="#4300a2"/><stop offset="22.94%" stop-color="#1800a7"/><stop offset="23.09%" stop-color="#0300aa"/><stop offset="24.92%" stop-color="#00d"/><stop offset="25.23%" stop-color="#0013dd"/><stop offset="25.53%" stop-color="#001cdd"/><stop offset="25.99%" stop-color="#002fdd"/><stop offset="26.45%" stop-color="#0041dd"/><stop offset="26.6%" stop-color="#004bdd"/><stop offset="26.91%" stop-color="#0054dd"/><stop offset="27.36%" stop-color="#0067dd"/><stop offset="27.82%" stop-color="#0078dd"/><stop offset="31.63%" stop-color="#009adb"/><stop offset="34.22%" stop-color="#009ecf"/><stop offset="36.36%" stop-color="#00a2c3"/><stop offset="37.73%" stop-color="#00a4bb"/><stop offset="40.93%" stop-color="#00aaa8"/><stop offset="46.72%" stop-color="#00aaa0"/><stop offset="49.16%" stop-color="#00aa95"/><stop offset="50.99%" stop-color="#00aa90"/><stop offset="52.36%" stop-color="#00aa8d"/><stop offset="54.5%" stop-color="#00aa95"/><stop offset="56.48%" stop-color="#00aaa8"/><stop offset="58.61%" stop-color="#00a0c7"/><stop offset="59.83%" stop-color="#0095dd"/><stop offset="61.51%" stop-color="#0078dd"/><stop offset="61.81%" stop-color="#0067dd"/><stop offset="61.97%" stop-color="#0067dd"/><stop offset="62.27%" stop-color="#0054dd"/><stop offset="62.58%" stop-color="#004bdd"/><stop offset="62.73%" stop-color="#0041dd"/><stop offset="63.03%" stop-color="#0038dd"/><stop offset="63.49%" stop-color="#0025dd"/><stop offset="63.95%" stop-color="#0013dd"/><stop offset="64.1%" stop-color="#0009dd"/><stop offset="64.71%" stop-color="#0000d9"/><stop offset="69.44%" stop-color="#0300aa"/><stop offset="69.59%" stop-color="#0d00a8"/><stop offset="69.89%" stop-color="#0d00a8"/><stop offset="70.05%" stop-color="#1800a7"/><stop offset="70.35%" stop-color="#1800a7"/><stop offset="70.5%" stop-color="#2300a6"/><stop offset="70.96%" stop-color="#2300a6"/><stop offset="71.11%" stop-color="#2d00a4"/><stop offset="71.42%" stop-color="#2d00a4"/><stop offset="71.57%" stop-color="#3800a3"/><stop offset="72.03%" stop-color="#3800a3"/><stop offset="72.18%" stop-color="#4300a2"/><stop offset="72.64%" stop-color="#4300a2"/><stop offset="72.79%" stop-color="#4d00a0"/><stop offset="73.09%" stop-color="#4d00a0"/><stop offset="73.25%" stop-color="#58009f"/><stop offset="73.7%" stop-color="#58009f"/><stop offset="73.86%" stop-color="#63009e"/><stop offset="74.31%" stop-color="#63009e"/><stop offset="74.47%" stop-color="#009cd3"/><stop offset="75.08%" stop-color="#009cd3"/><stop offset="75.23%" stop-color="#00d"/><stop offset="75.99%" stop-color="#00d"/><stop offset="76.14%" stop-color="#009cd3"/><stop offset="76.45%" stop-color="#009cd3"/><stop offset="76.6%" stop-color="#0098dd"/><stop offset="77.97%" stop-color="#009cd3"/><stop offset="78.12%" stop-color="#00a7b3"/><stop offset="78.73%" stop-color="#00a6b7"/><stop offset="78.89%" stop-color="#009cd3"/><stop offset="79.5%" stop-color="#009bd7"/><stop offset="79.65%" stop-color="#00d"/><stop offset="79.8%" stop-color="#00d"/><stop offset="79.95%" stop-color="#009bd7"/><stop offset="80.72%" stop-color="#009cd3"/><stop offset="80.87%" stop-color="#00d"/><stop offset="81.48%" stop-color="#00d"/><stop offset="81.63%" stop-color="#009ecf"/><stop offset="82.09%" stop-color="#009ecf"/><stop offset="82.24%" stop-color="#00d"/><stop offset="82.55%" stop-color="#00d"/><stop offset="82.7%" stop-color="#850096"/><stop offset="88.19%" stop-color="#708"/><stop offset="88.49%" stop-color="#700080"/><stop offset="88.8%" stop-color="#700080"/><stop offset="88.95%" stop-color="#670075"/><stop offset="89.41%" stop-color="#670075"/><stop offset="89.56%" stop-color="#5d006b"/><stop offset="90.02%" stop-color="#5d006b"/><stop offset="90.17%" stop-color="#540060"/><stop offset="90.62%" stop-color="#540060"/><stop offset="90.78%" stop-color="#4b0055"/><stop offset="91.39%" stop-color="#4b0055"/><stop offset="91.54%" stop-color="#41004b"/><stop offset="92%" stop-color="#41004b"/><stop offset="92.15%" stop-color="#380040"/><stop offset="92.76%" stop-color="#380040"/><stop offset="92.91%" stop-color="#2f0035"/><stop offset="93.52%" stop-color="#2f0035"/><stop offset="93.67%" stop-color="#25002b"/><stop offset="94.28%" stop-color="#25002b"/><stop offset="94.44%" stop-color="#1c0020"/><stop offset="95.05%" stop-color="#1c0020"/><stop offset="95.2%" stop-color="#130015"/><stop offset="95.81%" stop-color="#130015"/><stop offset="95.96%" stop-color="#09000b"/><stop offset="96.57%" stop-color="#09000b"/><stop offset="96.72%" stop-color="#000"/><stop offset="99.92%" stop-color="#000"/></linearGradient>
<linearGradient id="gY7"><stop offset="0.08%" stop-color="#25002b"/><stop offset="17%" stop-color="#25002b"/><stop offset="17.15%" stop-color="#2f0035"/><stop offset="17.61%" stop-color="#2f0035"/><stop offset="17.76%" stop-color="#380040"/><stop offset="18.22%" stop-color="#380040"/><stop offset="18.37%" stop-color="#41004b"/><stop offset="18.52%" stop-color="#41004b"/><stop offset="18.67%" stop-color="#4b0055"/><stop offset="18.83%" stop-color="#4b0055"/><stop offset="18.98%" stop-color="#540060"/><stop offset="19.13%" stop-color="#540060"/><stop offset="19.28%" stop-color="#5d006b"/><stop offset="19.44%" stop-color="#5d006b"/><stop offset="19.59%" stop-color="#670075"/><stop offset="19.74%" stop-color="#670075"/><stop offset="19.89%" stop-color="#700080"/><stop offset="20.05%" stop-color="#700080"/><stop offset="20.35%" stop-color="#7a008b"/><stop offset="22.48%" stop-color="#870098"/><stop offset="22.79%" stop-color="#4300a2"/><stop offset="22.94%" stop-color="#1800a7"/><stop offset="23.09%" stop-color="#0000ad"/><stop offset="24.31%" stop-color="#00d"/><stop offset="25.08%" stop-color="#002fdd"/><stop offset="25.38%" stop-color="#0038dd"/><stop offset="26.45%" stop-color="#0078dd"/><stop offset="29.8%" stop-color="#009adb"/><stop offset="32.55%" stop-color="#00a0c7"/><stop offset="34.68%" stop-color="#00a3bf"/><stop offset="36.05%" stop-color="#00a7b3"/><stop offset="38.03%" stop-color="#00aaa8"/><stop offset="44.44%" stop-color="#00aa9b"/><stop offset="46.27%" stop-color="#00aa98"/><stop offset="49.31%" stop-color="#00aa8d"/><stop offset="50.69%" stop-color="#0a8"/><stop offset="50.84%" stop-color="#00a97d"/><stop offset="51.14%" stop-color="#00a97d"/><stop offset="51.3%" stop-color="#00a773"/><stop offset="51.75%" stop-color="#00a773"/><stop offset="51.91%" stop-color="#00a668"/><stop offset="52.06%" stop-color="#00a668"/><stop offset="52.21%" stop-color="#00a773"/><stop offset="52.36%" stop-color="#00a773"/><stop offset="52.52%" stop-color="#00a97d"/><stop offset="54.04%" stop-color="#00a97d"/><stop offset="54.19%" stop-color="#0a8"/><stop offset="56.17%" stop-color="#00aa95"/><stop offset="58%" stop-color="#00aaa0"/><stop offset="61.36%" stop-color="#0098dd"/><stop offset="63.19%" stop-color="#0078dd"/><stop offset="63.64%" stop-color="#005ddd"/><stop offset="63.95%" stop-color="#0054dd"/><stop offset="64.41%" stop-color="#0038dd"/><stop offset="64.71%" stop-color="#002fdd"/><stop offset="65.17%" stop-color="#0013dd"/><stop offset="65.32%" stop-color="#0013dd"/><stop offset="65.62%" stop-color="#00d"/><stop offset="69.89%" stop-color="#0300aa"/><stop offset="70.05%" stop-color="#0d00a8"/><stop offset="70.2%" stop-color="#0d00a8"/><stop offset="70.35%" stop-color="#1800a7"/><stop offset="70.66%" stop-color="#1800a7"/><stop offset="70.81%" stop-color="#2300a6"/><stop offset="71.11%" stop-color="#2300a6"/><stop offset="71.27%" stop-color="#2d00a4"/><stop offset="71.57%" stop-color="#2d00a4"/><stop offset="71.72%" stop-color="#3800a3"/><stop offset="72.03%" stop-color="#3800a3"/><stop offset="72.18%" stop-color="#4300a2"/><stop offset="72.64%" stop-color="#4300a2"/><stop offset="72.79%" stop-color="#4d00a0"/><stop offset="73.09%" stop-color="#4d00a0"/><stop offset="73.25%" stop-color="#58009f"/><stop offset="73.7%" stop-color="#58009f"/><stop offset="73.86%" stop-color="#63009e"/><stop offset="74.31%" stop-color="#63009e"/><stop offset="74.47%" stop-color="#009cd3"/><stop offset="75.08%" stop-color="#009cd3"/><stop offset="75.23%" stop-color="#00d"/><stop offset="75.99%" stop-color="#00d"/><stop offset="76.14%" stop-color="#009cd3"/><stop offset="76.45%" stop-color="#009cd3"/><stop offset="76.6%" stop-color="#0098dd"/><stop offset="77.97%" stop-color="#009cd3"/><stop offset="78.12%" stop-color="#00a7b3"/><stop offset="78.73%" stop-color="#00a6b7"/><stop offset="78.89%" stop-color="#009cd3"/><stop offset="79.5%" stop-color="#009bd7"/><stop offset="79.65%" stop-color="#00d"/><stop offset="79.8%" stop-color="#00d"/><stop offset="79.95%" stop-color="#009bd7"/><stop offset="80.72%" stop-color="#009cd3"/><stop offset="80.87%" stop-color="#00d"/><stop offset="81.48%" stop-color="#00d"/><stop offset="81.63%" stop-color="#009ecf"/><stop offset="82.09%" stop-color="#009ecf"/><stop offset="82.24%" stop-color="#00d"/><stop offset="82.55%" stop-color="#00d"/><stop offset="82.7%" stop-color="#850096"/><stop offset="88.19%" stop-color="#708"/><stop offset="88.49%" stop-color="#700080"/><stop offset="88.8%" stop-color="#700080"/><stop offset="88.95%" stop-color="#670075"/><stop offset="89.41%" stop-color="#670075"/><stop offset="89.56%" stop-color="#5d006b"/><stop offset="90.02%" stop-color="#5d006b"/><stop offset="90.17%" stop-color="#540060"/><stop offset="90.62%" stop-color="#540060"/><stop offset="90.78%" stop-color="#4b0055"/><stop offset="91.39%" stop-color="#4b0055"/><stop offset="91.54%" stop-color="#41004b"/><stop offset="92%" stop-color="#41004b"/><stop offset="92.15%" stop-color="#380040"/><stop offset="92.76%" stop-color="#380040"/><stop offset="92.91%" stop-color="#2f0035"/><stop offset="93.52%" stop-color="#2f0035"/><stop offset="93.67%" stop-color="#25002b"/><stop offset="94.28%" stop-color="#25002b"/><stop offset="94.44%" stop-color="#1c0020"/><stop offset="95.05%" stop-color="#1c0020"/><stop offset="95.2%" stop-color="#130015"/><stop offset="95.81%" stop-color="#130015"/><stop offset="95.96%" stop-color="#09000b"/><stop offset="96.57%" stop-color="#09000b"/><stop offset="96.72%" stop-color="#000"/><stop offset="99.92%" stop-color="#000"/></linearGradient>
<linearGradient id="gY8"><stop offset="0.08%" stop-color="#25002b"/><stop offset="17%" stop-color="#25002b"/><stop offset="17.15%" stop-color="#2f0035"/><stop offset="17.61%" stop-color="#2f0035"/><stop offset="17.76%" stop-color="#380040"/><stop offset="18.22%" stop-color="#380040"/><stop offset="18.37%" stop-color="#41004b"/><stop offset="18.52%" stop-color="#41004b"/><stop offset="18.67%" stop-color="#4b0055"/><stop offset="18.83%" stop-color="#4b0055"/><stop offset="18.98%" stop-color="#540060"/><stop offset="19.13%" stop-color="#540060"/><stop offset="19.28%" stop-color="#5d006b"/><stop offset="19.44%" stop-color="#5d006b"/><stop offset="19.59%" stop-color="#670075"/><stop offset="19.74%" stop-color="#670075"/><stop offset="19.89%" stop-color="#700080"/><stop offset="20.05%" stop-color="#700080"/><stop offset="20.35%" stop-color="#7a008b"/><stop offset="22.48%" stop-color="#870098"/><stop offset="22.79%" stop-color="#4300a2"/><stop offset="22.94%" stop-color="#1800a7"/><stop offset="23.09%" stop-color="#0300aa"/><stop offset="24.92%" stop-color="#00d"/><stop offset="25.23%" stop-color="#0013dd"/><stop offset="25.53%" stop-color="#001cdd"/><stop offset="25.99%" stop-color="#002fdd"/><stop offset="26.45%" stop-color="#0041dd"/><stop offset="26.6%" stop-color="#004bdd"/><stop offset="26.91%" stop-color="#0054dd"/><stop offset="27.36%" stop-color="#0067dd"/><stop offset="27.82%" stop-color="#0078dd"/><stop offset="31.63%" stop-color="#009adb"/><stop offset="34.22%" stop-color="#009ecf"/><stop offset="36.36%" stop-color="#00a2c3"/><stop offset="37.73%" stop-color="#00a4bb"/><stop offset="40.93%" stop-color="#00aaa8"/><stop offset="46.72%" stop-color="#00aaa0"/><stop offset="49.16%" stop-color="#00aa95"/><stop offset="50.99%" stop-color="#00aa90"/><stop offset="52.36%" stop-color="#00aa8d"/><stop offset="54.5%" stop-color="#00aa95"/><stop offset="56.48%" stop-color="#00aaa8"/><stop offset="58.61%" stop-color="#00a0c7"/><stop offset="59.83%" stop-color="#0095dd"/><stop offset="61.51%" stop-color="#0078dd"/><stop offset="61.81%" stop-color="#0067dd"/><stop offset="61.97%" stop-color="#0067dd"/><stop offset="62.27%" stop-color="#0054dd"/><stop offset="62.58%" stop-color="#004bdd"/><stop offset="62.73%" stop-color="#0041dd"/><stop offset="63.03%" stop-color="#0038dd"/><stop offset="63.49%" stop-color="#0025dd"/><stop offset="63.95%" stop-color="#0013dd"/><stop offset="64.1%" stop-color="#0009dd"/><stop offset="64.71%" stop-color="#0000d9"/><stop offset="69.44%" stop-color="#0300aa"/><stop offset="69.59%" stop-color="#0d00a8"/><stop offset="69.89%" stop-color="#0d00a8"/><stop offset="70.05%" stop-color="#1800a7"/><stop offset="70.35%" stop-color="#1800a7"/><stop offset="70.5%" stop-color="#2300a6"/><stop offset="70.96%" stop-color="#2300a6"/><stop offset="71.11%" stop-color="#2d00a4"/><stop offset="71.42%" stop-color="#2d00a4"/><stop offset="71.57%" stop-color="#3800a3"/><stop offset="72.03%" stop-color="#3800a3"/><stop offset="72.18%" stop-color="#4300a2"/><stop offset="72.64%" stop-color="#4300a2"/><stop offset="72.79%" stop-color="#4d00a0"/><stop offset="73.09%" stop-color="#4d00a0"/><stop offset="73.25%" stop-color="#58009f"/><stop offset="73.7%" stop-color="#58009f"/><stop offset="73.86%" stop-color="#63009e"/><stop offset="74.31%" stop-color="#63009e"/><stop offset="74.47%" stop-color="#009cd3"/><stop offset="75.08%" stop-color="#009cd3"/><stop offset="75.23%" stop-color="#00d"/><stop offset="75.99%" stop-color="#00d"/><stop offset="76.14%" stop-color="#009cd3"/><stop offset="76.45%" stop-color="#009cd3"/><stop offset="76.6%" stop-color="#0098dd"/><stop offset="77.97%" stop-color="#009cd3"/><stop offset="78.12%" stop-color="#00a7b3"/><stop offset="78.73%" stop-color="#00a6b7"/><stop offset="78.89%" stop-color="#009cd3"/><stop offset="79.5%" stop-color="#009bd7"/><stop offset="79.65%" stop-color="#00d"/><stop offset="79.8%" stop-color="#00d"/><stop offset="79.95%" stop-color="#009bd7"/><stop offset="80.72%" stop-color="#009cd3"/><stop offset="80.87%" stop-color="#00d"/><stop offset="81.48%" stop-color="#00d"/><stop offset="81.63%" stop-color="#009ecf"/><stop offset="82.09%" stop-color="#009ecf"/><stop offset="82.24%" stop-color="#00d"/><stop offset="82.55%" stop-color="#00d"/><stop offset="82.7%" stop-color="#850096"/><stop offset="88.19%" stop-color="#708"/><stop offset="88.49%" stop-color="#700080"/><stop offset="88.8%" stop-color="#700080"/><stop offset="88.95%" stop-color="#670075"/><stop offset="89.41%" stop-color="#670075"/><stop offset="89.56%" stop-color="#5d006b"/><stop offset="90.02%" stop-color="#5d006b"/><stop offset="90.17%" stop-color="#540060"/><stop offset="90.62%" stop-color="#540060"/><stop offset="90.78%" stop-color="#4b0055"/><stop offset="91.39%" stop-color="#4b0055"/><stop offset="91.54%" stop-color="#41004b"/><stop offset="92%" stop-color="#41004b"/><stop offset="92.15%" stop-color="#380040"/><stop offset="92.76%" stop-color="#380040"/><stop offset="92.91%" stop-color="#2f0035"/><stop offset="93.52%" stop-color="#2f0035"/><stop offset="93.67%" stop-color="#25002b"/><stop offset="94.28%" stop-color="#25002b"/><stop offset="94.44%" stop-color="#1c0020"/><stop offset="95.05%" stop-color="#1c0020"/><stop offset="95.2%" stop-color="#130015"/><stop offset="95.81%" stop-color="#130015"/><stop offset="95.96%" stop-color="#09000b"/><stop offset="96.57%" stop-color="#09000b"/><stop offset="96.72%" stop-color="#000"/><stop offset="99.92%" stop-color="#000"/></linearGradient>
<linearGradient id="gY9"><stop offset="0.08%" stop-color="#25002b"/><stop offset="17%" stop-color="#25002b"/><stop offset="17.15%" stop-color="#2f0035"/><stop offset="17.61%" stop-color="#2f0035"/><stop offset="17.76%" stop-color="#380040"/><stop offset="18.22%" stop-color="#380040"/><stop offset="18.37%" stop-color="#41004b"/><stop offset="18.52%" stop-color="#41004b"/><stop offset="18.67%" stop-color="#4b0055"/><stop offset="18.83%" stop-color="#4b0055"/><stop offset="18.98%" stop-color="#540060"/><stop offset="19.13%" stop-color="#540060"/><stop offset="19.28%" stop-color="#5d006b"/><stop offset="19.44%" stop-color="#5d006b"/><stop offset="19.59%" stop-color="#670075"/><stop offset="19.74%" stop-color="#670075"/><stop offset="19.89%" stop-color="#700080"/><stop offset="20.05%" stop-color="#700080"/><stop offset="20.35%" stop-color="#7a008b"/><stop offset="22.48%" stop-color="#870098"/><stop offset="22.79%" stop-color="#4300a2"/><stop offset="22.94%" stop-color="#1800a7"/><stop offset="23.09%" stop-color="#0300aa"/><stop offset="24.77%" stop-color="#00d"/><stop offset="25.08%" stop-color="#0013dd"/><stop offset="25.38%" stop-color="#001cdd"/><stop offset="25.69%" stop-color="#002fdd"/><stop offset="25.99%" stop-color="#0038dd"/><stop offset="26.3%" stop-color="#004bdd"/><stop offset="26.6%" stop-color="#0054dd"/><stop offset="27.06%" stop-color="#0067dd"/><stop offset="27.36%" stop-color="#0078dd"/><stop offset="31.17%" stop-color="#009adb"/><stop offset="33%" stop-color="#009ecf"/><stop offset="34.98%" stop-color="#00a0c7"/><stop offset="37.73%" stop-color="#00a6b7"/><stop offset="40.32%" stop-color="#00aaa8"/><stop offset="46.27%" stop-color="#00aaa0"/><stop offset="49.16%" stop-color="#00aa93"/><stop offset="52.21%" stop-color="#0a8"/><stop offset="56.02%" stop-color="#00aa98"/><stop offset="57.55%" stop-color="#00aaa3"/><stop offset="58.77%" stop-color="#00a8af"/><stop offset="61.2%" stop-color="#0098dd"/><stop offset="63.03%" stop-color="#0078dd"/><stop offset="63.49%" stop-color="#005ddd"/><stop offset="63.8%" stop-color="#0054dd"/><stop offset="64.25%" stop-color="#0038dd"/><stop offset="64.56%" stop-color="#002fdd"/><stop offset="64.86%" stop-color="#001cdd"/><stop offset="65.17%" stop-color="#0013dd"/><stop offset="65.47%" stop-color="#00d"/><stop offset="69.89%" stop-color="#0300aa"/><stop offset="70.05%" stop-color="#0d00a8"/><stop offset="70.2%" stop-color="#0d00a8"/><stop offset="70.35%" stop-color="#1800a7"/><stop offset="70.66%" stop-color="#1800a7"/><stop offset="70.81%" stop-color="#2300a6"/><stop offset="71.11%" stop-color="#2300a6"/><stop offset="71.27%" stop-color="#2d00a4"/><stop offset="71.57%" stop-color="#2d00a4"/><stop offset="71.72%" stop-color="#3800a3"/><stop offset="72.03%" stop-color="#3800a3"/><stop offset="72.18%" stop-color="#4300a2"/><stop offset="72.64%" stop-color="#4300a2"/><stop offset="72.79%" stop-color="#4d00a0"/><stop offset="73.09%" stop-color="#4d00a0"/><stop offset="73.25%" stop-color="#58009f"/><stop offset="73.7%" stop-color="#58009f"/><stop offset="73.86%" stop-color="#63009e"/><stop offset="74.31%" stop-color="#63009e"/><stop offset="74.47%" stop-color="#009cd3"/><stop offset="75.08%" stop-color="#009cd3"/><stop offset="75.23%" stop-color="#00d"/><stop offset="75.99%" stop-color="#00d"/><stop offset="76.14%" stop-color="#009cd3"/><stop offset="76.45%" stop-color="#009cd3"/><stop offset="76.6%" stop-color="#0098dd"/><stop offset="77.97%" stop-color="#009cd3"/><stop offset="78.12%" stop-color="#00a7b3"/><stop offset="78.73%" stop-color="#00a6b7"/><stop offset="78.89%" stop-color="#009cd3"/><stop offset="79.5%" stop-color="#009bd7"/><stop offset="79.65%" stop-color="#00d"/><stop offset="79.8%" stop-color="#00d"/><stop offset="79.95%" stop-color="#009bd7"/><stop offset="80.72%" stop-color="#009cd3"/><stop offset="80.87%" stop-color="#00d"/><stop offset="81.48%" stop-color="#00d"/><stop offset="81.63%" stop-color="#009ecf"/><stop offset="82.09%" stop-color="#009ecf"/><stop offset="82.24%" stop-color="#00d"/><stop offset="82.55%" stop-color="#00d"/><stop offset="82.7%" stop-color="#850096"/><stop offset="88.19%" stop-color="#708"/><stop offset="88.49%" stop-color="#700080"/><stop offset="88.8%" stop-color="#700080"/><stop offset="88.95%" stop-color="#670075"/><stop offset="89.41%" stop-color="#670075"/><stop offset="89.56%" stop-color="#5d006b"/><stop offset="90.02%" stop-color="#5d006b"/><stop offset="90.17%" stop-color="#540060"/><stop offset="90.62%" stop-color="#540060"/><stop offset="90.78%" stop-color="#4b0055"/><stop offset="91.39%" stop-color="#4b0055"/><stop offset="91.54%" stop-color="#41004b"/><stop offset="92%" stop-color="#41004b"/><stop offset="92.15%" stop-color="#380040"/><stop offset="92.76%" stop-color="#380040"/><stop offset="92.91%" stop-color="#2f0035"/><stop offset="93.52%" stop-color="#2f0035"/><stop offset="93.67%" stop-color="#25002b"/><stop offset="94.28%" stop-color="#25002b"/><stop offset="94.44%" stop-color="#1c0020"/><stop offset="95.05%" stop-color="#1c0020"/><stop offset="95.2%" stop-color="#130015"/><stop offset="95.81%" stop-color="#130015"/><stop offset="95.96%" stop-color="#09000b"/><stop offset="96.57%" stop-color="#09000b"/><stop offset="96.72%" stop-color="#000"/><stop offset="99.92%" stop-color="#000"/></linearGradient>
<linearGradient id="gY10"><stop offset="0.08%" stop-color="#25002b"/><stop offset="17%" stop-color="#25002b"/><stop offset="17.15%" stop-color="#2f0035"/><stop offset="17.61%" stop-color="#2f0035"/><stop offset="17.76%" stop-color="#380040"/><stop offset="18.22%" stop-color="#380040"/><stop offset="18.37%" stop-color="#41004b"/><stop offset="18.52%" stop-color="#41004b"/><stop offset="18.67%" stop-color="#4b0055"/><stop offset="18.83%" stop-color="#4b0055"/><stop offset="18.98%" stop-color="#540060"/><stop offset="19.13%" stop-color="#540060"/><stop offset="19.28%" stop-color="#5d006b"/><stop offset="19.44%" stop-color="#5d006b"/><stop offset="19.59%" stop-color="#670075"/><stop offset="19.74%" stop-color="#670075"/><stop offset="19.89%" stop-color="#700080"/><stop offset="20.05%" stop-color="#700080"/><stop offset="20.35%" stop-color="#7a008b"/><stop offset="22.48%" stop-color="#870098"/><stop offset="22.79%" stop-color="#4300a2"/><stop offset="22.94%" stop-color="#1800a7"/><stop offset="23.09%" stop-color="#0300aa"/><stop offset="25.23%" stop-color="#00d"/><stop offset="25.69%" stop-color="#0013dd"/><stop offset="26.45%" stop-color="#002fdd"/><stop offset="26.75%" stop-color="#0038dd"/><stop offset="27.21%" stop-color="#004bdd"/><stop offset="27.82%" stop-color="#005ddd"/><stop offset="27.97%" stop-color="#0067dd"/><stop offset="28.89%" stop-color="#007add"/><stop offset="32.55%" stop-color="#009adb"/><stop offset="34.83%" stop-color="#009cd3"/><stop offset="36.2%" stop-color="#009fcb"/><stop offset="37.88%" stop-color="#00a2c3"/><stop offset="40.32%" stop-color="#00a7b3"/><stop offset="43.67%" stop-color="#00aaa8"/><stop offset="46.72%" stop-color="#00aaa3"/><stop offset="52.21%" stop-color="#00aa8d"/><stop offset="54.5%" stop-color="#00aa95"/><stop offset="56.48%" stop-color="#00aaa8"/><stop offset="58.61%" stop-color="#00a0c7"/><stop offset="59.83%" stop-color="#0095dd"/><stop offset="61.51%" stop-color="#0078dd"/><stop offset="61.81%" stop-color="#0067dd"/><stop offset="61.97%" stop-color="#0067dd"/><stop offset="62.27%" stop-color="#0054dd"/><stop offset="62.58%" stop-color="#004bdd"/><stop offset="62.73%" stop-color="#0041dd"/><stop offset="63.03%" stop-color="#0038dd"/><stop offset="63.49%" stop-color="#0025dd"/><stop offset="63.95%" stop-color="#0013dd"/><stop offset="64.1%" stop-color="#0009dd"/><stop offset="64.71%" stop-color="#0000d9"/><stop offset="69.44%" stop-color="#0300aa"/><stop offset="69.59%" stop-color="#0d00a8"/><stop offset="69.89%" stop-color="#0d00a8"/><stop offset="70.05%" stop-color="#1800a7"/><stop offset="70.35%" stop-color="#1800a7"/><stop offset="70.5%" stop-color="#2300a6"/><stop offset="70.96%" stop-color="#2300a6"/><stop offset="71.11%" stop-color="#2d00a4"/><stop offset="71.42%" stop-color="#2d00a4"/><stop offset="71.57%" stop-color="#3800a3"/><stop offset="72.03%" stop-color="#3800a3"/><stop offset="72.18%" stop-color="#4300a2"/><stop offset="72.64%" stop-color="#4300a2"/><stop offset="72.79%" stop-color="#4d00a0"/><stop offset="73.09%" stop-color="#4d00a0"/><stop offset="73.25%" stop-color="#58009f"/><stop offset="73.7%" stop-color="#58009f"/><stop offset="73.86%" stop-color="#63009e"/><stop offset="74.31%" stop-color="#63009e"/><stop offset="74.47%" stop-color="#009cd3"/><stop offset="75.08%" stop-color="#009cd3"/><stop offset="75.23%" stop-color="#00d"/><stop offset="75.99%" stop-color="#00d"/><stop offset="76.14%" stop-color="#009cd3"/><stop offset="76.45%" stop-color="#009cd3"/><stop offset="76.6%" stop-color="#0098dd"/><stop offset="77.97%" stop-color="#009cd3"/><stop offset="78.12%" stop-color="#00a7b3"/><stop offset="78.73%" stop-color="#00a6b7"/><stop offset="78.89%" stop-color="#009cd3"/><stop offset="79.5%" stop-color="#009bd7"/><stop offset="79.65%" stop-color="#00d"/><stop offset="79.8%" stop-color="#00d"/><stop offset="79.95%" stop-color="#009bd7"/><stop offset="80.72%" stop-color="#009cd3"/><stop offset="80.87%" stop-color="#00d"/><stop offset="81.48%" stop-color="#00d"/><stop offset="81.63%" stop-color="#009ecf"/><stop offset="82.09%" stop-color="#009ecf"/><stop offset="82.24%" stop-color="#00d"/><stop offset="82.55%" stop-color="#00d"/><stop offset="82.7%" stop-color="#850096"/><stop offset="88.19%" stop-color="#708"/><stop offset="88.49%" stop-color="#700080"/><stop offset="88.8%" stop-color="#700080"/><stop offset="88.95%" stop-color="#670075"/><stop offset="89.41%" stop-color="#670075"/><stop offset="89.56%" stop-color="#5d006b"/><stop offset="90.02%" stop-color="#5d006b"/><stop offset="90.17%" stop-color="#540060"/><stop offset="90.62%" stop-color="#540060"/><stop offset="90.78%" stop-color="#4b0055"/><stop offset="91.39%" stop-color="#4b0055"/><stop offset="91.54%" stop-color="#41004b"/><stop offset="92%" stop-color="#41004b"/><stop offset="92.15%" stop-color="#380040"/><stop offset="92.76%" stop-color="#380040"/><stop offset="92.91%" stop-color="#2f0035"/><stop offset="93.52%" stop-color="#2f0035"/><stop offset="93.67%" stop-color="#25002b"/><stop offset="94.28%" stop-color="#25002b"/><stop offset="94.44%" stop-color="#1c0020"/><stop offset="95.05%" stop-color="#1c0020"/><stop offset="95.2%" stop-color="#130015"/><stop offset="95.81%" stop-color="#130015"/><stop offset="95.96%" stop-color="#09000b"/><stop offset="96.57%" stop-color="#09000b"/><stop offset="96.72%" stop-color="#000"/><stop offset="99.92%" stop-color="#000"/></linearGradient>
<linearGradient id="gY11"><stop offset="0.08%" stop-color="#25002b"/><stop offset="17%" stop-color="#25002b"/><stop offset="17.15%" stop-color="#2f0035"/><stop offset="17.61%" stop-color="#2f0035"/><stop offset="17.76%" stop-color="#380040"/><stop offset="18.22%" stop-color="#380040"/><stop offset="18.37%" stop-color="#41004b"/><stop offset="18.52%" stop-color="#41004b"/><stop offset="18.67%" stop-color="#4b0055"/><stop offset="18.83%" stop-color="#4b0055"/><stop offset="18.98%" stop-color="#540060"/><stop offset="19.13%" stop-color="#540060"/><stop offset="19.28%" stop-color="#5d006b"/><stop offset="19.44%" stop-color="#5d006b"/><stop offset="19.59%" stop-color="#670075"/><stop offset="19.74%" stop-color="#670075"/><stop offset="19.89%" stop-color="#700080"/><stop offset="20.05%" stop-color="#700080"/><stop offset="20.35%" stop-color="#7a008b"/><stop offset="22.48%" stop-color="#870098"/><stop offset="22.79%" stop-color="#4300a2"/><stop offset="22.94%" stop-color="#1800a7"/><stop offset="23.09%" stop-color="#0300aa"/><stop offset="24.47%" stop-color="#00d"/><stop offset="24.77%" stop-color="#0013dd"/><stop offset="25.08%" stop-color="#001cdd"/><stop offset="25.69%" stop-color="#0041dd"/><stop offset="25.84%" stop-color="#0041dd"/><stop offset="26.6%" stop-color="#0070dd"/><stop offset="29.8%" stop-color="#0098dd"/><stop offset="32.09%" stop-color="#009ecf"/><stop offset="33.77%" stop-color="#00a0c7"/><stop offset="35.14%" stop-color="#00a3bf"/><stop offset="37.88%" stop-color="#00aaab"/><stop offset="42.45%" stop-color="#00aa9d"/><stop offset="47.03%" stop-color="#00aa93"/><stop offset="49.77%" stop-color="#00aa8b"/><stop offset="50.38%" stop-color="#0a8"/><stop offset="50.53%" stop-color="#00a97d"/><stop offset="50.69%" stop-color="#00a97d"/><stop offset="50.84%" stop-color="#00a773"/><stop offset="50.99%" stop-color="#00a773"/><stop offset="51.14%" stop-color="#00a668"/><stop offset="51.6%" stop-color="#00a668"/><stop offset="51.75%" stop-color="#00a55d"/><stop offset="52.06%" stop-color="#00a55d"/><stop offset="52.21%" stop-color="#00a668"/><stop offset="52.52%" stop-color="#00a668"/><stop offset="52.67%" stop-color="#00a773"/><stop offset="54.04%" stop-color="#00a773"/><stop offset="54.19%" stop-color="#00a97d"/><stop offset="54.5%" stop-color="#00a97d"/><stop offset="54.65%" stop-color="#0a8"/><stop offset="56.48%" stop-color="#00aa98"/><stop offset="58.46%" stop-color="#00aaa8"/><stop offset="61.2%" stop-color="#0098dd"/><stop offset="63.03%" stop-color="#0078dd"/><stop offset="63.49%" stop-color="#005ddd"/><stop offset="63.8%" stop-color="#0054dd"/><stop offset="64.25%" stop-color="#0038dd"/><stop offset="64.56%" stop-color="#002fdd"/><stop offset="64.86%" stop-color="#001cdd"/><stop offset="65.17%" stop-color="#0013dd"/><stop offset="65.47%" stop-color="#00d"/><stop offset="69.89%" stop-color="#0300aa"/><stop offset="70.05%" stop-color="#0d00a8"/><stop offset="70.2%" stop-color="#0d00a8"/><stop offset="70.35%" stop-color="#1800a7"/><stop offset="70.66%" stop-color="#1800a7"/><stop offset="70.81%" stop-color="#2300a6"/><stop offset="71.11%" stop-color="#2300a6"/><stop offset="71.27%" stop-color="#2d00a4"/><stop offset="71.57%" stop-color="#2d00a4"/><stop offset="71.72%" stop-color="#3800a3"/><stop offset="72.03%" stop-color="#3800a3"/><stop offset="72.18%" stop-color="#4300a2"/><stop offset="72.64%" stop-color="#4300a2"/><stop offset="72.79%" stop-color="#4d00a0"/><stop offset="73.09%" stop-color="#4d00a0"/><stop offset="73.25%" stop-color="#58009f"/><stop offset="73.7%" stop-color="#58009f"/><stop offset="73.86%" stop-color="#63009e"/><stop offset="74.31%" stop-color="#63009e"/><stop offset="74.47%" stop-color="#009cd3"/><stop offset="75.08%" stop-color="#009cd3"/><stop offset="75.23%" stop-color="#00d"/><stop offset="75.99%" stop-color="#00d"/><stop offset="76.14%" stop-color="#009cd3"/><stop offset="76.45%" stop-color="#009cd3"/><stop offset="76.6%" stop-color="#0098dd"/><stop offset="77.97%" stop-color="#009cd3"/><stop offset="78.12%" stop-color="#00a7b3"/><stop offset="78.73%" stop-color="#00a6b7"/><stop offset="78.89%" stop-color="#009cd3"/><stop offset="79.5%" stop-color="#009bd7"/><stop offset="79.65%" stop-color="#00d"/><stop offset="79.8%" stop-color="#00d"/><stop offset="79.95%" stop-color="#009bd7"/><stop offset="80.72%" stop-color="#009cd3"/><stop offset="80.87%" stop-color="#00d"/><stop offset="81.48%" stop-color="#00d"/><stop offset="81.63%" stop-color="#009ecf"/><stop offset="82.09%" stop-color="#009ecf"/><stop offset="82.24%" stop-color="#00d"/><stop offset="82.55%" stop-color="#00d"/><stop offset="82.7%" stop-color="#850096"/><stop offset="88.19%" stop-color="#708"/><stop offset="88.49%" stop-color="#700080"/><stop offset="88.8%" stop-color="#700080"/><stop offset="88.95%" stop-color="#670075"/><stop offset="89.41%" stop-color="#670075"/><stop offset="89.56%" stop-color="#5d006b"/><stop offset="90.02%" stop-color="#5d006b"/><stop offset="90.17%" stop-color="#540060"/><stop offset="90.62%" stop-color="#540060"/><stop offset="90.78%" stop-color="#4b0055"/><stop offset="91.39%" stop-color="#4b0055"/><stop offset="91.54%" stop-color="#41004b"/><stop offset="92%" stop-color="#41004b"/><stop offset="92.15%" stop-color="#380040"/><stop offset="92.76%" stop-color="#380040"/><stop offset="92.91%" stop-color="#2f0035"/><stop offset="93.52%" stop-color="#2f0035"/><stop offset="93.67%" stop-color="#25002b"/><stop offset="94.28%" stop-color="#25002b"/><stop offset="94.44%" stop-color="#1c0020"/><stop offset="95.05%" stop-color="#1c0020"/><stop offset="95.2%" stop-color="#130015"/><stop offset="95.81%" stop-color="#130015"/><stop offset="95.96%" stop-color="#09000b"/><stop offset="96.57%" stop-color="#09000b"/><stop offset="96.72%" stop-color="#000"/><stop offset="99.92%" stop-color="#000"/></linearGradient>
<linearGradient id="gY12"><stop offset="0.08%" stop-color="#25002b"/><stop offset="17%" stop-color="#25002b"/><stop offset="17.15%" stop-color="#2f0035"/><stop offset="17.61%" stop-color="#2f0035"/><stop offset="17.76%" stop-color="#380040"/><stop offset="18.22%" stop-color="#380040"/><stop offset="18.37%" stop-color="#41004b"/><stop offset="18.52%" stop-color="#41004b"/><stop offset="18.67%" stop-color="#4b0055"/><stop offset="18.83%" stop-color="#4b0055"/><stop offset="18.98%" stop-color="#540060"/><stop offset="19.13%" stop-color="#540060"/><stop offset="19.28%" stop-color="#5d006b"/><stop offset="19.44%" stop-color="#5d006b"/><stop offset="19.59%" stop-color="#670075"/><stop offset="19.74%" stop-color="#670075"/><stop offset="19.89%" stop-color="#700080"/><stop offset="20.05%" stop-color="#700080"/><stop offset="20.35%" stop-color="#7a008b"/><stop offset="22.48%" stop-color="#870098"/><stop offset="22.79%" stop-color="#4300a2"/><stop offset="22.94%" stop-color="#1800a7"/><stop offset="23.09%" stop-color="#0000ad"/><stop offset="24.16%" stop-color="#00d"/><stop offset="26.14%" stop-color="#0078dd"/><stop offset="29.34%" stop-color="#009adb"/><stop offset="32.39%" stop-color="#00a2c3"/><stop offset="34.98%" stop-color="#00a6b7"/><stop offset="37.58%" stop-color="#00aaa8"/><stop offset="45.2%" stop-color="#00aa9b"/><stop offset="49.77%" stop-color="#00aa90"/><stop offset="51.14%" stop-color="#0a8"/><stop offset="51.3%" stop-color="#00a97d"/><stop offset="52.21%" stop-color="#00a97d"/><stop offset="52.36%" stop-color="#0a8"/><stop offset="54.5%" stop-color="#00aa8d"/><stop offset="56.48%" stop-color="#00aaa0"/><stop offset="58.31%" stop-color="#00a7b3"/><stop offset="60.44%" stop-color="#0098dd"/><stop offset="62.27%" stop-color="#0078dd"/><stop offset="62.58%" stop-color="#0067dd"/><stop offset="62.73%" stop-color="#0067dd"/><stop offset="63.19%" stop-color="#004bdd"/><stop offset="63.34%" stop-color="#004bdd"/><stop offset="63.8%" stop-color="#002fdd"/><stop offset="63.95%" stop-color="#002fdd"/><stop offset="64.25%" stop-color="#001cdd"/><stop offset="64.56%" stop-color="#0013dd"/><stop offset="64.86%" stop-color="#00d"/><stop offset="69.74%" stop-color="#0300aa"/><stop offset="69.89%" stop-color="#0d00a8"/><stop offset="70.05%" stop-color="#0d00a8"/><stop offset="70.2%" stop-color="#1800a7"/><stop offset="70.5%" stop-color="#1800a7"/><stop offset="70.66%" stop-color="#2300a6"/><stop offset="70.96%" stop-color="#2300a6"/><stop offset="71.11%" stop-color="#2d00a4"/><stop offset="71.42%" stop-color="#2d00a4"/><stop offset="71.57%" stop-color="#3800a3"/><stop offset="72.03%" stop-color="#3800a3"/><stop offset="72.18%" stop-color="#4300a2"/><stop offset="72.64%" stop-color="#4300a2"/><stop offset="72.79%" stop-color="#4d00a0"/><stop offset="73.09%" stop-color="#4d00a0"/><stop offset="73.25%" stop-color="#58009f"/><stop offset="73.7%" stop-color="#58009f"/><stop offset="73.86%" stop-color="#63009e"/><stop offset="74.31%" stop-color="#63009e"/><stop offset="74.47%" stop-color="#009cd3"/><stop offset="75.08%" stop-color="#009cd3"/><stop offset="75.23%" stop-color="#00d"/><stop offset="75.99%" stop-color="#00d"/><stop offset="76.14%" stop-color="#009cd3"/><stop offset="76.45%" stop-color="#009cd3"/><stop offset="76.6%" stop-color="#0098dd"/><stop offset="77.97%" stop-color="#009cd3"/><stop offset="78.12%" stop-color="#00a7b3"/><stop offset="78.73%" stop-color="#00a6b7"/><stop offset="78.89%" stop-color="#009cd3"/><stop offset="79.5%" stop-color="#009bd7"/><stop offset="79.65%" stop-color="#00d"/><stop offset="79.8%" stop-color="#00d"/><stop offset="79.95%" stop-color="#009bd7"/><stop offset="80.72%" stop-color="#009cd3"/><stop offset="80.87%" stop-color="#00d"/><stop offset="81.48%" stop-color="#00d"/><stop offset="81.63%" stop-color="#009ecf"/><stop offset="82.09%" stop-color="#009ecf"/><stop offset="82.24%" stop-color="#00d"/><stop offset="82.55%" stop-color="#00d"/><stop offset="82.7%" stop-color="#850096"/><stop offset="88.19%" stop-color="#708"/><stop offset="88.49%" stop-color="#700080"/><stop offset="88.8%" stop-color="#700080"/><stop offset="88.95%" stop-color="#670075"/><stop offset="89.41%" stop-color="#670075"/><stop offset="89.56%" stop-color="#5d006b"/><stop offset="90.02%" stop-color="#5d006b"/><stop offset="90.17%" stop-color="#540060"/><stop offset="90.62%" stop-color="#540060"/><stop offset="90.78%" stop-color="#4b0055"/><stop offset="91.39%" stop-color="#4b0055"/><stop offset="91.54%" stop-color="#41004b"/><stop offset="92%" stop-color="#41004b"/><stop offset="92.15%" stop-color="#380040"/><stop offset="92.76%" stop-color="#380040"/><stop offset="92.91%" stop-color="#2f0035"/><stop offset="93.52%" stop-color="#2f0035"/><stop offset="93.67%" stop-color="#25002b"/><stop offset="94.28%" stop-color="#25002b"/><stop offset="94.44%" stop-color="#1c0020"/><stop offset="95.05%" stop-color="#1c0020"/><stop offset="95.2%" stop-color="#130015"/><stop offset="95.81%" stop-color="#130015"/><stop offset="95.96%" stop-color="#09000b"/><stop offset="96.57%" stop-color="#09000b"/><stop offset="96.72%" stop-color="#000"/><stop offset="99.92%" stop-color="#000"/></linearGradient>
<linearGradient id="gY13"><stop offset="0.08%" stop-color="#25002b"/><stop offset="17%" stop-color="#25002b"/><stop offset="17.15%" stop-color="#2f0035"/><stop offset="17.61%" stop-color="#2f0035"/><stop offset="17.76%" stop-color="#380040"/><stop offset="18.22%" stop-color="#380040"/><stop offset="18.37%" stop-color="#41004b"/><stop offset="18.52%" stop-color="#41004b"/><stop offset="18.67%" stop-color="#4b0055"/><stop offset="18.83%" stop-color="#4b0055"/><stop offset="18.98%" stop-color="#540060"/><stop offset="19.13%" stop-color="#540060"/><stop offset="19.28%" stop-color="#5d006b"/><stop offset="19.44%" stop-color="#5d006b"/><stop offset="19.59%" stop-color="#670075"/><stop offset="19.74%" stop-color="#670075"/><stop offset="19.89%" stop-color="#700080"/><stop offset="20.05%" stop-color="#700080"/><stop offset="20.35%" stop-color="#7a008b"/><stop offset="22.48%" stop-color="#870098"/><stop offset="22.79%" stop-color="#4300a2"/><stop offset="22.94%" stop-color="#1800a7"/><stop offset="23.09%" stop-color="#0300aa"/><stop offset="24.47%" stop-color="#00d"/><stop offset="24.77%" stop-color="#0013dd"/><stop offset="25.08%" stop-color="#001cdd"/><stop offset="25.69%" stop-color="#0041dd"/><stop offset="25.84%" stop-color="#0041dd"/><stop offset="26.6%" stop-color="#0070dd"/><stop offset="29.8%" stop-color="#0098dd"/><stop offset="32.09%" stop-color="#009ecf"/><stop offset="33.77%" stop-color="#00a0c7"/><stop offset="35.14%" stop-color="#00a3bf"/><stop offset="37.88%" stop-color="#00a8af"/><stop offset="41.54%" stop-color="#00aaa3"/><stop offset="46.72%" stop-color="#00aa9b"/><stop offset="49.77%" stop-color="#00aa93"/><stop offset="52.21%" stop-color="#0a8"/><stop offset="54.5%" stop-color="#00aa93"/><stop offset="56.33%" stop-color="#00aaa5"/><stop offset="58.61%" stop-color="#00a0c7"/><stop offset="59.83%" stop-color="#0095dd"/><stop offset="61.51%" stop-color="#0078dd"/><stop offset="61.81%" stop-color="#0067dd"/><stop offset="61.97%" stop-color="#0067dd"/><stop offset="62.27%" stop-color="#0054dd"/><stop offset="62.58%" stop-color="#004bdd"/><stop offset="62.73%" stop-color="#0041dd"/><stop offset="63.03%" stop-color="#0038dd"/><stop offset="63.49%" stop-color="#0025dd"/><stop offset="63.95%" stop-color="#0013dd"/><stop offset="64.1%" stop-color="#0009dd"/><stop offset="64.71%" stop-color="#0000d9"/><stop offset="69.44%" stop-color="#0300aa"/><stop offset="69.59%" stop-color="#0d00a8"/><stop offset="69.89%" stop-color="#0d00a8"/><stop offset="70.05%" stop-color="#1800a7"/><stop offset="70.35%" stop-color="#1800a7"/><stop offset="70.5%" stop-color="#2300a6"/><stop offset="70.96%" stop-color="#2300a6"/><stop offset="71.11%" stop-color="#2d00a4"/><stop offset="71.42%" stop-color="#2d00a4"/><stop offset="71.57%" stop-color="#3800a3"/><stop offset="72.03%" stop-color="#3800a3"/><stop offset="72.18%" stop-color="#4300a2"/><stop offset="72.64%" stop-color="#4300a2"/><stop offset="72.79%" stop-color="#4d00a0"/><stop offset="73.09%" stop-color="#4d00a0"/><stop offset="73.25%" stop-color="#58009f"/><stop offset="73.7%" stop-color="#58009f"/><stop offset="73.86%" stop-color="#63009e"/><stop offset="74.31%" stop-color="#63009e"/><stop offset="74.47%" stop-color="#009cd3"/><stop offset="75.08%" stop-color="#009cd3"/><stop offset="75.23%" stop-color="#00d"/><stop offset="75.99%" stop-color="#00d"/><stop offset="76.14%" stop-color="#009cd3"/><stop offset="76.45%" stop-color="#009cd3"/><stop offset="76.6%" stop-color="#0098dd"/><stop offset="77.97%" stop-color="#009cd3"/><stop offset="78.12%" stop-color="#00a7b3"/><stop offset="78.73%" stop-color="#00a6b7"/><stop offset="78.89%" stop-color="#009cd3"/><stop offset="79.5%" stop-color="#009bd7"/><stop offset="79.65%" stop-color="#00d"/><stop offset="79.8%" stop-color="#00d"/><stop offset="79.95%" stop-color="#009bd7"/><stop offset="80.72%" stop-color="#009cd3"/><stop offset="80.87%" stop-color="#00d"/><stop offset="81.48%" stop-color="#00d"/><stop offset="81.63%" stop-color="#009ecf"/><stop offset="82.09%" stop-color="#009ecf"/><stop offset="82.24%" stop-color="#00d"/><stop offset="82.55%" stop-color="#00d"/><stop offset="82.7%" stop-color="#850096"/><stop offset="88.19%" stop-color="#708"/><stop offset="88.49%" stop-color="#700080"/><stop offset="88.8%" stop-color="#700080"/><stop offset="88.95%" stop-color="#670075"/><stop offset="89.41%" stop-color="#670075"/><stop offset="89.56%" stop-color="#5d006b"/><stop offset="90.02%" stop-color="#5d006b"/><stop offset="90.17%" stop-color="#540060"/><stop offset="90.62%" stop-color="#540060"/><stop offset="90.78%" stop-color="#4b0055"/><stop offset="91.39%" stop-color="#4b0055"/><stop offset="91.54%" stop-color="#41004b"/><stop offset="92%" stop-color="#41004b"/><stop offset="92.15%" stop-color="#380040"/><stop offset="92.76%" stop-color="#380040"/><stop offset="92.91%" stop-color="#2f0035"/><stop offset="93.52%" stop-color="#2f0035"/><stop offset="93.67%" stop-color="#25002b"/><stop offset="94.28%" stop-color="#25002b"/><stop offset="94.44%" stop-color="#1c0020"/><stop offset="95.05%" stop-color="#1c0020"/><stop offset="95.2%" stop-color="#130015"/><stop offset="95.81%" stop-color="#130015"/><stop offset="95.96%" stop-color="#09000b"/><stop offset="96.57%" stop-color="#09000b"/><stop offset="96.72%" stop-color="#000"/><stop offset="99.92%" stop-color="#000"/></linearGradient>
<linearGradient id="gY14"><stop offset="0.08%" stop-color="#25002b"/><stop offset="17%" stop-color="#25002b"/><stop offset="17.15%" stop-color="#2f0035"/><stop offset="17.61%" stop-color="#2f0035"/><stop offset="17.76%" stop-color="#380040"/><stop offset="18.22%" stop-color="#380040"/><stop offset="18.37%" stop-color="#41004b"/><stop offset="18.52%" stop-color="#41004b"/><stop offset="18.67%" stop-color="#4b0055"/><stop offset="18.83%" stop-color="#4b0055"/><stop offset="18.98%" stop-color="#540060"/><stop offset="19.13%" stop-color="#540060"/><stop offset="19.28%" stop-color="#5d006b"/><stop offset="19.44%" stop-color="#5d006b"/><stop offset="19.59%" stop-color="#670075"/><stop offset="19.74%" stop-color="#670075"/><stop offset="19.89%" stop-color="#700080"/><stop offset="20.05%" stop-color="#700080"/><stop offset="20.35%" stop-color="#7a008b"/><stop offset="22.48%" stop-color="#870098"/><stop offset="22.79%" stop-color="#4300a2"/><stop offset="22.94%" stop-color="#1800a7"/><stop offset="23.09%" stop-color="#0300aa"/><stop offset="24.47%" stop-color="#00d"/><stop offset="24.77%" stop-color="#0013dd"/><stop offset="25.08%" stop-color="#001cdd"/><stop offset="25.69%" stop-color="#0041dd"/><stop offset="25.84%" stop-color="#0041dd"/><stop offset="26.6%" stop-color="#0070dd"/><stop offset="29.8%" stop-color="#0098dd"/><stop offset="32.09%" stop-color="#009ecf"/><stop offset="33.77%" stop-color="#00a0c7"/><stop offset="35.14%" stop-color="#00a3bf"/><stop offset="37.88%" stop-color="#00a8af"/><stop offset="41.54%" stop-color="#00aaa3"/><stop offset="46.72%" stop-color="#00aa9b"/><stop offset="49.77%" stop-color="#00aa93"/><stop offset="52.21%" stop-color="#0a8"/><stop offset="54.5%" stop-color="#00aa93"/><stop offset="56.33%" stop-color="#00aaa5"/><stop offset="58.61%" stop-color="#00a0c7"/><stop offset="59.83%" stop-color="#0095dd"/><stop offset="61.51%" stop-color="#0078dd"/><stop offset="61.81%" stop-color="#0067dd"/><stop offset="61.97%" stop-color="#0067dd"/><stop offset="62.27%" stop-color="#0054dd"/><stop offset="62.58%" stop-color="#004bdd"/><stop offset="62.73%" stop-color="#0041dd"/><stop offset="63.03%" stop-color="#0038dd"/><stop offset="63.49%" stop-color="#0025dd"/><stop offset="63.95%" stop-color="#0013dd"/><stop offset="64.1%" stop-color="#0009dd"/><stop offset="64.71%" stop-color="#0000d9"/><stop offset="69.44%" stop-color="#0300aa"/><stop offset="69.59%" stop-color="#0d00a8"/><stop offset="69.89%" stop-color="#0d00a8"/><stop offset="70.05%" stop-color="#1800a7"/><stop offset="70.35%" stop-color="#1800a7"/><stop offset="70.5%" stop-color="#2300a6"/><stop offset="70.96%" stop-color="#2300a6"/><stop offset="71.11%" stop-color="#2d00a4"/><stop offset="71.42%" stop-color="#2d00a4"/><stop offset="71.57%" stop-color="#3800a3"/><stop offset="72.03%" stop-color="#3800a3"/><stop offset="72.18%" stop-color="#4300a2"/><stop offset="72.64%" stop-color="#4300a2"/><stop offset="72.79%" stop-color="#4d00a0"/><stop offset="73.09%" stop-color="#4d00a0"/><stop offset="73.25%" stop-color="#58009f"/><stop offset="73.7%" stop-color="#58009f"/><stop offset="73.86%" stop-color="#63009e"/><stop offset="74.31%" stop-color="#63009e"/><stop offset="74.47%" stop-color="#009cd3"/><stop offset="75.08%" stop-color="#009cd3"/><stop offset="75.23%" stop-color="#00d"/><stop offset="75.99%" stop-color="#00d"/><stop offset="76.14%" stop-color="#009cd3"/><stop offset="76.45%" stop-color="#009cd3"/><stop offset="76.6%" stop-color="#0098dd"/><stop offset="77.97%" stop-color="#009cd3"/><stop offset="78.12%" stop-color="#00a7b3"/><stop offset="78.73%" stop-color="#00a6b7"/><stop offset="78.89%" stop-color="#009cd3"/><stop offset="79.5%" stop-color="#009bd7"/><stop offset="79.65%" stop-color="#00d"/><stop offset="79.8%" stop-color="#00d"/><stop offset="79.95%" stop-color="#009bd7"/><stop offset="80.72%" stop-color="#009cd3"/><stop offset="80.87%" stop-color="#00d"/><stop offset="81.48%" stop-color="#00d"/><stop offset="81.63%" stop-color="#009ecf"/><stop offset="82.09%" stop-color="#009ecf"/><stop offset="82.24%" stop-color="#00d"/><stop offset="82.55%" stop-color="#00d"/><stop offset="82.7%" stop-color="#850096"/><stop offset="88.19%" stop-color="#708"/><stop offset="88.49%" stop-color="#700080"/><stop offset="88.8%" stop-color="#700080"/><stop offset="88.95%" stop-color="#670075"/><stop offset="89.41%" stop-color="#670075"/><stop offset="89.56%" stop-color="#5d006b"/><stop offset="90.02%" stop-color="#5d006b"/><stop offset="90.17%" stop-color="#540060"/><stop offset="90.62%" stop-color="#540060"/><stop offset="90.78%" stop-color="#4b0055"/><stop offset="91.39%" stop-color="#4b0055"/><stop offset="91.54%" stop-color="#41004b"/><stop offset="92%" stop-color="#41004b"/><stop offset="92.15%" stop-color="#380040"/><stop offset="92.76%" stop-color="#380040"/><stop offset="92.91%" stop-color="#2f0035"/><stop offset="93.52%" stop-color="#2f0035"/><stop offset="93.67%" stop-color="#25002b"/><stop offset="94.28%" stop-color="#25002b"/><stop offset="94.44%" stop-color="#1c0020"/><stop offset="95.05%" stop-color="#1c0020"/><stop offset="95.2%" stop-color="#130015"/><stop offset="95.81%" stop-color="#130015"/><stop offset="95.96%" stop-color="#09000b"/><stop offset="96.57%" stop-color="#09000b"/><stop offset="96.72%" stop-color="#000"/><stop offset="99.92%" stop-color="#000"/></linearGradient>
<linearGradient id="gY15"><stop offset="0.08%" stop-color="#25002b"/><stop offset="17%" stop-color="#25002b"/><stop offset="17.15%" stop-color="#2f0035"/><stop offset="17.61%" stop-color="#2f0035"/><stop offset="17.76%" stop-color="#380040"/><stop offset="18.22%" stop-color="#380040"/><stop offset="18.37%" stop-color="#41004b"/><stop offset="18.52%" stop-color="#41004b"/><stop offset="18.67%" stop-color="#4b0055"/><stop offset="18.83%" stop-color="#4b0055"/><stop offset="18.98%" stop-color="#540060"/><stop offset="19.13%" stop-color="#540060"/><stop offset="19.28%" stop-color="#5d006b"/><stop offset="19.44%" stop-color="#5d006b"/><stop offset="19.59%" stop-color="#670075"/><stop offset="19.74%" stop-color="#670075"/><stop offset="19.89%" stop-color="#700080"/><stop offset="20.05%" stop-color="#700080"/><stop offset="20.35%" stop-color="#7a008b"/><stop offset="22.48%" stop-color="#870098"/><stop offset="22.64%" stop-color="#63009e"/><stop offset="22.79%" stop-color="#83009a"/><stop offset="22.94%" stop-color="#63009e"/><stop offset="23.55%" stop-color="#0d00a8"/><stop offset="23.7%" stop-color="#0000ad"/><stop offset="25.08%" stop-color="#0000d9"/><stop offset="25.38%" stop-color="#00d"/><stop offset="25.84%" stop-color="#0013dd"/><stop offset="26.14%" stop-color="#001cdd"/><stop offset="26.6%" stop-color="#002fdd"/><stop offset="27.06%" stop-color="#0041dd"/><stop offset="27.21%" stop-color="#004bdd"/><stop offset="27.82%" stop-color="#0054dd"/><stop offset="28.43%" stop-color="#005ddd"/><stop offset="28.58%" stop-color="#005ddd"/><stop offset="28.73%" stop-color="#0067dd"/><stop offset="29.34%" stop-color="#0067dd"/><stop offset="29.65%" stop-color="#0070dd"/><stop offset="29.95%" stop-color="#0070dd"/><stop offset="30.26%" stop-color="#0078dd"/><stop offset="37.58%" stop-color="#0090dd"/><stop offset="45.2%" stop-color="#009bd7"/><stop offset="49.47%" stop-color="#009fcb"/><stop offset="52.21%" stop-color="#00a4bb"/><stop offset="54.04%" stop-color="#009fcb"/><stop offset="55.41%" stop-color="#0095dd"/><stop offset="58%" stop-color="#0078dd"/><stop offset="58.61%" stop-color="#0067dd"/><stop offset="58.77%" stop-color="#005ddd"/><stop offset="59.07%" stop-color="#0054dd"/><stop offset="59.53%" stop-color="#0041dd"/><stop offset="59.98%" stop-color="#0025dd"/><stop offset="60.29%" stop-color="#001cdd"/><stop offset="60.75%" stop-color="#00d"/><stop offset="63.64%" stop-color="#0000ad"/><stop offset="64.1%" stop-color="#0300aa"/><stop offset="64.25%" stop-color="#0d00a8"/><stop offset="64.56%" stop-color="#0d00a8"/><stop offset="64.71%" stop-color="#1800a7"/><stop offset="64.86%" stop-color="#1800a7"/><stop offset="65.02%" stop-color="#2300a6"/><stop offset="65.32%" stop-color="#2300a6"/><stop offset="65.47%" stop-color="#2d00a4"/><stop offset="65.62%" stop-color="#2d00a4"/><stop offset="65.78%" stop-color="#3800a3"/><stop offset="66.23%" stop-color="#3800a3"/><stop offset="66.39%" stop-color="#4300a2"/><stop offset="66.84%" stop-color="#4300a2"/><stop offset="67%" stop-color="#4d00a0"/><stop offset="67.45%" stop-color="#4d00a0"/><stop offset="67.61%" stop-color="#58009f"/><stop offset="68.06%" stop-color="#58009f"/><stop offset="68.22%" stop-color="#63009e"/><stop offset="68.83%" stop-color="#63009e"/><stop offset="68.98%" stop-color="#6d009c"/><stop offset="69.74%" stop-color="#6d009c"/><stop offset="69.89%" stop-color="#78009b"/><stop offset="70.5%" stop-color="#78009b"/><stop offset="70.66%" stop-color="#83009a"/><stop offset="72.94%" stop-color="#860097"/><stop offset="73.09%" stop-color="#58009f"/><stop offset="73.55%" stop-color="#58009f"/><stop offset="73.7%" stop-color="#63009e"/><stop offset="74.31%" stop-color="#63009e"/><stop offset="74.47%" stop-color="#0080dd"/><stop offset="75.08%" stop-color="#0080dd"/><stop offset="75.23%" stop-color="#0000bd"/><stop offset="75.99%" stop-color="#0000bd"/><stop offset="76.14%" stop-color="#0080dd"/><stop offset="76.91%" stop-color="#007add"/><stop offset="77.52%" stop-color="#0080dd"/><stop offset="77.97%" stop-color="#0080dd"/><stop offset="78.12%" stop-color="#0090dd"/><stop offset="78.73%" stop-color="#0090dd"/><stop offset="78.89%" stop-color="#0080dd"/><stop offset="79.5%" stop-color="#0080dd"/><stop offset="79.65%" stop-color="#0000bd"/><stop offset="79.8%" stop-color="#0000bd"/><stop offset="79.95%" stop-color="#0080dd"/><stop offset="80.72%" stop-color="#0080dd"/><stop offset="80.87%" stop-color="#0000bd"/><stop offset="81.48%" stop-color="#0000bd"/><stop offset="81.63%" stop-color="#0080dd"/><stop offset="82.09%" stop-color="#0080dd"/><stop offset="82.24%" stop-color="#0000bd"/><stop offset="82.55%" stop-color="#0000bd"/><stop offset="82.7%" stop-color="#850096"/><stop offset="88.19%" stop-color="#708"/><stop offset="88.49%" stop-color="#700080"/><stop offset="88.8%" stop-color="#700080"/><stop offset="88.95%" stop-color="#670075"/><stop offset="89.41%" stop-color="#670075"/><stop offset="89.56%" stop-color="#5d006b"/><stop offset="90.02%" stop-color="#5d006b"/><stop offset="90.17%" stop-color="#540060"/><stop offset="90.62%" stop-color="#540060"/><stop offset="90.78%" stop-color="#4b0055"/><stop offset="91.39%" stop-color="#4b0055"/><stop offset="91.54%" stop-color="#41004b"/><stop offset="92%" stop-color="#41004b"/><stop offset="92.15%" stop-color="#380040"/><stop offset="92.76%" stop-color="#380040"/><stop offset="92.91%" stop-color="#2f0035"/><stop offset="93.52%" stop-color="#2f0035"/><stop offset="93.67%" stop-color="#25002b"/><stop offset="94.28%" stop-color="#25002b"/><stop offset="94.44%" stop-color="#1c0020"/><stop offset="95.05%" stop-color="#1c0020"/><stop offset="95.2%" stop-color="#130015"/><stop offset="95.81%" stop-color="#130015"/><stop offset="95.96%" stop-color="#09000b"/><stop offset="96.57%" stop-color="#09000b"/><stop offset="96.72%" stop-color="#000"/><stop offset="99.92%" stop-color="#000"/></linearGradient>
<linearGradient id="gY16"><stop offset="0.08%" stop-color="#25002b"/><stop offset="17%" stop-color="#25002b"/><stop offset="17.15%" stop-color="#2f0035"/><stop offset="17.61%" stop-color="#2f0035"/><stop offset="17.76%" stop-color="#380040"/><stop offset="18.22%" stop-color="#380040"/><stop offset="18.37%" stop-color="#41004b"/><stop offset="18.52%" stop-color="#41004b"/><stop offset="18.67%" stop-color="#4b0055"/><stop offset="18.83%" stop-color="#4b0055"/><stop offset="18.98%" stop-color="#540060"/><stop offset="19.13%" stop-color="#540060"/><stop offset="19.28%" stop-color="#5d006b"/><stop offset="19.44%" stop-color="#5d006b"/><stop offset="19.59%" stop-color="#670075"/><stop offset="19.74%" stop-color="#670075"/><stop offset="19.89%" stop-color="#700080"/><stop offset="20.05%" stop-color="#700080"/><stop offset="20.35%" stop-color="#7a008b"/><stop offset="22.48%" stop-color="#870098"/><stop offset="22.79%" stop-color="#4300a2"/><stop offset="22.94%" stop-color="#1800a7"/><stop offset="23.09%" stop-color="#0000ad"/><stop offset="24.31%" stop-color="#00d"/><stop offset="26.3%" stop-color="#0078dd"/><stop offset="29.65%" stop-color="#009adb"/><stop offset="32.24%" stop-color="#00a0c7"/><stop offset="34.22%" stop-color="#00a3bf"/><stop offset="36.05%" stop-color="#00a8af"/><stop offset="37.88%" stop-color="#00aaa5"/><stop offset="45.05%" stop-color="#00aa95"/><stop offset="49.62%" stop-color="#0a8"/><stop offset="49.92%" stop-color="#0a8"/><stop offset="50.08%" stop-color="#00a97d"/><stop offset="50.23%" stop-color="#00a97d"/><stop offset="50.38%" stop-color="#00a773"/><stop offset="50.53%" stop-color="#00a773"/><stop offset="50.69%" stop-color="#00a668"/><stop offset="50.99%" stop-color="#00a668"/><stop offset="51.14%" stop-color="#00a55d"/><stop offset="51.45%" stop-color="#00a55d"/><stop offset="51.6%" stop-color="#00a353"/><stop offset="52.21%" stop-color="#00a353"/><stop offset="52.36%" stop-color="#00a55d"/><stop offset="52.52%" stop-color="#00a55d"/><stop offset="52.67%" stop-color="#00a668"/><stop offset="54.04%" stop-color="#00a668"/><stop offset="54.19%" stop-color="#00a773"/><stop offset="54.34%" stop-color="#00a773"/><stop offset="54.5%" stop-color="#00a97d"/><stop offset="54.65%" stop-color="#00a97d"/><stop offset="54.8%" stop-color="#0a8"/><stop offset="58.61%" stop-color="#00a8af"/><stop offset="60.59%" stop-color="#009adb"/><stop offset="62.58%" stop-color="#0078dd"/><stop offset="63.03%" stop-color="#0067dd"/><stop offset="63.34%" stop-color="#0054dd"/><stop offset="63.64%" stop-color="#004bdd"/><stop offset="63.95%" stop-color="#0038dd"/><stop offset="64.25%" stop-color="#002fdd"/><stop offset="64.56%" stop-color="#001cdd"/><stop offset="64.86%" stop-color="#0013dd"/><stop offset="65.17%" stop-color="#00d"/><stop offset="69.74%" stop-color="#0300aa"/><stop offset="69.89%" stop-color="#0d00a8"/><stop offset="70.05%" stop-color="#0d00a8"/><stop offset="70.2%" stop-color="#1800a7"/><stop offset="70.66%" stop-color="#1800a7"/><stop offset="70.81%" stop-color="#2300a6"/><stop offset="71.11%" stop-color="#2300a6"/><stop offset="71.27%" stop-color="#2d00a4"/><stop offset="71.57%" stop-color="#2d00a4"/><stop offset="71.72%" stop-color="#3800a3"/><stop offset="72.03%" stop-color="#3800a3"/><stop offset="72.18%" stop-color="#4300a2"/><stop offset="72.64%" stop-color="#4300a2"/><stop offset="72.79%" stop-color="#4d00a0"/><stop offset="73.09%" stop-color="#4d00a0"/><stop offset="73.25%" stop-color="#58009f"/><stop offset="73.7%" stop-color="#58009f"/><stop offset="73.86%" stop-color="#63009e"/><stop offset="74.31%" stop-color="#63009e"/><stop offset="74.47%" stop-color="#009cd3"/><stop offset="75.08%" stop-color="#009cd3"/><stop offset="75.23%" stop-color="#00d"/><stop offset="75.99%" stop-color="#00d"/><stop offset="76.14%" stop-color="#009cd3"/><stop offset="76.45%" stop-color="#009cd3"/><stop offset="76.6%" stop-color="#0098dd"/><stop offset="77.97%" stop-color="#009cd3"/><stop offset="78.12%" stop-color="#00a7b3"/><stop offset="78.73%" stop-color="#00a6b7"/><stop offset="78.89%" stop-color="#009cd3"/><stop offset="79.5%" stop-color="#009bd7"/><stop offset="79.65%" stop-color="#00d"/><stop offset="79.8%" stop-color="#00d"/><stop offset="79.95%" stop-color="#009bd7"/><stop offset="80.72%" stop-color="#009cd3"/><stop offset="80.87%" stop-color="#00d"/><stop offset="81.48%" stop-color="#00d"/><stop offset="81.63%" stop-color="#009ecf"/><stop offset="82.09%" stop-color="#009ecf"/><stop offset="82.24%" stop-color="#00d"/><stop offset="82.55%" stop-color="#00d"/><stop offset="82.7%" stop-color="#850096"/><stop offset="88.19%" stop-color="#708"/><stop offset="88.49%" stop-color="#700080"/><stop offset="88.8%" stop-color="#700080"/><stop offset="88.95%" stop-color="#670075"/><stop offset="89.41%" stop-color="#670075"/><stop offset="89.56%" stop-color="#5d006b"/><stop offset="90.02%" stop-color="#5d006b"/><stop offset="90.17%" stop-color="#540060"/><stop offset="90.62%" stop-color="#540060"/><stop offset="90.78%" stop-color="#4b0055"/><stop offset="91.39%" stop-color="#4b0055"/><stop offset="91.54%" stop-color="#41004b"/><stop offset="92%" stop-color="#41004b"/><stop offset="92.15%" stop-color="#380040"/><stop offset="92.76%" stop-color="#380040"/><stop offset="92.91%" stop-color="#2f0035"/><stop offset="93.52%" stop-color="#2f0035"/><stop offset="93.67%" stop-color="#25002b"/><stop offset="94.28%" stop-color="#25002b"/><stop offset="94.44%" stop-color="#1c0020"/><stop offset="95.05%" stop-color="#1c0020"/><stop offset="95.2%" stop-color="#130015"/><stop offset="95.81%" stop-color="#130015"/><stop offset="95.96%" stop-color="#09000b"/><stop offset="96.57%" stop-color="#09000b"/><stop offset="96.72%" stop-color="#000"/><stop offset="99.92%" stop-color="#000"/></linearGradient>
<linearGradient id="gY17"><stop offset="0.08%" stop-color="#25002b"/><stop offset="17%" stop-color="#25002b"/><stop offset="17.15%" stop-color="#2f0035"/><stop offset="17.61%" stop-color="#2f0035"/><stop offset="17.76%" stop-color="#380040"/><stop offset="18.22%" stop-color="#380040"/><stop offset="18.37%" stop-color="#41004b"/><stop offset="18.52%" stop-color="#41004b"/><stop offset="18.67%" stop-color="#4b0055"/><stop offset="18.83%" stop-color="#4b0055"/><stop offset="18.98%" stop-color="#540060"/><stop offset="19.13%" stop-color="#540060"/><stop offset="19.28%" stop-color="#5d006b"/><stop offset="19.44%" stop-color="#5d006b"/><stop offset="19.59%" stop-color="#670075"/><stop offset="19.74%" stop-color="#670075"/><stop offset="19.89%" stop-color="#700080"/><stop offset="20.05%" stop-color="#700080"/><stop offset="20.35%" stop-color="#7a008b"/><stop offset="22.48%" stop-color="#870098"/><stop offset="22.79%" stop-color="#4300a2"/><stop offset="22.94%" stop-color="#1800a7"/><stop offset="23.09%" stop-color="#0000ad"/><stop offset="24.01%" stop-color="#0000d9"/><stop offset="25.99%" stop-color="#0078dd"/><stop offset="28.89%" stop-color="#009adb"/><stop offset="32.24%" stop-color="#00a2c3"/><stop offset="33.61%" stop-color="#00a4bb"/><stop offset="35.14%" stop-color="#00a8af"/><stop offset="37.88%" stop-color="#00aaa0"/><stop offset="45.05%" stop-color="#00aa90"/><stop offset="47.33%" stop-color="#0a8"/><stop offset="47.48%" stop-color="#00a97d"/><stop offset="47.79%" stop-color="#00a97d"/><stop offset="47.94%" stop-color="#00a773"/><stop offset="49.92%" stop-color="#00a773"/><stop offset="50.08%" stop-color="#00a668"/><stop offset="50.23%" stop-color="#00a668"/><stop offset="50.38%" stop-color="#00a55d"/><stop offset="50.53%" stop-color="#00a55d"/><stop offset="50.69%" stop-color="#00a353"/><stop offset="50.84%" stop-color="#00a353"/><stop offset="50.99%" stop-color="#00a248"/><stop offset="51.14%" stop-color="#00a248"/><stop offset="51.3%" stop-color="#00a13d"/><stop offset="51.75%" stop-color="#00a13d"/><stop offset="51.91%" stop-color="#009f33"/><stop offset="52.06%" stop-color="#009f33"/><stop offset="52.21%" stop-color="#00a13d"/><stop offset="52.36%" stop-color="#00a13d"/><stop offset="52.52%" stop-color="#00a248"/><stop offset="52.97%" stop-color="#00a248"/><stop offset="53.12%" stop-color="#00a353"/><stop offset="53.28%" stop-color="#00a353"/><stop offset="53.43%" stop-color="#00a248"/><stop offset="53.58%" stop-color="#00a353"/><stop offset="54.04%" stop-color="#00a353"/><stop offset="54.19%" stop-color="#00a55d"/><stop offset="54.34%" stop-color="#00a55d"/><stop offset="54.5%" stop-color="#00a668"/><stop offset="54.65%" stop-color="#00a668"/><stop offset="54.8%" stop-color="#00a773"/><stop offset="54.95%" stop-color="#00a773"/><stop offset="55.11%" stop-color="#00a97d"/><stop offset="55.26%" stop-color="#00a97d"/><stop offset="55.41%" stop-color="#0a8"/><stop offset="58.46%" stop-color="#00aaab"/><stop offset="60.14%" stop-color="#009cd3"/><stop offset="61.36%" stop-color="#0090dd"/><stop offset="62.88%" stop-color="#0070dd"/><stop offset="63.34%" stop-color="#0054dd"/><stop offset="63.64%" stop-color="#004bdd"/><stop offset="63.95%" stop-color="#0038dd"/><stop offset="64.25%" stop-color="#002fdd"/><stop offset="64.56%" stop-color="#001cdd"/><stop offset="64.86%" stop-color="#0013dd"/><stop offset="65.17%" stop-color="#00d"/><stop offset="69.74%" stop-color="#0300aa"/><stop offset="69.89%" stop-color="#0d00a8"/><stop offset="70.05%" stop-color="#0d00a8"/><stop offset="70.2%" stop-color="#1800a7"/><stop offset="70.66%" stop-color="#1800a7"/><stop offset="70.81%" stop-color="#2300a6"/><stop offset="71.11%" stop-color="#2300a6"/><stop offset="71.27%" stop-color="#2d00a4"/><stop offset="71.57%" stop-color="#2d00a4"/><stop offset="71.72%" stop-color="#3800a3"/><stop offset="72.03%" stop-color="#3800a3"/><stop offset="72.18%" stop-color="#4300a2"/><stop offset="72.64%" stop-color="#4300a2"/><stop offset="72.79%" stop-color="#4d00a0"/><stop offset="73.09%" stop-color="#4d00a0"/><stop offset="73.25%" stop-color="#58009f"/><stop offset="73.7%" stop-color="#58009f"/><stop offset="73.86%" stop-color="#63009e"/><stop offset="74.31%" stop-color="#63009e"/><stop offset="74.47%" stop-color="#009cd3"/><stop offset="75.08%" stop-color="#009cd3"/><stop offset="75.23%" stop-color="#00d"/><stop offset="75.99%" stop-color="#00d"/><stop offset="76.14%" stop-color="#009cd3"/><stop offset="76.45%" stop-color="#009cd3"/><stop offset="76.6%" stop-color="#0098dd"/><stop offset="77.97%" stop-color="#009cd3"/><stop offset="78.12%" stop-color="#00a7b3"/><stop offset="78.73%" stop-color="#00a6b7"/><stop offset="78.89%" stop-color="#009cd3"/><stop offset="79.5%" stop-color="#009bd7"/><stop offset="79.65%" stop-color="#00d"/><stop offset="79.8%" stop-color="#00d"/><stop offset="79.95%" stop-color="#009bd7"/><stop offset="80.72%" stop-color="#009cd3"/><stop offset="80.87%" stop-color="#00d"/><stop offset="81.48%" stop-color="#00d"/><stop offset="81.63%" stop-color="#009ecf"/><stop offset="82.09%" stop-color="#009ecf"/><stop offset="82.24%" stop-color="#00d"/><stop offset="82.55%" stop-color="#00d"/><stop offset="82.7%" stop-color="#850096"/><stop offset="88.19%" stop-color="#708"/><stop offset="88.49%" stop-color="#700080"/><stop offset="88.8%" stop-color="#700080"/><stop offset="88.95%" stop-color="#670075"/><stop offset="89.41%" stop-color="#670075"/><stop offset="89.56%" stop-color="#5d006b"/><stop offset="90.02%" stop-color="#5d006b"/><stop offset="90.17%" stop-color="#540060"/><stop offset="90.62%" stop-color="#540060"/><stop offset="90.78%" stop-color="#4b0055"/><stop offset="91.39%" stop-color="#4b0055"/><stop offset="91.54%" stop-color="#41004b"/><stop offset="92%" stop-color="#41004b"/><stop offset="92.15%" stop-color="#380040"/><stop offset="92.76%" stop-color="#380040"/><stop offset="92.91%" stop-color="#2f0035"/><stop offset="93.52%" stop-color="#2f0035"/><stop offset="93.67%" stop-color="#25002b"/><stop offset="94.28%" stop-color="#25002b"/><stop offset="94.44%" stop-color="#1c0020"/><stop offset="95.05%" stop-color="#1c0020"/><stop offset="95.2%" stop-color="#130015"/><stop offset="95.81%" stop-color="#130015"/><stop offset="95.96%" stop-color="#09000b"/><stop offset="96.57%" stop-color="#09000b"/><stop offset="96.72%" stop-color="#000"/><stop offset="99.92%" stop-color="#000"/></linearGradient>
<linearGradient id="gY18"><stop offset="0.08%" stop-color="#25002b"/><stop offset="17%" stop-color="#25002b"/><stop offset="17.15%" stop-color="#2f0035"/><stop offset="17.61%" stop-color="#2f0035"/><stop offset="17.76%" stop-color="#380040"/><stop offset="18.22%" stop-color="#380040"/><stop offset="18.37%" stop-color="#41004b"/><stop offset="18.52%" stop-color="#41004b"/><stop offset="18.67%" stop-color="#4b0055"/><stop offset="18.83%" stop-color="#4b0055"/><stop offset="18.98%" stop-color="#540060"/><stop offset="19.13%" stop-color="#540060"/><stop offset="19.28%" stop-color="#5d006b"/><stop offset="19.44%" stop-color="#5d006b"/><stop offset="19.59%" stop-color="#670075"/><stop offset="19.74%" stop-color="#670075"/><stop offset="19.89%" stop-color="#700080"/><stop offset="20.05%" stop-color="#700080"/><stop offset="20.35%" stop-color="#7a008b"/><stop offset="22.48%" stop-color="#870098"/><stop offset="22.79%" stop-color="#4300a2"/><stop offset="22.94%" stop-color="#1800a7"/><stop offset="23.09%" stop-color="#0300aa"/><stop offset="24.62%" stop-color="#00d"/><stop offset="25.23%" stop-color="#0025dd"/><stop offset="25.38%" stop-color="#0025dd"/><stop offset="25.84%" stop-color="#0041dd"/><stop offset="25.99%" stop-color="#0041dd"/><stop offset="26.6%" stop-color="#0067dd"/><stop offset="26.91%" stop-color="#0070dd"/><stop offset="27.21%" stop-color="#0078dd"/><stop offset="30.56%" stop-color="#009adb"/><stop offset="33.92%" stop-color="#00a0c7"/><stop offset="34.98%" stop-color="#00a2c3"/><stop offset="38.34%" stop-color="#00a8af"/><stop offset="40.78%" stop-color="#00aaa5"/><stop offset="46.72%" stop-color="#00aa9b"/><stop offset="49.77%" stop-color="#00aa93"/><stop offset="52.06%" stop-color="#0a8"/><stop offset="54.34%" stop-color="#00aa93"/><stop offset="56.48%" stop-color="#00aaab"/><stop offset="57.39%" stop-color="#00a4bb"/><stop offset="58.77%" stop-color="#009cd3"/><stop offset="59.83%" stop-color="#0090dd"/><stop offset="61.05%" stop-color="#0078dd"/><stop offset="61.51%" stop-color="#0067dd"/><stop offset="61.66%" stop-color="#005ddd"/><stop offset="62.27%" stop-color="#004bdd"/><stop offset="62.42%" stop-color="#0041dd"/><stop offset="62.73%" stop-color="#0038dd"/><stop offset="63.19%" stop-color="#0025dd"/><stop offset="63.64%" stop-color="#0013dd"/><stop offset="63.8%" stop-color="#0009dd"/><stop offset="64.41%" stop-color="#0000d9"/><stop offset="69.44%" stop-color="#0300aa"/><stop offset="69.59%" stop-color="#0d00a8"/><stop offset="69.89%" stop-color="#0d00a8"/><stop offset="70.05%" stop-color="#1800a7"/><stop offset="70.35%" stop-color="#1800a7"/><stop offset="70.5%" stop-color="#2300a6"/><stop offset="70.96%" stop-color="#2300a6"/><stop offset="71.11%" stop-color="#2d00a4"/><stop offset="71.42%" stop-color="#2d00a4"/><stop offset="71.57%" stop-color="#3800a3"/><stop offset="72.03%" stop-color="#3800a3"/><stop offset="72.18%" stop-color="#4300a2"/><stop offset="72.64%" stop-color="#4300a2"/><stop offset="72.79%" stop-color="#4d00a0"/><stop offset="73.09%" stop-color="#4d00a0"/><stop offset="73.25%" stop-color="#58009f"/><stop offset="73.7%" stop-color="#58009f"/><stop offset="73.86%" stop-color="#63009e"/><stop offset="74.31%" stop-color="#63009e"/><stop offset="74.47%" stop-color="#009cd3"/><stop offset="75.08%" stop-color="#009cd3"/><stop offset="75.23%" stop-color="#00d"/><stop offset="75.99%" stop-color="#00d"/><stop offset="76.14%" stop-color="#009cd3"/><stop offset="76.45%" stop-color="#009cd3"/><stop offset="76.6%" stop-color="#0098dd"/><stop offset="77.97%" stop-color="#009cd3"/><stop offset="78.12%" stop-color="#00a7b3"/><stop offset="78.73%" stop-color="#00a6b7"/><stop offset="78.89%" stop-color="#009cd3"/><stop offset="79.5%" stop-color="#009bd7"/><stop offset="79.65%" stop-color="#00d"/><stop offset="79.8%" stop-color="#00d"/><stop offset="79.95%" stop-color="#009bd7"/><stop offset="80.72%" stop-color="#009cd3"/><stop offset="80.87%" stop-color="#00d"/><stop offset="81.48%" stop-color="#00d"/><stop offset="81.63%" stop-color="#009ecf"/><stop offset="82.09%" stop-color="#009ecf"/><stop offset="82.24%" stop-color="#00d"/><stop offset="82.55%" stop-color="#00d"/><stop offset="82.7%" stop-color="#850096"/><stop offset="88.19%" stop-color="#708"/><stop offset="88.49%" stop-color="#700080"/><stop offset="88.8%" stop-color="#700080"/><stop offset="88.95%" stop-color="#670075"/><stop offset="89.41%" stop-color="#670075"/><stop offset="89.56%" stop-color="#5d006b"/><stop offset="90.02%" stop-color="#5d006b"/><stop offset="90.17%" stop-color="#540060"/><stop offset="90.62%" stop-color="#540060"/><stop offset="90.78%" stop-color="#4b0055"/><stop offset="91.39%" stop-color="#4b0055"/><stop offset="91.54%" stop-color="#41004b"/><stop offset="92%" stop-color="#41004b"/><stop offset="92.15%" stop-color="#380040"/><stop offset="92.76%" stop-color="#380040"/><stop offset="92.91%" stop-color="#2f0035"/><stop offset="93.52%" stop-color="#2f0035"/><stop offset="93.67%" stop-color="#25002b"/><stop offset="94.28%" stop-color="#25002b"/><stop offset="94.44%" stop-color="#1c0020"/><stop offset="95.05%" stop-color="#1c0020"/><stop offset="95.2%" stop-color="#130015"/><stop offset="95.81%" stop-color="#130015"/><stop offset="95.96%" stop-color="#09000b"/><stop offset="96.57%" stop-color="#09000b"/><stop offset="96.72%" stop-color="#000"/><stop offset="99.92%" stop-color="#000"/></linearGradient>
<linearGradient id="gY19"><stop offset="0.08%" stop-color="#25002b"/><stop offset="18.06%" stop-color="#25002b"/><stop offset="18.22%" stop-color="#2f0035"/><stop offset="18.37%" stop-color="#2f0035"/><stop offset="18.52%" stop-color="#380040"/><stop offset="22.18%" stop-color="#380040"/><stop offset="22.33%" stop-color="#41004b"/><stop offset="26.3%" stop-color="#41004b"/><stop offset="26.45%" stop-color="#380040"/><stop offset="27.67%" stop-color="#380040"/><stop offset="27.82%" stop-color="#41004b"/><stop offset="32.39%" stop-color="#41004b"/><stop offset="32.55%" stop-color="#380040"/><stop offset="33.46%" stop-color="#380040"/><stop offset="33.61%" stop-color="#41004b"/><stop offset="35.75%" stop-color="#41004b"/><stop offset="35.9%" stop-color="#4b0055"/><stop offset="36.05%" stop-color="#4b0055"/><stop offset="36.2%" stop-color="#41004b"/><stop offset="58%" stop-color="#41004b"/><stop offset="58.16%" stop-color="#4b0055"/><stop offset="59.68%" stop-color="#4b0055"/><stop offset="59.83%" stop-color="#41004b"/><stop offset="65.47%" stop-color="#41004b"/><stop offset="65.62%" stop-color="#4b0055"/><stop offset="66.84%" stop-color="#4b0055"/><stop offset="67%" stop-color="#41004b"/><stop offset="70.81%" stop-color="#41004b"/><stop offset="70.96%" stop-color="#380040"/><stop offset="71.57%" stop-color="#380040"/><stop offset="71.72%" stop-color="#41004b"/><stop offset="82.55%" stop-color="#41004b"/><stop offset="82.7%" stop-color="#380040"/><stop offset="86.05%" stop-color="#380040"/><stop offset="86.2%" stop-color="#41004b"/><stop offset="86.81%" stop-color="#41004b"/><stop offset="86.97%" stop-color="#380040"/><stop offset="88.49%" stop-color="#380040"/><stop offset="88.64%" stop-color="#2f0035"/><stop offset="90.78%" stop-color="#2f0035"/><stop offset="90.93%" stop-color="#25002b"/><stop offset="92.91%" stop-color="#25002b"/><stop offset="93.06%" stop-color="#1c0020"/><stop offset="94.13%" stop-color="#1c0020"/><stop offset="94.28%" stop-color="#130015"/><stop offset="95.5%" stop-color="#130015"/><stop offset="95.66%" stop-color="#09000b"/><stop offset="96.72%" stop-color="#09000b"/><stop offset="96.88%" stop-color="#000"/><stop offset="99.92%" stop-color="#000"/></linearGradient>
<linearGradient id="gY20"><stop offset="0.08%" stop-color="#25002b"/><stop offset="24.92%" stop-color="#25002b"/><stop offset="25.08%" stop-color="#2f0035"/><stop offset="89.25%" stop-color="#2f0035"/><stop offset="89.41%" stop-color="#25002b"/><stop offset="92%" stop-color="#25002b"/><stop offset="92.15%" stop-color="#1c0020"/><stop offset="93.67%" stop-color="#1c0020"/><stop offset="93.83%" stop-color="#130015"/><stop offset="95.2%" stop-color="#130015"/><stop offset="95.35%" stop-color="#09000b"/><stop offset="96.57%" stop-color="#09000b"/><stop offset="96.72%" stop-color="#000"/><stop offset="99.92%" stop-color="#000"/></linearGradient>
<linearGradient id="gY21"><stop offset="0.08%" stop-color="#25002b"/><stop offset="15.78%" stop-color="#25002b"/><stop offset="15.93%" stop-color="#2f0035"/><stop offset="16.23%" stop-color="#2f0035"/><stop offset="16.39%" stop-color="#380040"/><stop offset="16.69%" stop-color="#380040"/><stop offset="16.84%" stop-color="#41004b"/><stop offset="17%" stop-color="#41004b"/><stop offset="17.91%" stop-color="#79008a"/><stop offset="19.28%" stop-color="#870098"/><stop offset="19.44%" stop-color="#6d009c"/><stop offset="19.59%" stop-color="#4300a2"/><stop offset="19.89%" stop-color="#0000b1"/><stop offset="20.2%" stop-color="#0009dd"/><stop offset="20.35%" stop-color="#002fdd"/><stop offset="20.66%" stop-color="#0067dd"/><stop offset="20.81%" stop-color="#007add"/><stop offset="21.57%" stop-color="#0092dd"/><stop offset="22.03%" stop-color="#009bd7"/><stop offset="22.64%" stop-color="#00aa98"/><stop offset="22.79%" stop-color="#0a8"/><stop offset="23.09%" stop-color="#009a08"/><stop offset="23.4%" stop-color="#00af00"/><stop offset="24.01%" stop-color="#00d700"/><stop offset="26.14%" stop-color="#00ea00"/><stop offset="28.12%" stop-color="#00ef00"/><stop offset="33.46%" stop-color="#00fa00"/><stop offset="43.06%" stop-color="#00f700"/><stop offset="46.57%" stop-color="#00ec00"/><stop offset="49.01%" stop-color="#00e700"/><stop offset="52.36%" stop-color="#00d700"/><stop offset="55.72%" stop-color="#00c700"/><stop offset="57.39%" stop-color="#00b200"/><stop offset="59.38%" stop-color="#009f00"/><stop offset="59.83%" stop-color="#009a00"/><stop offset="61.36%" stop-color="#00a668"/><stop offset="61.51%" stop-color="#00a668"/><stop offset="61.97%" stop-color="#0a8"/><stop offset="64.86%" stop-color="#00aaab"/><stop offset="66.69%" stop-color="#009adb"/><stop offset="69.44%" stop-color="#0078dd"/><stop offset="70.05%" stop-color="#0054dd"/><stop offset="70.35%" stop-color="#004bdd"/><stop offset="70.5%" stop-color="#0041dd"/><stop offset="71.27%" stop-color="#002fdd"/><stop offset="71.42%" stop-color="#002fdd"/><stop offset="71.57%" stop-color="#0025dd"/><stop offset="72.18%" stop-color="#001cdd"/><stop offset="72.48%" stop-color="#0013dd"/><stop offset="72.79%" stop-color="#0013dd"/><stop offset="72.94%" stop-color="#0009dd"/><stop offset="73.55%" stop-color="#0009dd"/><stop offset="73.86%" stop-color="#00d"/><stop offset="74.31%" stop-color="#0000d9"/><stop offset="74.47%" stop-color="#008ddd"/><stop offset="75.08%" stop-color="#008ddd"/><stop offset="75.23%" stop-color="#00d"/><stop offset="75.99%" stop-color="#00d"/><stop offset="76.14%" stop-color="#008ddd"/><stop offset="76.45%" stop-color="#008ddd"/><stop offset="76.6%" stop-color="#00d"/><stop offset="76.91%" stop-color="#00d"/><stop offset="77.06%" stop-color="#008ddd"/><stop offset="77.97%" stop-color="#008ddd"/><stop offset="78.12%" stop-color="#00aaa3"/><stop offset="78.73%" stop-color="#00aaa3"/><stop offset="78.89%" stop-color="#008ddd"/><stop offset="79.5%" stop-color="#008ddd"/><stop offset="79.65%" stop-color="#00d"/><stop offset="79.8%" stop-color="#00d"/><stop offset="79.95%" stop-color="#008ddd"/><stop offset="80.72%" stop-color="#008ddd"/><stop offset="80.87%" stop-color="#00d"/><stop offset="81.48%" stop-color="#00d"/><stop offset="81.63%" stop-color="#008ddd"/><stop offset="82.09%" stop-color="#008ddd"/><stop offset="82.24%" stop-color="#00d"/><stop offset="82.55%" stop-color="#00d"/><stop offset="82.7%" stop-color="#0300aa"/><stop offset="82.85%" stop-color="#0300aa"/><stop offset="83%" stop-color="#0d00a8"/><stop offset="83.16%" stop-color="#0d00a8"/><stop offset="83.31%" stop-color="#1800a7"/><stop offset="83.46%" stop-color="#1800a7"/><stop offset="83.61%" stop-color="#2300a6"/><stop offset="83.77%" stop-color="#2300a6"/><stop offset="84.07%" stop-color="#3800a3"/><stop offset="84.22%" stop-color="#3800a3"/><stop offset="84.38%" stop-color="#4300a2"/><stop offset="84.53%" stop-color="#4300a2"/><stop offset="84.68%" stop-color="#4d00a0"/><stop offset="84.83%" stop-color="#4d00a0"/><stop offset="84.98%" stop-color="#58009f"/><stop offset="85.14%" stop-color="#58009f"/><stop offset="85.44%" stop-color="#6d009c"/><stop offset="85.59%" stop-color="#6d009c"/><stop offset="85.9%" stop-color="#83009a"/><stop offset="87.73%" stop-color="#810092"/><stop offset="89.71%" stop-color="#708"/><stop offset="90.02%" stop-color="#700080"/><stop offset="90.17%" stop-color="#700080"/><stop offset="90.32%" stop-color="#670075"/><stop offset="90.78%" stop-color="#670075"/><stop offset="90.93%" stop-color="#5d006b"/><stop offset="91.23%" stop-color="#5d006b"/><stop offset="91.39%" stop-color="#540060"/><stop offset="91.69%" stop-color="#540060"/><stop offset="91.84%" stop-color="#4b0055"/><stop offset="92.3%" stop-color="#4b0055"/><stop offset="92.45%" stop-color="#41004b"/><stop offset="92.76%" stop-color="#41004b"/><stop offset="92.91%" stop-color="#380040"/><stop offset="93.37%" stop-color="#380040"/><stop offset="93.52%" stop-color="#2f0035"/><stop offset="93.98%" stop-color="#2f0035"/><stop offset="94.13%" stop-color="#25002b"/><stop offset="94.59%" stop-color="#25002b"/><stop offset="94.74%" stop-color="#1c0020"/><stop offset="95.05%" stop-color="#1c0020"/><stop offset="95.2%" stop-color="#130015"/><stop offset="95.81%" stop-color="#130015"/><stop offset="95.96%" stop-color="#09000b"/><stop offset="96.57%" stop-color="#09000b"/><stop offset="96.72%" stop-color="#000"/><stop offset="99.92%" stop-color="#000"/></linearGradient>
<clipPath id="cX"><rect x="48" y="28" width="267" height="367.8"/></clipPath>
<clipPath id="cY"><rect x="328" y="28" width="267" height="367.8"/></clipPath>
</defs>
<rect width="640" height="440" fill="#fff"/>
<rect x="48" y="28.00" width="267" height="18.32" fill="url(#gX0)"/>
<rect x="48" y="44.72" width="267" height="18.32" fill="url(#gX1)"/>
<rect x="48" y="61.44" width="267" height="18.32" fill="url(#gX2)"/>
<rect x="48" y="78.15" width="267" height="18.32" fill="url(#gX3)"/>
<rect x="48" y="94.87" width="267" height="18.32" fill="url(#gX4)"/>
<rect x="48" y="111.59" width="267" height="18.32" fill="url(#gX5)"/>
<rect x="48" y="128.31" width="267" height="18.32" fill="url(#gX6)"/>
<rect x="48" y="145.03" width="267" height="18.32" fill="url(#gX7)"/>
<rect x="48" y="161.75" width="267" height="18.32" fill="url(#gX8)"/>
<rect x="48" y="178.46" width="267" height="18.32" fill="url(#gX9)"/>
<rect x="48" y="195.18" width="267" height="18.32" fill="url(#gX10)"/>
<rect x="48" y="211.90" width="267" height="18.32" fill="url(#gX11)"/>
<rect x="48" y="228.62" width="267" height="18.32" fill="url(#gX12)"/>
<rect x="48" y="245.34" width="267" height="18.32" fill="url(#gX13)"/>
<rect x="48" y="262.05" width="267" height="18.32" fill="url(#gX14)"/>
<rect x="48" y="278.77" width="267" height="18.32" fill="url(#gX15)"/>
<rect x="48" y="295.49" width="267" height="18.32" fill="url(#gX16)"/>
<rect x="48" y="312.21" width="267" height="18.32" fill="url(#gX17)"/>
<rect x="48" y="328.93" width="267" height="18.32" fill="url(#gX18)"/>
<rect x="48" y="345.65" width="267" height="18.32" fill="url(#gX19)"/>
<rect x="48" y="362.36" width="267" height="18.32" fill="url(#gX20)"/>
<rect x="48" y="379.08" width="267" height="16.72" fill="url(#gX21)"/>
<rect x="328" y="28.00" width="267" height="18.32" fill="url(#gY0)"/>
<rect x="328" y="44.72" width="267" height="18.32" fill="url(#gY1)"/>
<rect x="328" y="61.44" width="267" height="18.32" fill="url(#gY2)"/>
<rect x="328" y="78.15" width="267" height="18.32" fill="url(#gY3)"/>
<rect x="328" y="94.87" width="267" height="18.32" fill="url(#gY4)"/>
<rect x="328" y="111.59" width="267" height="18.32" fill="url(#gY5)"/>
<rect x="328" y="128.31" width="267" height="18.32" fill="url(#gY6)"/>
<rect x="328" y="145.03" width="267" height="18.32" fill="url(#gY7)"/>
<rect x="328" y="161.75" width="267" height="18.32" fill="url(#gY8)"/>
<rect x="328" y="178.46" width="267" height="18.32" fill="url(#gY9)"/>
<rect x="328" y="195.18" width="267" height="18.32" fill="url(#gY10)"/>
<rect x="328" y="211.90" width="267" height="18.32" fill="url(#gY11)"/>
<rect x="328" y="228.62" width="267" height="18.32" fill="url(#gY12)"/>
<rect x="328" y="245.34" width="267" height="18.32" fill="url(#gY13)"/>
<rect x="328" y="262.05" width="267" height="18.32" fill="url(#gY14)"/>
<rect x="328" y="278.77" width="267" height="18.32" fill="url(#gY15)"/>
<rect x="328" y="295.49" width="267" height="18.32" fill="url(#gY16)"/>
<rect x="328" y="312.21" width="267" height="18.32" fill="url(#gY17)"/>
<rect x="328" y="328.93" width="267" height="18.32" fill="url(#gY18)"/>
<rect x="328" y="345.65" width="267" height="18.32" fill="url(#gY19)"/>
<rect x="328" y="362.36" width="267" height="18.32" fill="url(#gY20)"/>
<rect x="328" y="379.08" width="267" height="16.72" fill="url(#gY21)"/>
<rect x="277.0" y="78.2" width="1.6" height="33.4" fill="#0000d1"/>
<rect x="277.2" y="111.6" width="1.0" height="33.4" fill="#0300aa"/>
<rect x="277.2" y="145.0" width="1.0" height="16.7" fill="#0000c9"/>
<rect x="276.4" y="161.7" width="2.8" height="20.3" fill="#0092dd"/>
<rect x="277.2" y="295.5" width="1.0" height="16.7" fill="#0000c9"/>
<rect x="276.3" y="328.9" width="3.0" height="16.7" fill="#0098dd"/>
<rect x="276.8" y="345.6" width="2.2" height="16.7" fill="#00d"/>
<rect x="148.0" y="178.5" width="1.5" height="16.7" fill="#ccacac"/>
<rect x="148.0" y="195.2" width="1.5" height="16.7" fill="#efed00"/>
<rect x="153.4" y="178.5" width="0.9" height="16.7" fill="#75ff00"/>
<rect x="160.8" y="211.9" width="0.9" height="50.1" fill="#49ff00"/>
<rect x="153.4" y="278.8" width="0.9" height="16.7" fill="#2cff00"/>
<rect x="150.0" y="312.2" width="1.5" height="16.7" fill="#efed00"/>
<rect x="328.0" y="28.0" width="1.0" height="127.0" fill="#00bc00"/>
<rect x="328.0" y="301.0" width="0.7" height="94.8" fill="#00d"/>
<rect x="556.5" y="44.5" width="2.3" height="16.9" fill="#00d"/>
<rect x="557.2" y="111.6" width="1.0" height="33.4" fill="#0000c9"/>
<rect x="557.2" y="178.5" width="1.0" height="11.5" fill="#0000c9"/>
<rect x="556.4" y="328.9" width="2.6" height="16.7" fill="#0098dd"/>
<rect x="440.9" y="228.0" width="1.0" height="100.5" fill="#00bc00"/>
<rect x="430.2" y="312.2" width="0.9" height="16.7" fill="#009f00"/>
<g clip-path="url(#cX)" fill="none" stroke="#fff" stroke-width="2" stroke-linejoin="round" stroke-linecap="round"><path d="M48.0,300.4 49.0,300.4 50.0,300.5 51.0,300.5 52.0,300.5 53.0,300.5 54.0,300.5 55.0,300.5 56.0,300.5 57.0,300.5 58.0,300.5 59.0,300.5 60.0,300.5 61.0,300.5 62.0,300.5 63.0,300.5 64.0,300.6 65.0,300.6 66.0,300.6 67.0,300.6 68.0,300.5 69.0,300.5 70.0,300.5 71.0,300.5 72.0,300.6 73.0,300.6 74.0,300.6 75.0,300.6 76.0,300.6 77.0,300.5 78.0,300.5 79.0,300.5 80.0,300.5 81.0,300.5 82.0,300.5 83.0,300.5 84.0,300.5 85.0,300.5 86.0,300.4 87.0,300.4 88.0,300.2 89.0,300.0 90.0,299.6 91.0,299.2 92.0,298.5 93.0,297.4 94.0,296.0 95.0,293.5 96.0,290.0 97.0,286.7 98.0,284.0 99.0,281.3 100.0,278.1 101.0,273.7 102.0,266.6 103.0,258.6 104.0,251.4 105.0,244.6 106.0,237.5 107.0,229.2 108.0,220.8 109.0,214.5 110.0,209.0 111.0,204.2 112.0,199.9 113.0,195.8 114.0,192.1 115.0,188.7 116.0,185.6 117.0,182.9 118.0,180.3 119.0,177.9 120.0,175.6 121.0,173.4 122.0,171.3 123.0,169.5 124.0,167.9 125.0,166.5 126.0,165.1 127.0,163.7 128.0,162.3 129.0,160.9 130.0,159.7 131.0,158.7 132.0,157.8 133.0,157.0 134.0,156.2 135.0,155.5 136.0,154.7 137.0,153.9 138.0,153.2 139.0,152.5 140.0,151.8 141.0,151.1 142.0,150.6 143.0,150.3 144.0,150.1 145.0,150.0 146.0,149.7 147.0,149.4 148.0,148.9 149.0,148.3 150.0,147.6 151.0,146.9 152.0,146.3 153.0,145.8 154.0,145.4 155.0,145.1 156.0,145.0 157.0,144.9 158.0,144.8 159.0,144.8 160.0,144.9 161.0,145.1 162.0,145.4 163.0,145.7 164.0,145.8 165.0,145.8 166.0,145.4 167.0,144.8 168.0,144.3 169.0,144.1 170.0,144.9 171.0,146.3 172.0,147.6 173.0,147.7 174.0,146.0 175.0,143.3 176.0,141.0 177.0,140.3 178.0,141.7 179.0,144.0 180.0,146.2 181.0,147.3 182.0,146.7 183.0,145.1 184.0,143.3 185.0,142.3 186.0,142.5 187.0,143.3 188.0,144.4 189.0,145.6 190.0,147.0 191.0,148.4 192.0,149.9 193.0,151.5 194.0,153.2 195.0,155.1 196.0,157.1 197.0,159.3 198.0,161.7 199.0,164.4 200.0,167.2 201.0,169.8 202.0,172.1 203.0,174.2 204.0,176.1 205.0,178.0 206.0,180.0 207.0,182.0 208.0,184.1 209.0,186.2 210.0,188.2 211.0,190.4 212.0,192.6 213.0,194.8 214.0,197.1 215.0,199.3 216.0,201.6 217.0,204.1 218.0,206.6 219.0,209.1 220.0,211.3 221.0,213.4 222.0,215.4 223.0,217.3 224.0,219.4 225.0,221.4 226.0,223.2 227.0,225.0 228.0,226.5 229.0,228.0 230.0,229.6 231.0,231.3 232.0,233.2 233.0,235.1 234.0,236.9 235.0,238.5 236.0,240.0 237.0,241.3 238.0,242.5 239.0,243.9 240.0,245.3 241.0,246.9 242.0,248.5 243.0,250.0 244.0,251.4 245.0,252.7 246.0,254.0 247.0,255.2 248.0,256.4 249.0,257.6 250.0,258.9 251.0,260.0 252.0,261.0 253.0,261.9 254.0,262.7 255.0,263.6 256.0,264.3 257.0,264.9 258.0,265.4 259.0,265.9 260.0,266.5 261.0,267.2 262.0,267.8 263.0,268.6 264.0,269.4 265.0,270.3 266.0,271.3 267.0,272.4 268.0,273.6 269.0,274.9 270.0,276.2 271.0,277.3 272.0,278.1 273.0,278.6 274.0,279.0 275.0,279.4 276.0,279.9 277.0,280.3 278.0,280.8 279.0,281.3 280.0,281.9 281.0,282.5 282.0,283.2 283.0,284.0 284.0,284.8 285.0,285.7 286.0,286.6 287.0,287.8 288.0,289.0 289.0,290.3 290.0,291.5 291.0,292.8 292.0,294.2 293.0,295.7 294.0,297.0 295.0,298.1 296.0,299.0 297.0,299.9 298.0,300.7 299.0,301.4 300.0,302.0 301.0,302.5 302.0,303.0 303.0,303.4 304.0,303.8 305.0,304.0 306.0,304.2 307.0,304.3 308.0,304.5 309.0,304.6 310.0,304.8 311.0,304.9 312.0,305.0 313.0,305.1 314.0,305.1 315.0,305.2 316.0,305.2 M48.0,300.6 49.0,300.6 50.0,300.6 51.0,300.6 52.0,300.6 53.0,300.6 54.0,300.6 55.0,300.6 56.0,300.5 57.0,300.5 58.0,300.5 59.0,300.5 60.0,300.5 61.0,300.5 62.0,300.5 63.0,300.5 64.0,300.5 65.0,300.5 66.0,300.6 67.0,300.6 68.0,300.6 69.0,300.6 70.0,300.6 71.0,300.7 72.0,300.6 73.0,300.6 74.0,300.6 75.0,300.6 76.0,300.6 77.0,300.5 78.0,300.5 79.0,300.5 80.0,300.5 81.0,300.6 82.0,300.6 83.0,300.6 84.0,300.6 85.0,300.5 86.0,300.4 87.0,300.3 88.0,300.2 89.0,300.0 90.0,299.7 91.0,299.3 92.0,298.7 93.0,297.6 94.0,296.3 95.0,293.9 96.0,290.6 97.0,287.4 98.0,284.7 99.0,282.1 100.0,279.0 101.0,275.0 102.0,268.5 103.0,260.8 104.0,253.5 105.0,246.2 106.0,238.6 107.0,230.1 108.0,221.5 109.0,215.2 110.0,209.7 111.0,204.9 112.0,200.7 113.0,197.0 114.0,193.6 115.0,190.5 116.0,187.7 117.0,184.9 118.0,182.3 119.0,179.8 120.0,177.4 121.0,175.1 122.0,172.9 123.0,170.8 124.0,168.8 125.0,167.1 126.0,165.4 127.0,163.9 128.0,162.4 129.0,161.0 130.0,159.7 131.0,158.6 132.0,157.8 133.0,157.2 134.0,156.6 135.0,156.1 136.0,155.4 137.0,154.8 138.0,154.1 139.0,153.6 140.0,153.1 141.0,152.7 142.0,152.2 143.0,151.7 144.0,151.3 145.0,150.9 146.0,150.6 147.0,150.1 148.0,149.6 149.0,148.9 150.0,148.4 151.0,148.0 152.0,147.8 153.0,147.7 154.0,147.5 155.0,147.2 156.0,146.8 157.0,146.3 158.0,145.9 159.0,145.6 160.0,145.5 161.0,145.6 162.0,145.7 163.0,145.7 164.0,145.5 165.0,145.2 166.0,144.8 167.0,144.4 168.0,144.1 169.0,144.2 170.0,145.3 171.0,146.9 172.0,148.0 173.0,148.0 174.0,146.2 175.0,143.6 176.0,141.4 177.0,140.8 178.0,142.1 179.0,144.3 180.0,146.4 181.0,147.4 182.0,146.7 183.0,145.1 184.0,143.4 185.0,142.6 186.0,143.0 187.0,144.0 188.0,145.3 189.0,146.5 190.0,147.9 191.0,149.5 192.0,151.1 193.0,152.8 194.0,154.7 195.0,156.7 196.0,158.7 197.0,160.8 198.0,163.0 199.0,165.6 200.0,168.3 201.0,170.9 202.0,173.3 203.0,175.4 204.0,177.4 205.0,179.2 206.0,181.0 207.0,182.9 208.0,184.7 209.0,186.6 210.0,188.6 211.0,190.8 212.0,193.2 213.0,195.6 214.0,198.2 215.0,200.7 216.0,203.4 217.0,205.9 218.0,208.4 219.0,210.6 220.0,212.7 221.0,214.5 222.0,216.2 223.0,218.0 224.0,219.8 225.0,221.7 226.0,223.6 227.0,225.5 228.0,227.4 229.0,229.3 230.0,231.1 231.0,232.8 232.0,234.3 233.0,235.7 234.0,237.0 235.0,238.4 236.0,239.9 237.0,241.5 238.0,243.1 239.0,244.6 240.0,246.1 241.0,247.6 242.0,249.1 243.0,250.5 244.0,252.0 245.0,253.3 246.0,254.7 247.0,256.0 248.0,257.2 249.0,258.5 250.0,259.7 251.0,260.9 252.0,262.1 253.0,263.0 254.0,263.8 255.0,264.5 256.0,265.1 257.0,265.6 258.0,266.1 259.0,266.5 260.0,266.9 261.0,267.4 262.0,268.1 263.0,269.1 264.0,270.2 265.0,271.4 266.0,272.4 267.0,273.3 268.0,274.1 269.0,275.0 270.0,276.2 271.0,277.4 272.0,278.3 273.0,278.9 274.0,279.4 275.0,279.7 276.0,280.0 277.0,280.3 278.0,280.7 279.0,281.1 280.0,281.6 281.0,282.2 282.0,283.0 283.0,283.8 284.0,284.8 285.0,285.8 286.0,286.8 287.0,288.0 288.0,289.2 289.0,290.5 290.0,291.7 291.0,293.0 292.0,294.3 293.0,295.7 294.0,297.0 295.0,298.1 296.0,299.1 297.0,300.0 298.0,300.8 299.0,301.5 300.0,302.1 301.0,302.7 302.0,303.1 303.0,303.5 304.0,303.8 305.0,304.1 306.0,304.2 307.0,304.4 308.0,304.5 309.0,304.7 310.0,304.8 311.0,304.9 312.0,305.0 313.0,305.1 314.0,305.2 315.0,305.2 316.0,305.3 M48.0,300.7 49.0,300.7 50.0,300.7 51.0,300.7 52.0,300.7 53.0,300.7 54.0,300.7 55.0,300.7 56.0,300.7 57.0,300.7 58.0,300.7 59.0,300.7 60.0,300.6 61.0,300.6 62.0,300.6 63.0,300.6 64.0,300.6 65.0,300.6 66.0,300.6 67.0,300.6 68.0,300.6 69.0,300.6 70.0,300.7 71.0,300.7 72.0,300.7 73.0,300.7 74.0,300.7 75.0,300.7 76.0,300.7 77.0,300.7 78.0,300.7 79.0,300.7 80.0,300.7 81.0,300.7 82.0,300.7 83.0,300.6 84.0,300.6 85.0,300.6 86.0,300.5 87.0,300.5 88.0,300.3 89.0,300.1 90.0,299.9 91.0,299.5 92.0,298.9 93.0,298.0 94.0,296.6 95.0,294.2 96.0,291.0 97.0,287.9 98.0,285.2 99.0,282.6 100.0,279.5 101.0,275.4 102.0,268.9 103.0,261.3 104.0,254.3 105.0,247.6 106.0,240.7 107.0,232.8 108.0,224.5 109.0,217.7 110.0,211.7 111.0,206.4 112.0,201.8 113.0,198.0 114.0,194.8 115.0,191.8 116.0,189.0 117.0,186.4 118.0,184.0 119.0,181.5 120.0,179.2 121.0,177.0 122.0,174.9 123.0,172.9 124.0,171.0 125.0,169.2 126.0,167.5 127.0,166.0 128.0,164.6 129.0,163.4 130.0,162.3 131.0,161.3 132.0,160.4 133.0,159.5 134.0,158.7 135.0,157.9 136.0,157.2 137.0,156.5 138.0,155.8 139.0,155.1 140.0,154.3 141.0,153.5 142.0,152.8 143.0,152.3 144.0,151.9 145.0,151.5 146.0,151.1 147.0,150.6 148.0,150.1 149.0,149.6 150.0,149.2 151.0,148.9 152.0,148.5 153.0,148.1 154.0,147.8 155.0,147.7 156.0,147.6 157.0,147.4 158.0,147.2 159.0,146.9 160.0,146.6 161.0,146.4 162.0,146.3 163.0,146.2 164.0,146.1 165.0,145.8 166.0,145.4 167.0,145.0 168.0,144.7 169.0,145.0 170.0,146.2 171.0,147.7 172.0,148.8 173.0,148.9 174.0,147.4 175.0,145.2 176.0,143.4 177.0,143.0 178.0,144.2 179.0,146.1 180.0,147.9 181.0,148.7 182.0,148.1 183.0,146.6 184.0,145.0 185.0,144.2 186.0,144.6 187.0,145.7 188.0,146.9 189.0,148.2 190.0,149.7 191.0,151.2 192.0,152.7 193.0,154.3 194.0,156.0 195.0,157.8 196.0,159.8 197.0,161.9 198.0,164.2 199.0,166.9 200.0,169.8 201.0,172.8 202.0,175.5 203.0,178.0 204.0,180.1 205.0,182.1 206.0,183.9 207.0,185.7 208.0,187.4 209.0,189.4 210.0,191.7 211.0,194.1 212.0,196.6 213.0,198.8 214.0,201.0 215.0,203.1 216.0,205.4 217.0,207.8 218.0,210.1 219.0,212.5 220.0,214.9 221.0,217.2 222.0,219.2 223.0,220.8 224.0,222.1 225.0,223.3 226.0,224.8 227.0,226.5 228.0,228.5 229.0,230.4 230.0,232.1 231.0,233.7 232.0,235.4 233.0,237.2 234.0,239.2 235.0,241.0 236.0,242.6 237.0,243.9 238.0,245.1 239.0,246.3 240.0,247.6 241.0,249.1 242.0,250.5 243.0,251.9 244.0,253.2 245.0,254.2 246.0,255.1 247.0,256.0 248.0,257.1 249.0,258.3 250.0,259.6 251.0,260.8 252.0,262.0 253.0,263.0 254.0,263.8 255.0,264.4 256.0,264.9 257.0,265.3 258.0,265.8 259.0,266.4 260.0,267.0 261.0,267.6 262.0,268.2 263.0,269.0 264.0,270.0 265.0,271.1 266.0,272.2 267.0,273.4 268.0,274.5 269.0,275.8 270.0,277.2 271.0,278.5 272.0,279.3 273.0,279.7 274.0,280.0 275.0,280.3 276.0,280.6 277.0,281.0 278.0,281.4 279.0,281.8 280.0,282.3 281.0,282.8 282.0,283.4 283.0,284.1 284.0,285.0 285.0,285.9 286.0,286.9 287.0,288.1 288.0,289.3 289.0,290.6 290.0,291.9 291.0,293.3 292.0,294.7 293.0,296.0 294.0,297.3 295.0,298.4 296.0,299.3 297.0,300.1 298.0,300.9 299.0,301.6 300.0,302.2 301.0,302.7 302.0,303.2 303.0,303.6 304.0,304.0 305.0,304.2 306.0,304.4 307.0,304.5 308.0,304.7 309.0,304.8 310.0,304.9 311.0,305.1 312.0,305.2 313.0,305.2 314.0,305.3 315.0,305.3 316.0,305.4 M48.0,300.8 49.0,300.8 50.0,300.8 51.0,300.8 52.0,300.8 53.0,300.9 54.0,300.9 55.0,300.9 56.0,300.9 57.0,300.9 58.0,300.8 59.0,300.8 60.0,300.8 61.0,300.8 62.0,300.8 63.0,300.8 64.0,300.8 65.0,300.8 66.0,300.8 67.0,300.8 68.0,300.9 69.0,300.9 70.0,300.9 71.0,300.9 72.0,300.9 73.0,300.8 74.0,300.8 75.0,300.8 76.0,300.8 77.0,300.9 78.0,300.9 79.0,300.9 80.0,300.9 81.0,300.9 82.0,301.0 83.0,300.9 84.0,300.9 85.0,300.8 86.0,300.7 87.0,300.7 88.0,300.5 89.0,300.4 90.0,300.1 91.0,299.7 92.0,299.1 93.0,298.2 94.0,297.0 95.0,294.9 96.0,292.2 97.0,289.4 98.0,286.9 99.0,284.3 100.0,281.3 101.0,277.4 102.0,271.5 103.0,264.7 104.0,258.1 105.0,251.3 106.0,244.2 107.0,236.2 108.0,228.0 109.0,221.4 110.0,215.6 111.0,210.2 112.0,205.3 113.0,201.2 114.0,197.8 115.0,194.8 116.0,192.2 117.0,189.8 118.0,187.3 119.0,184.8 120.0,182.2 121.0,179.6 122.0,177.3 123.0,175.3 124.0,173.6 125.0,172.0 126.0,170.4 127.0,168.8 128.0,167.3 129.0,165.8 130.0,164.4 131.0,163.2 132.0,162.0 133.0,161.1 134.0,160.3 135.0,159.6 136.0,158.9 137.0,158.1 138.0,157.2 139.0,156.3 140.0,155.6 141.0,155.0 142.0,154.7 143.0,154.4 144.0,154.1 145.0,153.6 146.0,152.9 147.0,152.2 148.0,151.4 149.0,150.7 150.0,150.2 151.0,149.9 152.0,149.9 153.0,149.8 154.0,149.7 155.0,149.5 156.0,149.2 157.0,149.0 158.0,148.9 159.0,148.9 160.0,148.7 161.0,148.6 162.0,148.5 163.0,148.4 164.0,148.3 165.0,148.1 166.0,147.7 167.0,147.2 168.0,146.7 169.0,146.6 170.0,147.4 171.0,148.6 172.0,149.6 173.0,149.9 174.0,148.7 175.0,146.9 176.0,145.3 177.0,144.8 178.0,145.7 179.0,147.3 180.0,148.7 181.0,149.3 182.0,148.7 183.0,147.4 184.0,146.4 185.0,146.2 186.0,147.1 187.0,148.5 188.0,149.9 189.0,151.2 190.0,152.5 191.0,153.8 192.0,155.1 193.0,156.6 194.0,158.6 195.0,161.0 196.0,163.4 197.0,165.7 198.0,167.9 199.0,170.4 200.0,172.9 201.0,175.4 202.0,177.8 203.0,180.0 204.0,182.0 205.0,183.8 206.0,185.7 207.0,187.6 208.0,189.6 209.0,191.7 210.0,193.8 211.0,195.9 212.0,198.1 213.0,200.3 214.0,202.6 215.0,204.9 216.0,207.3 217.0,209.6 218.0,211.7 219.0,213.6 220.0,215.4 221.0,217.1 222.0,218.9 223.0,220.9 224.0,223.0 225.0,225.1 226.0,227.2 227.0,229.2 228.0,231.1 229.0,232.8 230.0,234.4 231.0,236.0 232.0,237.5 233.0,239.1 234.0,240.7 235.0,242.3 236.0,243.8 237.0,245.2 238.0,246.4 239.0,247.5 240.0,248.6 241.0,249.7 242.0,250.8 243.0,252.0 244.0,253.3 245.0,254.6 246.0,256.0 247.0,257.4 248.0,258.6 249.0,259.7 250.0,260.8 251.0,261.9 252.0,262.9 253.0,263.8 254.0,264.5 255.0,265.0 256.0,265.4 257.0,265.8 258.0,266.2 259.0,266.7 260.0,267.1 261.0,267.7 262.0,268.3 263.0,269.1 264.0,270.2 265.0,271.3 266.0,272.4 267.0,273.4 268.0,274.5 269.0,275.6 270.0,276.9 271.0,278.1 272.0,278.9 273.0,279.4 274.0,279.8 275.0,280.3 276.0,280.7 277.0,281.1 278.0,281.5 279.0,281.9 280.0,282.5 281.0,283.2 282.0,283.9 283.0,284.7 284.0,285.5 285.0,286.4 286.0,287.4 287.0,288.5 288.0,289.7 289.0,290.9 290.0,292.1 291.0,293.4 292.0,294.7 293.0,296.0 294.0,297.3 295.0,298.4 296.0,299.4 297.0,300.3 298.0,301.1 299.0,301.9 300.0,302.4 301.0,303.0 302.0,303.4 303.0,303.8 304.0,304.2 305.0,304.4 306.0,304.6 307.0,304.7 308.0,304.9 309.0,305.0 310.0,305.1 311.0,305.2 312.0,305.3 313.0,305.4 314.0,305.5 315.0,305.5 316.0,305.5 M48.0,301.1 49.0,301.1 50.0,301.1 51.0,301.1 52.0,301.0 53.0,300.9 54.0,300.9 55.0,300.9 56.0,301.0 57.0,301.0 58.0,301.1 59.0,301.1 60.0,301.1 61.0,301.1 62.0,301.1 63.0,301.1 64.0,301.1 65.0,301.0 66.0,301.0 67.0,300.9 68.0,300.9 69.0,300.9 70.0,300.9 71.0,301.0 72.0,301.0 73.0,301.0 74.0,301.0 75.0,301.0 76.0,301.0 77.0,301.0 78.0,300.9 79.0,300.9 80.0,300.9 81.0,300.9 82.0,300.9 83.0,300.9 84.0,300.9 85.0,300.9 86.0,300.9 87.0,300.8 88.0,300.7 89.0,300.5 90.0,300.3 91.0,300.0 92.0,299.5 93.0,298.8 94.0,297.7 95.0,295.8 96.0,293.3 97.0,290.8 98.0,288.4 99.0,285.9 100.0,282.9 101.0,279.2 102.0,273.8 103.0,267.6 104.0,261.4 105.0,254.6 106.0,247.5 107.0,239.9 108.0,232.3 109.0,225.9 110.0,220.3 111.0,215.1 112.0,210.3 113.0,206.2 114.0,202.8 115.0,199.7 116.0,196.7 117.0,193.9 118.0,191.1 119.0,188.3 120.0,185.6 121.0,183.0 122.0,180.5 123.0,178.3 124.0,176.4 125.0,174.9 126.0,173.4 127.0,172.0 128.0,170.4 129.0,168.7 130.0,166.9 131.0,165.1 132.0,163.4 133.0,162.0 134.0,160.9 135.0,160.1 136.0,159.5 137.0,159.0 138.0,158.5 139.0,157.9 140.0,157.3 141.0,156.7 142.0,156.2 143.0,155.6 144.0,154.9 145.0,154.1 146.0,153.4 147.0,153.0 148.0,152.9 149.0,153.0 150.0,153.1 151.0,153.1 152.0,153.0 153.0,152.7 154.0,152.4 155.0,151.9 156.0,151.2 157.0,150.5 158.0,149.9 159.0,149.4 160.0,149.3 161.0,149.4 162.0,149.7 163.0,149.9 164.0,149.9 165.0,149.5 166.0,148.9 167.0,148.2 168.0,147.5 169.0,147.3 170.0,147.9 171.0,149.0 172.0,150.0 173.0,150.1 174.0,148.9 175.0,147.3 176.0,146.0 177.0,145.8 178.0,146.8 179.0,148.3 180.0,149.6 181.0,150.2 182.0,149.8 183.0,148.9 184.0,148.1 185.0,148.0 186.0,148.8 187.0,150.0 188.0,151.3 189.0,152.6 190.0,154.0 191.0,155.3 192.0,156.7 193.0,158.2 194.0,160.1 195.0,162.3 196.0,164.6 197.0,167.0 198.0,169.4 199.0,172.0 200.0,174.7 201.0,177.3 202.0,179.6 203.0,181.7 204.0,183.7 205.0,185.8 206.0,188.0 207.0,190.1 208.0,192.3 209.0,194.3 210.0,196.4 211.0,198.6 212.0,200.9 213.0,203.3 214.0,205.8 215.0,208.2 216.0,210.6 217.0,212.8 218.0,214.9 219.0,216.9 220.0,218.9 221.0,220.7 222.0,222.5 223.0,224.1 224.0,225.5 225.0,226.8 226.0,228.1 227.0,229.7 228.0,231.5 229.0,233.5 230.0,235.5 231.0,237.4 232.0,239.0 233.0,240.5 234.0,241.9 235.0,243.3 236.0,244.8 237.0,246.4 238.0,248.1 239.0,249.6 240.0,250.9 241.0,252.1 242.0,253.2 243.0,254.4 244.0,255.7 245.0,256.9 246.0,258.1 247.0,259.1 248.0,260.1 249.0,260.9 250.0,261.6 251.0,262.3 252.0,263.0 253.0,263.8 254.0,264.6 255.0,265.4 256.0,266.1 257.0,266.7 258.0,267.2 259.0,267.6 260.0,268.2 261.0,268.9 262.0,269.7 263.0,270.5 264.0,271.4 265.0,272.3 266.0,273.3 267.0,274.2 268.0,275.2 269.0,276.2 270.0,277.3 271.0,278.3 272.0,279.0 273.0,279.5 274.0,280.1 275.0,280.6 276.0,280.9 277.0,281.2 278.0,281.4 279.0,281.8 280.0,282.3 281.0,283.1 282.0,283.9 283.0,284.8 284.0,285.6 285.0,286.5 286.0,287.6 287.0,288.8 288.0,290.1 289.0,291.3 290.0,292.5 291.0,293.7 292.0,294.9 293.0,296.2 294.0,297.4 295.0,298.5 296.0,299.5 297.0,300.4 298.0,301.2 299.0,301.9 300.0,302.5 301.0,303.1 302.0,303.6 303.0,304.0 304.0,304.4 305.0,304.6 306.0,304.7 307.0,304.9 308.0,305.0 309.0,305.2 310.0,305.3 311.0,305.4 312.0,305.5 313.0,305.6 314.0,305.6 315.0,305.7 316.0,305.7 M48.0,301.0 49.0,301.0 50.0,301.0 51.0,301.0 52.0,301.1 53.0,301.1 54.0,301.1 55.0,301.1 56.0,301.1 57.0,301.1 58.0,301.1 59.0,301.1 60.0,301.1 61.0,301.1 62.0,301.1 63.0,301.1 64.0,301.1 65.0,301.1 66.0,301.1 67.0,301.1 68.0,301.2 69.0,301.2 70.0,301.2 71.0,301.2 72.0,301.2 73.0,301.2 74.0,301.2 75.0,301.2 76.0,301.2 77.0,301.2 78.0,301.2 79.0,301.2 80.0,301.2 81.0,301.1 82.0,301.1 83.0,301.1 84.0,301.1 85.0,301.1 86.0,301.2 87.0,301.2 88.0,301.1 89.0,300.9 90.0,300.6 91.0,300.3 92.0,299.8 93.0,299.2 94.0,298.1 95.0,296.4 96.0,294.1 97.0,291.8 98.0,289.4 99.0,286.7 100.0,283.7 101.0,279.9 102.0,274.8 103.0,268.9 104.0,263.1 105.0,256.8 106.0,250.1 107.0,243.2 108.0,236.2 109.0,230.1 110.0,224.4 111.0,219.0 112.0,213.9 113.0,209.7 114.0,206.2 115.0,203.1 116.0,200.2 117.0,197.5 118.0,194.9 119.0,192.4 120.0,189.8 121.0,187.1 122.0,184.5 123.0,181.9 124.0,179.6 125.0,177.5 126.0,175.8 127.0,174.2 128.0,172.8 129.0,171.4 130.0,169.8 131.0,168.1 132.0,166.5 133.0,165.1 134.0,163.9 135.0,162.9 136.0,162.0 137.0,161.1 138.0,160.5 139.0,159.9 140.0,159.4 141.0,159.0 142.0,158.5 143.0,158.1 144.0,157.6 145.0,157.0 146.0,156.3 147.0,155.5 148.0,154.7 149.0,154.2 150.0,153.8 151.0,153.6 152.0,153.4 153.0,153.2 154.0,152.9 155.0,152.5 156.0,152.1 157.0,151.6 158.0,151.1 159.0,150.7 160.0,150.5 161.0,150.5 162.0,150.6 163.0,150.8 164.0,150.9 165.0,150.8 166.0,150.7 167.0,150.5 168.0,150.5 169.0,150.7 170.0,151.2 171.0,151.8 172.0,152.1 173.0,151.9 174.0,151.0 175.0,149.8 176.0,148.7 177.0,148.4 178.0,148.9 179.0,150.0 180.0,151.2 181.0,151.9 182.0,152.1 183.0,152.0 184.0,151.8 185.0,152.0 186.0,152.6 187.0,153.4 188.0,154.2 189.0,155.1 190.0,156.2 191.0,157.5 192.0,158.9 193.0,160.5 194.0,162.6 195.0,165.0 196.0,167.5 197.0,170.0 198.0,172.5 199.0,175.1 200.0,177.6 201.0,180.0 202.0,182.3 203.0,184.6 204.0,186.9 205.0,189.1 206.0,191.1 207.0,193.0 208.0,194.9 209.0,197.0 210.0,199.2 211.0,201.6 212.0,204.2 213.0,206.8 214.0,209.4 215.0,211.6 216.0,213.6 217.0,215.4 218.0,217.2 219.0,219.1 220.0,221.1 221.0,222.9 222.0,224.7 223.0,226.5 224.0,228.1 225.0,229.6 226.0,231.1 227.0,232.7 228.0,234.4 229.0,236.1 230.0,237.7 231.0,239.2 232.0,240.5 233.0,241.7 234.0,243.0 235.0,244.4 236.0,245.9 237.0,247.6 238.0,249.4 239.0,251.2 240.0,252.7 241.0,253.8 242.0,254.8 243.0,255.8 244.0,256.6 245.0,257.4 246.0,258.2 247.0,259.0 248.0,260.0 249.0,260.9 250.0,261.8 251.0,262.6 252.0,263.3 253.0,263.8 254.0,264.1 255.0,264.3 256.0,264.8 257.0,265.5 258.0,266.5 259.0,267.5 260.0,268.5 261.0,269.3 262.0,270.0 263.0,270.6 264.0,271.4 265.0,272.1 266.0,272.9 267.0,273.7 268.0,274.6 269.0,275.8 270.0,277.3 271.0,278.9 272.0,280.1 273.0,280.9 274.0,281.2 275.0,281.5 276.0,281.7 277.0,282.0 278.0,282.4 279.0,282.7 280.0,283.0 281.0,283.3 282.0,283.7 283.0,284.4 284.0,285.3 285.0,286.5 286.0,287.8 287.0,289.2 288.0,290.6 289.0,291.9 290.0,293.2 291.0,294.4 292.0,295.6 293.0,296.8 294.0,298.0 295.0,298.9 296.0,299.8 297.0,300.7 298.0,301.5 299.0,302.2 300.0,302.8 301.0,303.3 302.0,303.8 303.0,304.2 304.0,304.5 305.0,304.8 306.0,305.0 307.0,305.1 308.0,305.3 309.0,305.4 310.0,305.5 311.0,305.6 312.0,305.7 313.0,305.8 314.0,305.9 315.0,305.9 316.0,305.9 M48.0,301.4 49.0,301.4 50.0,301.4 51.0,301.4 52.0,301.4 53.0,301.3 54.0,301.3 55.0,301.3 56.0,301.2 57.0,301.3 58.0,301.3 59.0,301.3 60.0,301.3 61.0,301.3 62.0,301.3 63.0,301.3 64.0,301.4 65.0,301.4 66.0,301.3 67.0,301.3 68.0,301.3 69.0,301.2 70.0,301.2 71.0,301.2 72.0,301.2 73.0,301.2 74.0,301.2 75.0,301.2 76.0,301.3 77.0,301.3 78.0,301.3 79.0,301.3 80.0,301.3 81.0,301.3 82.0,301.3 83.0,301.3 84.0,301.3 85.0,301.3 86.0,301.3 87.0,301.3 88.0,301.2 89.0,301.1 90.0,300.9 91.0,300.6 92.0,300.2 93.0,299.7 94.0,298.7 95.0,297.1 96.0,295.1 97.0,293.0 98.0,290.8 99.0,288.3 100.0,285.6 101.0,282.4 102.0,278.2 103.0,273.4 104.0,267.8 105.0,261.1 106.0,253.9 107.0,246.8 108.0,239.9 109.0,233.7 110.0,228.1 111.0,222.5 112.0,217.1 113.0,212.6 114.0,208.9 115.0,205.7 116.0,202.9 117.0,200.2 118.0,197.7 119.0,195.2 120.0,192.6 121.0,189.9 122.0,187.3 123.0,184.8 124.0,182.4 125.0,180.2 126.0,178.0 127.0,176.1 128.0,174.4 129.0,173.0 130.0,171.8 131.0,170.5 132.0,169.3 133.0,168.1 134.0,167.0 135.0,165.9 136.0,165.0 137.0,164.0 138.0,163.2 139.0,162.4 140.0,161.6 141.0,160.7 142.0,159.9 143.0,159.3 144.0,158.8 145.0,158.6 146.0,158.5 147.0,158.3 148.0,158.1 149.0,157.7 150.0,157.2 151.0,156.7 152.0,156.2 153.0,155.6 154.0,155.1 155.0,154.8 156.0,154.6 157.0,154.3 158.0,153.9 159.0,153.5 160.0,153.3 161.0,153.3 162.0,153.4 163.0,153.5 164.0,153.6 165.0,153.6 166.0,153.4 167.0,153.2 168.0,153.0 169.0,153.0 170.0,152.9 171.0,152.8 172.0,152.5 173.0,152.3 174.0,152.1 175.0,151.8 176.0,151.4 177.0,151.2 178.0,151.5 179.0,152.0 180.0,152.7 181.0,153.2 182.0,153.4 183.0,153.5 184.0,153.6 185.0,154.2 186.0,155.3 187.0,156.5 188.0,157.5 189.0,158.3 190.0,159.1 191.0,160.1 192.0,161.5 193.0,163.3 194.0,165.7 195.0,168.4 196.0,171.0 197.0,173.3 198.0,175.4 199.0,177.7 200.0,180.3 201.0,183.0 202.0,185.5 203.0,187.7 204.0,189.6 205.0,191.4 206.0,193.4 207.0,195.7 208.0,198.3 209.0,200.9 210.0,203.5 211.0,205.9 212.0,208.0 213.0,209.9 214.0,211.8 215.0,213.7 216.0,215.7 217.0,217.8 218.0,220.1 219.0,222.3 220.0,224.5 221.0,226.5 222.0,228.4 223.0,229.9 224.0,231.3 225.0,232.6 226.0,234.0 227.0,235.5 228.0,237.2 229.0,239.0 230.0,240.7 231.0,242.3 232.0,243.7 233.0,245.0 234.0,246.1 235.0,247.3 236.0,248.5 237.0,249.8 238.0,251.2 239.0,252.6 240.0,254.1 241.0,255.4 242.0,256.8 243.0,258.1 244.0,259.4 245.0,260.4 246.0,261.1 247.0,261.5 248.0,261.6 249.0,261.8 250.0,262.1 251.0,262.7 252.0,263.5 253.0,264.3 254.0,265.1 255.0,265.8 256.0,266.5 257.0,267.0 258.0,267.5 259.0,267.9 260.0,268.5 261.0,269.3 262.0,270.2 263.0,271.2 264.0,272.1 265.0,273.1 266.0,274.0 267.0,275.0 268.0,276.1 269.0,277.3 270.0,278.7 271.0,279.9 272.0,280.7 273.0,281.2 274.0,281.5 275.0,281.6 276.0,281.8 277.0,281.9 278.0,282.1 279.0,282.4 280.0,282.9 281.0,283.6 282.0,284.5 283.0,285.4 284.0,286.3 285.0,287.2 286.0,288.1 287.0,289.1 288.0,290.3 289.0,291.5 290.0,292.7 291.0,294.0 292.0,295.4 293.0,296.7 294.0,298.0 295.0,299.1 296.0,300.0 297.0,300.8 298.0,301.6 299.0,302.4 300.0,303.0 301.0,303.5 302.0,304.1 303.0,304.5 304.0,304.8 305.0,305.1 306.0,305.2 307.0,305.3 308.0,305.5 309.0,305.6 310.0,305.7 311.0,305.8 312.0,305.9 313.0,306.0 314.0,306.0 315.0,306.1 316.0,306.1 M48.0,301.4 49.0,301.4 50.0,301.4 51.0,301.4 52.0,301.5 53.0,301.5 54.0,301.5 55.0,301.5 56.0,301.5 57.0,301.5 58.0,301.5 59.0,301.5 60.0,301.5 61.0,301.5 62.0,301.5 63.0,301.5 64.0,301.5 65.0,301.5 66.0,301.4 67.0,301.4 68.0,301.4 69.0,301.4 70.0,301.4 71.0,301.4 72.0,301.4 73.0,301.4 74.0,301.4 75.0,301.4 76.0,301.4 77.0,301.4 78.0,301.4 79.0,301.4 80.0,301.3 81.0,301.3 82.0,301.3 83.0,301.3 84.0,301.3 85.0,301.3 86.0,301.3 87.0,301.2 88.0,301.2 89.0,301.1 90.0,301.0 91.0,300.7 92.0,300.4 93.0,300.1 94.0,299.2 95.0,297.9 96.0,296.3 97.0,294.6 98.0,292.5 99.0,290.2 100.0,287.4 101.0,284.0 102.0,279.6 103.0,274.6 104.0,269.1 105.0,262.7 106.0,256.1 107.0,249.8 108.0,243.5 109.0,237.4 110.0,231.5 111.0,225.2 112.0,219.2 113.0,214.2 114.0,210.3 115.0,207.2 116.0,204.6 117.0,202.2 118.0,199.8 119.0,197.4 120.0,195.0 121.0,192.6 122.0,190.2 123.0,187.8 124.0,185.6 125.0,183.5 126.0,181.7 127.0,180.1 128.0,178.5 129.0,177.0 130.0,175.2 131.0,173.4 132.0,171.5 133.0,169.9 134.0,168.5 135.0,167.4 136.0,166.6 137.0,165.9 138.0,165.2 139.0,164.4 140.0,163.4 141.0,162.4 142.0,161.5 143.0,160.6 144.0,160.0 145.0,159.6 146.0,159.3 147.0,158.9 148.0,158.5 149.0,158.0 150.0,157.6 151.0,157.2 152.0,156.9 153.0,156.7 154.0,156.5 155.0,156.4 156.0,156.3 157.0,156.1 158.0,156.0 159.0,155.9 160.0,155.9 161.0,155.8 162.0,155.6 163.0,155.3 164.0,154.9 165.0,154.6 166.0,154.5 167.0,154.4 168.0,154.3 169.0,154.1 170.0,153.9 171.0,153.7 172.0,153.6 173.0,153.7 174.0,153.7 175.0,153.6 176.0,153.4 177.0,153.2 178.0,153.0 179.0,152.9 180.0,153.1 181.0,153.5 182.0,154.0 183.0,154.3 184.0,154.5 185.0,154.8 186.0,155.6 187.0,156.6 188.0,157.7 189.0,158.7 190.0,159.9 191.0,161.1 192.0,162.6 193.0,164.6 194.0,167.4 195.0,170.6 196.0,173.8 197.0,176.4 198.0,178.6 199.0,180.7 200.0,182.9 201.0,185.3 202.0,187.9 203.0,190.5 204.0,192.9 205.0,195.0 206.0,196.9 207.0,198.8 208.0,200.6 209.0,202.6 210.0,204.9 211.0,207.4 212.0,210.1 213.0,212.7 214.0,215.0 215.0,216.7 216.0,218.2 217.0,219.7 218.0,221.5 219.0,223.6 220.0,225.8 221.0,227.9 222.0,229.7 223.0,231.1 224.0,232.4 225.0,233.8 226.0,235.3 227.0,237.0 228.0,238.8 229.0,240.6 230.0,242.1 231.0,243.5 232.0,244.9 233.0,246.1 234.0,247.4 235.0,248.7 236.0,250.0 237.0,251.4 238.0,252.7 239.0,254.1 240.0,255.4 241.0,256.5 242.0,257.5 243.0,258.5 244.0,259.5 245.0,260.4 246.0,261.3 247.0,261.9 248.0,262.4 249.0,262.7 250.0,263.1 251.0,263.6 252.0,264.3 253.0,265.0 254.0,265.6 255.0,266.0 256.0,266.4 257.0,266.9 258.0,267.6 259.0,268.5 260.0,269.3 261.0,269.9 262.0,270.5 263.0,271.1 264.0,271.9 265.0,272.9 266.0,274.0 267.0,275.2 268.0,276.5 269.0,277.7 270.0,279.0 271.0,279.9 272.0,280.5 273.0,280.7 274.0,281.0 275.0,281.3 276.0,281.7 277.0,282.1 278.0,282.5 279.0,282.9 280.0,283.4 281.0,284.0 282.0,284.7 283.0,285.5 284.0,286.4 285.0,287.3 286.0,288.2 287.0,289.3 288.0,290.5 289.0,291.7 290.0,292.9 291.0,294.3 292.0,295.7 293.0,297.1 294.0,298.4 295.0,299.5 296.0,300.4 297.0,301.2 298.0,302.0 299.0,302.6 300.0,303.2 301.0,303.7 302.0,304.1 303.0,304.6 304.0,304.9 305.0,305.1 306.0,305.3 307.0,305.5 308.0,305.6 309.0,305.8 310.0,305.9 311.0,306.0 312.0,306.1 313.0,306.1 314.0,306.2 315.0,306.2 316.0,306.2 M48.0,301.5 49.0,301.5 50.0,301.5 51.0,301.6 52.0,301.6 53.0,301.6 54.0,301.6 55.0,301.6 56.0,301.6 57.0,301.6 58.0,301.5 59.0,301.5 60.0,301.5 61.0,301.6 62.0,301.5 63.0,301.5 64.0,301.5 65.0,301.5 66.0,301.5 67.0,301.5 68.0,301.5 69.0,301.5 70.0,301.5 71.0,301.5 72.0,301.5 73.0,301.5 74.0,301.5 75.0,301.5 76.0,301.5 77.0,301.5 78.0,301.5 79.0,301.5 80.0,301.5 81.0,301.5 82.0,301.6 83.0,301.6 84.0,301.6 85.0,301.6 86.0,301.6 87.0,301.6 88.0,301.5 89.0,301.4 90.0,301.2 91.0,301.0 92.0,300.6 93.0,300.2 94.0,299.4 95.0,298.0 96.0,296.4 97.0,294.7 98.0,292.7 99.0,290.4 100.0,287.8 101.0,284.8 102.0,281.1 103.0,277.0 104.0,272.0 105.0,265.8 106.0,259.1 107.0,252.7 108.0,246.2 109.0,240.1 110.0,234.3 111.0,228.4 112.0,222.7 113.0,217.8 114.0,213.7 115.0,209.9 116.0,206.8 117.0,204.2 118.0,202.0 119.0,199.9 120.0,197.7 121.0,195.2 122.0,192.6 123.0,190.1 124.0,187.7 125.0,185.4 126.0,183.3 127.0,181.3 128.0,179.4 129.0,177.6 130.0,175.8 131.0,174.2 132.0,172.7 133.0,171.4 134.0,170.4 135.0,169.4 136.0,168.5 137.0,167.4 138.0,166.3 139.0,165.1 140.0,164.0 141.0,162.9 142.0,161.7 143.0,160.8 144.0,160.1 145.0,159.6 146.0,159.3 147.0,159.0 148.0,158.7 149.0,158.5 150.0,158.3 151.0,158.1 152.0,157.9 153.0,157.6 154.0,157.3 155.0,156.9 156.0,156.6 157.0,156.2 158.0,156.1 159.0,156.1 160.0,156.1 161.0,156.0 162.0,155.7 163.0,155.2 164.0,154.9 165.0,154.8 166.0,154.9 167.0,155.1 168.0,155.2 169.0,155.1 170.0,154.8 171.0,154.6 172.0,154.4 173.0,154.2 174.0,154.0 175.0,153.8 176.0,153.8 177.0,154.0 178.0,154.2 179.0,154.4 180.0,154.6 181.0,154.8 182.0,154.9 183.0,155.0 184.0,155.1 185.0,155.6 186.0,156.7 187.0,158.1 188.0,159.5 189.0,160.6 190.0,161.7 191.0,163.0 192.0,164.6 193.0,166.9 194.0,169.8 195.0,173.0 196.0,176.1 197.0,178.7 198.0,181.0 199.0,183.0 200.0,184.8 201.0,186.6 202.0,188.4 203.0,190.4 204.0,192.7 205.0,195.1 206.0,197.6 207.0,200.1 208.0,202.5 209.0,204.8 210.0,207.1 211.0,209.4 212.0,211.6 213.0,213.8 214.0,215.9 215.0,217.9 216.0,220.0 217.0,222.1 218.0,224.2 219.0,226.5 220.0,228.7 221.0,230.7 222.0,232.5 223.0,234.0 224.0,235.4 225.0,236.7 226.0,237.9 227.0,239.2 228.0,240.4 229.0,241.8 230.0,243.3 231.0,244.8 232.0,246.3 233.0,247.9 234.0,249.8 235.0,251.6 236.0,253.1 237.0,254.3 238.0,255.1 239.0,255.8 240.0,256.5 241.0,257.4 242.0,258.3 243.0,259.2 244.0,259.9 245.0,260.6 246.0,261.4 247.0,262.1 248.0,262.8 249.0,263.6 250.0,264.3 251.0,265.0 252.0,265.6 253.0,266.2 254.0,266.5 255.0,266.7 256.0,266.9 257.0,267.2 258.0,267.5 259.0,268.1 260.0,268.7 261.0,269.3 262.0,270.0 263.0,270.7 264.0,271.6 265.0,272.6 266.0,273.7 267.0,274.8 268.0,275.8 269.0,276.8 270.0,277.9 271.0,279.0 272.0,279.8 273.0,280.3 274.0,280.8 275.0,281.2 276.0,281.5 277.0,281.8 278.0,282.2 279.0,282.6 280.0,283.1 281.0,283.8 282.0,284.6 283.0,285.4 284.0,286.4 285.0,287.4 286.0,288.5 287.0,289.7 288.0,290.9 289.0,292.3 290.0,293.5 291.0,294.8 292.0,296.1 293.0,297.4 294.0,298.5 295.0,299.5 296.0,300.4 297.0,301.2 298.0,302.0 299.0,302.7 300.0,303.3 301.0,303.8 302.0,304.3 303.0,304.7 304.0,305.1 305.0,305.3 306.0,305.4 307.0,305.6 308.0,305.7 309.0,305.9 310.0,306.0 311.0,306.1 312.0,306.2 313.0,306.2 314.0,306.3 315.0,306.3 316.0,306.3"/></g>
<g clip-path="url(#cX)" fill="#fff" stroke="#fff" stroke-width="0.6" stroke-linejoin="round"><polygon points="146.5,150 146.5,20 150.1,20 150.1,150"/><polygon points="152.5,150 152.6,82 153.4,80.5 154.2,82 154.3,150"/><polygon points="160,148 160.1,134.5 160.75,133 161.4,134.5 161.5,148"/><polygon points="246.2,258 246.2,138 247.2,136 249,136 249.9,138 249.9,258"/><polygon points="251.3,262 251.3,215 256.5,134 257.5,133 258.5,134 263.6,215 263.6,264"/><polygon points="260.5,215 260.7,137 262,136 263.4,137 264,264 260.5,262"/><polygon points="245.5,188 263.7,188 263.7,264 259,260 257,252 255,262 252,254 249,260 247,262 245.5,256"/><polygon points="264.8,276 265.2,198 266.5,196 267.8,198 269.5,240 269.5,279"/><polygon points="276.5,282 276.5,184 278,182 279.5,184 279.5,283"/></g>
<path d="M49.3,231 L49.6,300" stroke="#fff" stroke-width="1" opacity="0.8" fill="none"/>
<g clip-path="url(#cY)" fill="none" stroke="#fff" stroke-width="2" stroke-linejoin="round" stroke-linecap="round"><path d="M328.0,300.4 329.0,300.4 330.0,300.4 331.0,300.4 332.0,300.3 333.0,300.3 334.0,300.3 335.0,300.3 336.0,300.3 337.0,300.2 338.0,300.2 339.0,300.2 340.0,300.2 341.0,300.3 342.0,300.3 343.0,300.3 344.0,300.4 345.0,300.4 346.0,300.4 347.0,300.4 348.0,300.3 349.0,300.3 350.0,300.3 351.0,300.3 352.0,300.3 353.0,300.3 354.0,300.3 355.0,300.3 356.0,300.3 357.0,300.3 358.0,300.2 359.0,300.2 360.0,300.1 361.0,300.1 362.0,300.1 363.0,300.2 364.0,300.2 365.0,300.2 366.0,300.2 367.0,300.2 368.0,300.1 369.0,300.0 370.0,299.9 371.0,299.8 372.0,299.8 373.0,299.7 374.0,299.5 375.0,299.2 376.0,298.9 377.0,298.5 378.0,298.0 379.0,297.1 380.0,296.0 381.0,294.2 382.0,291.3 383.0,287.9 384.0,284.2 385.0,279.8 386.0,275.2 387.0,269.8 388.0,264.1 389.0,258.7 390.0,254.2 391.0,250.5 392.0,247.1 393.0,243.9 394.0,240.9 395.0,238.2 396.0,235.8 397.0,233.6 398.0,231.5 399.0,229.6 400.0,227.6 401.0,225.7 402.0,223.8 403.0,222.1 404.0,220.6 405.0,219.2 406.0,217.9 407.0,216.6 408.0,215.3 409.0,214.0 410.0,212.8 411.0,211.7 412.0,210.8 413.0,210.1 414.0,209.6 415.0,209.1 416.0,208.7 417.0,208.2 418.0,207.8 419.0,207.3 420.0,206.8 421.0,206.3 422.0,205.8 423.0,205.2 424.0,204.7 425.0,204.3 426.0,204.0 427.0,203.8 428.0,203.7 429.0,203.5 430.0,203.3 431.0,202.9 432.0,202.5 433.0,202.2 434.0,201.9 435.0,201.6 436.0,201.3 437.0,200.7 438.0,200.0 439.0,199.4 440.0,198.9 441.0,198.5 442.0,198.1 443.0,197.7 444.0,197.2 445.0,196.6 446.0,195.9 447.0,195.2 448.0,194.5 449.0,193.8 450.0,193.0 451.0,192.1 452.0,191.2 453.0,190.2 454.0,189.4 455.0,188.9 456.0,189.0 457.0,189.6 458.0,190.3 459.0,190.6 460.0,190.0 461.0,188.9 462.0,188.1 463.0,188.4 464.0,189.3 465.0,188.9 466.0,186.6 467.0,185.1 468.0,185.8 469.0,187.3 470.0,188.8 471.0,189.7 472.0,190.7 473.0,191.8 474.0,193.1 475.0,194.4 476.0,195.9 477.0,197.6 478.0,199.4 479.0,201.4 480.0,203.5 481.0,205.6 482.0,207.6 483.0,209.6 484.0,211.7 485.0,213.9 486.0,216.0 487.0,218.2 488.0,220.3 489.0,222.4 490.0,224.5 491.0,226.5 492.0,228.4 493.0,230.4 494.0,232.3 495.0,234.3 496.0,236.3 497.0,238.2 498.0,240.1 499.0,242.0 500.0,243.9 501.0,245.8 502.0,247.7 503.0,249.6 504.0,251.3 505.0,253.0 506.0,254.4 507.0,255.8 508.0,257.1 509.0,258.5 510.0,259.9 511.0,261.5 512.0,263.2 513.0,264.8 514.0,266.3 515.0,267.7 516.0,268.8 517.0,269.7 518.0,270.7 519.0,271.7 520.0,273.0 521.0,274.5 522.0,276.1 523.0,277.7 524.0,278.9 525.0,279.7 526.0,280.1 527.0,280.4 528.0,280.7 529.0,281.0 530.0,281.3 531.0,281.6 532.0,282.0 533.0,282.4 534.0,282.8 535.0,283.2 536.0,283.6 537.0,283.8 538.0,283.9 539.0,284.1 540.0,284.4 541.0,284.7 542.0,284.9 543.0,285.1 544.0,285.2 545.0,285.4 546.0,285.6 547.0,285.8 548.0,286.0 549.0,286.2 550.0,286.4 551.0,286.5 552.0,286.7 553.0,286.9 554.0,287.3 555.0,287.7 556.0,288.1 557.0,288.7 558.0,289.4 559.0,290.3 560.0,291.1 561.0,292.0 562.0,292.8 563.0,293.4 564.0,294.0 565.0,294.6 566.0,295.2 567.0,295.8 568.0,296.5 569.0,297.1 570.0,297.7 571.0,298.3 572.0,298.7 573.0,299.2 574.0,299.6 575.0,300.0 576.0,300.4 577.0,300.8 578.0,301.2 579.0,301.5 580.0,301.9 581.0,302.3 582.0,302.6 583.0,302.9 584.0,303.2 585.0,303.5 586.0,303.8 587.0,304.1 588.0,304.4 589.0,304.7 590.0,305.0 591.0,305.3 592.0,305.5 593.0,305.8 594.0,306.0 595.0,306.3 596.0,306.5 M328.0,300.4 329.0,300.4 330.0,300.4 331.0,300.4 332.0,300.5 333.0,300.4 334.0,300.4 335.0,300.4 336.0,300.4 337.0,300.4 338.0,300.4 339.0,300.4 340.0,300.4 341.0,300.4 342.0,300.4 343.0,300.4 344.0,300.4 345.0,300.4 346.0,300.4 347.0,300.4 348.0,300.4 349.0,300.4 350.0,300.4 351.0,300.4 352.0,300.4 353.0,300.4 354.0,300.4 355.0,300.4 356.0,300.4 357.0,300.4 358.0,300.4 359.0,300.4 360.0,300.4 361.0,300.4 362.0,300.4 363.0,300.4 364.0,300.4 365.0,300.4 366.0,300.4 367.0,300.3 368.0,300.3 369.0,300.2 370.0,300.1 371.0,300.0 372.0,299.9 373.0,299.7 374.0,299.6 375.0,299.3 376.0,299.0 377.0,298.6 378.0,298.1 379.0,297.3 380.0,296.3 381.0,294.6 382.0,291.9 383.0,288.6 384.0,285.0 385.0,280.7 386.0,276.1 387.0,270.8 388.0,265.2 389.0,259.9 390.0,255.4 391.0,251.4 392.0,247.8 393.0,244.6 394.0,241.7 395.0,239.1 396.0,236.8 397.0,234.6 398.0,232.5 399.0,230.4 400.0,228.5 401.0,226.6 402.0,224.8 403.0,223.0 404.0,221.4 405.0,219.9 406.0,218.5 407.0,217.1 408.0,215.8 409.0,214.7 410.0,213.8 411.0,213.0 412.0,212.2 413.0,211.3 414.0,210.5 415.0,209.8 416.0,209.1 417.0,208.5 418.0,208.0 419.0,207.6 420.0,207.3 421.0,206.9 422.0,206.6 423.0,206.3 424.0,205.8 425.0,205.4 426.0,204.9 427.0,204.5 428.0,204.2 429.0,204.0 430.0,203.7 431.0,203.5 432.0,203.2 433.0,202.8 434.0,202.3 435.0,201.8 436.0,201.4 437.0,201.1 438.0,200.7 439.0,200.3 440.0,199.9 441.0,199.4 442.0,198.8 443.0,198.2 444.0,197.5 445.0,196.7 446.0,196.0 447.0,195.3 448.0,194.6 449.0,194.1 450.0,193.6 451.0,193.0 452.0,192.4 453.0,191.5 454.0,190.8 455.0,190.4 456.0,190.5 457.0,191.1 458.0,191.6 459.0,191.9 460.0,191.3 461.0,190.1 462.0,189.1 463.0,189.0 464.0,189.6 465.0,189.2 466.0,187.0 467.0,185.6 468.0,186.3 469.0,187.9 470.0,189.4 471.0,190.4 472.0,191.5 473.0,192.8 474.0,194.3 475.0,195.9 476.0,197.6 477.0,199.3 478.0,201.1 479.0,203.1 480.0,205.1 481.0,207.2 482.0,209.3 483.0,211.4 484.0,213.5 485.0,215.5 486.0,217.5 487.0,219.4 488.0,221.3 489.0,223.1 490.0,225.0 491.0,227.0 492.0,229.0 493.0,231.0 494.0,233.1 495.0,235.0 496.0,236.8 497.0,238.5 498.0,240.3 499.0,242.2 500.0,244.2 501.0,246.2 502.0,248.2 503.0,250.3 504.0,252.2 505.0,254.0 506.0,255.6 507.0,256.9 508.0,258.2 509.0,259.5 510.0,260.8 511.0,262.3 512.0,263.9 513.0,265.4 514.0,266.8 515.0,268.1 516.0,269.3 517.0,270.4 518.0,271.5 519.0,272.6 520.0,273.7 521.0,274.9 522.0,276.2 523.0,277.6 524.0,278.8 525.0,279.6 526.0,280.1 527.0,280.6 528.0,281.0 529.0,281.5 530.0,281.9 531.0,282.3 532.0,282.5 533.0,282.7 534.0,282.9 535.0,283.0 536.0,283.2 537.0,283.5 538.0,283.8 539.0,284.0 540.0,284.2 541.0,284.5 542.0,284.7 543.0,285.0 544.0,285.2 545.0,285.5 546.0,285.7 547.0,285.9 548.0,286.1 549.0,286.2 550.0,286.4 551.0,286.6 552.0,286.9 553.0,287.2 554.0,287.5 555.0,287.8 556.0,288.2 557.0,288.7 558.0,289.3 559.0,290.0 560.0,290.9 561.0,291.7 562.0,292.5 563.0,293.3 564.0,294.0 565.0,294.8 566.0,295.5 567.0,296.1 568.0,296.7 569.0,297.2 570.0,297.7 571.0,298.3 572.0,298.8 573.0,299.2 574.0,299.7 575.0,300.1 576.0,300.5 577.0,300.9 578.0,301.2 579.0,301.5 580.0,301.9 581.0,302.2 582.0,302.5 583.0,302.9 584.0,303.2 585.0,303.6 586.0,303.9 587.0,304.2 588.0,304.5 589.0,304.8 590.0,305.1 591.0,305.3 592.0,305.6 593.0,305.9 594.0,306.1 595.0,306.3 596.0,306.6 M328.0,300.6 329.0,300.6 330.0,300.6 331.0,300.5 332.0,300.5 333.0,300.4 334.0,300.4 335.0,300.4 336.0,300.4 337.0,300.4 338.0,300.5 339.0,300.5 340.0,300.6 341.0,300.6 342.0,300.5 343.0,300.5 344.0,300.5 345.0,300.5 346.0,300.5 347.0,300.6 348.0,300.6 349.0,300.5 350.0,300.5 351.0,300.5 352.0,300.5 353.0,300.5 354.0,300.5 355.0,300.5 356.0,300.5 357.0,300.4 358.0,300.4 359.0,300.4 360.0,300.4 361.0,300.4 362.0,300.4 363.0,300.4 364.0,300.4 365.0,300.4 366.0,300.4 367.0,300.4 368.0,300.3 369.0,300.3 370.0,300.2 371.0,300.1 372.0,299.9 373.0,299.8 374.0,299.6 375.0,299.4 376.0,299.1 377.0,298.8 378.0,298.2 379.0,297.4 380.0,296.3 381.0,294.6 382.0,291.8 383.0,288.7 384.0,285.4 385.0,281.6 386.0,277.6 387.0,272.7 388.0,267.2 389.0,261.8 390.0,257.1 391.0,253.1 392.0,249.4 393.0,246.1 394.0,243.0 395.0,240.2 396.0,237.6 397.0,235.3 398.0,233.2 399.0,231.4 400.0,229.8 401.0,228.1 402.0,226.4 403.0,224.8 404.0,223.3 405.0,221.9 406.0,220.5 407.0,219.0 408.0,217.5 409.0,216.2 410.0,215.1 411.0,214.2 412.0,213.5 413.0,212.8 414.0,212.1 415.0,211.5 416.0,210.9 417.0,210.4 418.0,210.1 419.0,209.8 420.0,209.4 421.0,208.9 422.0,208.3 423.0,207.6 424.0,207.0 425.0,206.4 426.0,206.0 427.0,205.7 428.0,205.5 429.0,205.4 430.0,205.4 431.0,205.2 432.0,204.9 433.0,204.5 434.0,203.9 435.0,203.2 436.0,202.6 437.0,202.1 438.0,201.7 439.0,201.4 440.0,201.0 441.0,200.6 442.0,200.0 443.0,199.5 444.0,198.8 445.0,198.2 446.0,197.7 447.0,197.2 448.0,196.6 449.0,195.9 450.0,195.1 451.0,194.4 452.0,193.6 453.0,192.8 454.0,191.9 455.0,191.3 456.0,191.3 457.0,191.8 458.0,192.5 459.0,192.9 460.0,192.2 461.0,190.9 462.0,189.8 463.0,189.7 464.0,190.2 465.0,189.8 466.0,187.7 467.0,186.3 468.0,186.9 469.0,188.3 470.0,189.8 471.0,191.0 472.0,192.4 473.0,193.9 474.0,195.5 475.0,197.1 476.0,198.8 477.0,200.4 478.0,202.2 479.0,204.0 480.0,206.1 481.0,208.2 482.0,210.4 483.0,212.3 484.0,214.2 485.0,216.1 486.0,218.0 487.0,220.1 488.0,222.4 489.0,224.6 490.0,226.7 491.0,228.5 492.0,230.2 493.0,231.8 494.0,233.5 495.0,235.3 496.0,237.2 497.0,239.2 498.0,241.3 499.0,243.2 500.0,245.2 501.0,247.2 502.0,249.2 503.0,251.4 504.0,253.4 505.0,255.3 506.0,256.9 507.0,258.4 508.0,259.6 509.0,260.6 510.0,261.6 511.0,262.7 512.0,264.0 513.0,265.4 514.0,266.9 515.0,268.3 516.0,269.6 517.0,270.8 518.0,271.9 519.0,273.0 520.0,274.3 521.0,275.6 522.0,276.9 523.0,278.1 524.0,279.0 525.0,279.7 526.0,280.2 527.0,280.6 528.0,281.0 529.0,281.4 530.0,281.9 531.0,282.3 532.0,282.7 533.0,283.0 534.0,283.2 535.0,283.4 536.0,283.6 537.0,283.8 538.0,284.1 539.0,284.4 540.0,284.7 541.0,284.9 542.0,285.1 543.0,285.2 544.0,285.3 545.0,285.5 546.0,285.7 547.0,286.0 548.0,286.3 549.0,286.6 550.0,286.8 551.0,287.0 552.0,287.1 553.0,287.2 554.0,287.4 555.0,287.7 556.0,288.0 557.0,288.5 558.0,289.2 559.0,290.1 560.0,291.1 561.0,292.1 562.0,293.0 563.0,293.7 564.0,294.4 565.0,295.0 566.0,295.7 567.0,296.3 568.0,296.9 569.0,297.4 570.0,297.9 571.0,298.4 572.0,298.9 573.0,299.3 574.0,299.7 575.0,300.1 576.0,300.5 577.0,300.9 578.0,301.3 579.0,301.8 580.0,302.1 581.0,302.5 582.0,302.8 583.0,303.1 584.0,303.4 585.0,303.7 586.0,304.0 587.0,304.3 588.0,304.6 589.0,304.8 590.0,305.1 591.0,305.4 592.0,305.7 593.0,305.9 594.0,306.2 595.0,306.4 596.0,306.7 M328.0,300.4 329.0,300.5 330.0,300.5 331.0,300.6 332.0,300.6 333.0,300.7 334.0,300.7 335.0,300.7 336.0,300.7 337.0,300.7 338.0,300.6 339.0,300.6 340.0,300.6 341.0,300.6 342.0,300.6 343.0,300.6 344.0,300.6 345.0,300.6 346.0,300.6 347.0,300.6 348.0,300.5 349.0,300.5 350.0,300.5 351.0,300.5 352.0,300.5 353.0,300.4 354.0,300.5 355.0,300.5 356.0,300.5 357.0,300.5 358.0,300.5 359.0,300.5 360.0,300.5 361.0,300.5 362.0,300.5 363.0,300.5 364.0,300.5 365.0,300.6 366.0,300.6 367.0,300.5 368.0,300.5 369.0,300.4 370.0,300.4 371.0,300.3 372.0,300.1 373.0,300.0 374.0,299.8 375.0,299.5 376.0,299.2 377.0,298.8 378.0,298.3 379.0,297.6 380.0,296.6 381.0,295.1 382.0,292.7 383.0,289.8 384.0,286.5 385.0,282.6 386.0,278.4 387.0,273.5 388.0,268.2 389.0,263.2 390.0,258.9 391.0,255.1 392.0,251.6 393.0,248.4 394.0,245.4 395.0,242.6 396.0,240.1 397.0,237.8 398.0,235.9 399.0,233.9 400.0,231.8 401.0,229.6 402.0,227.5 403.0,225.5 404.0,223.8 405.0,222.3 406.0,220.9 407.0,219.6 408.0,218.2 409.0,216.9 410.0,215.6 411.0,214.5 412.0,213.8 413.0,213.5 414.0,213.3 415.0,213.1 416.0,212.7 417.0,211.9 418.0,211.1 419.0,210.3 420.0,209.6 421.0,209.2 422.0,208.8 423.0,208.5 424.0,208.2 425.0,208.0 426.0,207.8 427.0,207.4 428.0,207.0 429.0,206.5 430.0,206.0 431.0,205.5 432.0,205.0 433.0,204.4 434.0,203.9 435.0,203.3 436.0,202.8 437.0,202.4 438.0,202.1 439.0,201.8 440.0,201.5 441.0,201.1 442.0,200.5 443.0,200.0 444.0,199.5 445.0,199.0 446.0,198.6 447.0,198.0 448.0,197.4 449.0,196.5 450.0,195.6 451.0,194.8 452.0,194.1 453.0,193.3 454.0,192.5 455.0,192.0 456.0,192.0 457.0,192.4 458.0,192.7 459.0,192.8 460.0,192.0 461.0,190.8 462.0,189.8 463.0,189.6 464.0,190.0 465.0,189.6 466.0,187.7 467.0,186.7 468.0,187.7 469.0,189.4 470.0,191.0 471.0,192.3 472.0,193.6 473.0,195.1 474.0,196.6 475.0,198.3 476.0,200.0 477.0,201.7 478.0,203.3 479.0,205.0 480.0,206.7 481.0,208.7 482.0,210.7 483.0,212.8 484.0,215.0 485.0,217.1 486.0,219.0 487.0,220.8 488.0,222.7 489.0,224.5 490.0,226.5 491.0,228.6 492.0,230.9 493.0,233.1 494.0,235.4 495.0,237.4 496.0,239.3 497.0,241.2 498.0,243.0 499.0,244.7 500.0,246.4 501.0,247.9 502.0,249.5 503.0,251.4 504.0,253.4 505.0,255.4 506.0,257.2 507.0,258.6 508.0,259.8 509.0,260.9 510.0,262.1 511.0,263.4 512.0,264.5 513.0,265.6 514.0,266.7 515.0,267.9 516.0,269.3 517.0,270.7 518.0,272.1 519.0,273.4 520.0,274.6 521.0,275.9 522.0,277.3 523.0,278.6 524.0,279.7 525.0,280.5 526.0,281.0 527.0,281.5 528.0,281.9 529.0,282.2 530.0,282.5 531.0,282.8 532.0,283.0 533.0,283.3 534.0,283.6 535.0,283.9 536.0,284.1 537.0,284.3 538.0,284.4 539.0,284.6 540.0,284.9 541.0,285.1 542.0,285.4 543.0,285.6 544.0,285.8 545.0,285.9 546.0,286.0 547.0,286.1 548.0,286.2 549.0,286.4 550.0,286.8 551.0,287.2 552.0,287.5 553.0,287.8 554.0,287.9 555.0,288.1 556.0,288.3 557.0,288.7 558.0,289.3 559.0,290.2 560.0,291.1 561.0,292.0 562.0,292.8 563.0,293.5 564.0,294.2 565.0,295.0 566.0,295.7 567.0,296.3 568.0,296.9 569.0,297.4 570.0,297.9 571.0,298.4 572.0,298.9 573.0,299.4 574.0,299.8 575.0,300.2 576.0,300.6 577.0,301.0 578.0,301.4 579.0,301.8 580.0,302.2 581.0,302.6 582.0,302.9 583.0,303.3 584.0,303.6 585.0,303.8 586.0,304.1 587.0,304.4 588.0,304.7 589.0,304.9 590.0,305.2 591.0,305.5 592.0,305.7 593.0,306.0 594.0,306.3 595.0,306.5 596.0,306.8 M328.0,300.7 329.0,300.7 330.0,300.7 331.0,300.7 332.0,300.7 333.0,300.7 334.0,300.7 335.0,300.7 336.0,300.7 337.0,300.7 338.0,300.7 339.0,300.7 340.0,300.7 341.0,300.7 342.0,300.7 343.0,300.7 344.0,300.7 345.0,300.7 346.0,300.7 347.0,300.7 348.0,300.7 349.0,300.6 350.0,300.6 351.0,300.6 352.0,300.6 353.0,300.6 354.0,300.6 355.0,300.6 356.0,300.7 357.0,300.7 358.0,300.7 359.0,300.7 360.0,300.7 361.0,300.8 362.0,300.8 363.0,300.8 364.0,300.8 365.0,300.8 366.0,300.8 367.0,300.7 368.0,300.6 369.0,300.5 370.0,300.4 371.0,300.3 372.0,300.2 373.0,300.0 374.0,299.9 375.0,299.7 376.0,299.4 377.0,299.0 378.0,298.6 379.0,297.9 380.0,297.0 381.0,295.6 382.0,293.4 383.0,290.7 384.0,287.7 385.0,284.3 386.0,280.4 387.0,275.6 388.0,270.3 389.0,265.1 390.0,260.7 391.0,256.6 392.0,252.8 393.0,249.4 394.0,246.5 395.0,243.9 396.0,241.6 397.0,239.3 398.0,237.0 399.0,234.6 400.0,232.2 401.0,229.9 402.0,227.9 403.0,226.2 404.0,224.7 405.0,223.5 406.0,222.2 407.0,220.9 408.0,219.5 409.0,218.2 410.0,217.1 411.0,216.1 412.0,215.3 413.0,214.7 414.0,214.2 415.0,213.8 416.0,213.4 417.0,212.9 418.0,212.2 419.0,211.6 420.0,211.0 421.0,210.5 422.0,210.2 423.0,209.8 424.0,209.6 425.0,209.3 426.0,209.0 427.0,208.6 428.0,208.1 429.0,207.5 430.0,207.0 431.0,206.6 432.0,206.3 433.0,206.0 434.0,205.6 435.0,205.3 436.0,204.8 437.0,204.4 438.0,203.9 439.0,203.4 440.0,202.9 441.0,202.3 442.0,201.8 443.0,201.2 444.0,200.6 445.0,200.0 446.0,199.3 447.0,198.8 448.0,198.3 449.0,197.8 450.0,197.4 451.0,196.8 452.0,196.1 453.0,195.1 454.0,194.1 455.0,193.4 456.0,193.2 457.0,193.4 458.0,193.9 459.0,194.2 460.0,193.9 461.0,193.1 462.0,192.5 463.0,192.4 464.0,192.6 465.0,192.0 466.0,189.9 467.0,188.6 468.0,189.1 469.0,190.7 470.0,192.5 471.0,193.9 472.0,195.3 473.0,196.7 474.0,198.2 475.0,199.7 476.0,201.3 477.0,202.8 478.0,204.3 479.0,205.9 480.0,207.7 481.0,209.6 482.0,211.7 483.0,213.7 484.0,215.8 485.0,217.8 486.0,219.8 487.0,221.8 488.0,223.8 489.0,225.7 490.0,227.5 491.0,229.3 492.0,231.1 493.0,233.0 494.0,235.0 495.0,237.1 496.0,239.1 497.0,241.2 498.0,243.2 499.0,245.0 500.0,246.7 501.0,248.3 502.0,250.0 503.0,251.7 504.0,253.4 505.0,255.1 506.0,256.8 507.0,258.6 508.0,260.3 509.0,261.8 510.0,263.1 511.0,264.2 512.0,265.4 513.0,266.7 514.0,268.0 515.0,269.2 516.0,270.3 517.0,271.2 518.0,272.1 519.0,272.9 520.0,273.9 521.0,275.3 522.0,276.8 523.0,278.2 524.0,279.4 525.0,280.3 526.0,280.9 527.0,281.4 528.0,281.8 529.0,282.2 530.0,282.6 531.0,283.0 532.0,283.4 533.0,283.7 534.0,283.9 535.0,284.1 536.0,284.3 537.0,284.5 538.0,284.8 539.0,285.0 540.0,285.1 541.0,285.3 542.0,285.5 543.0,285.6 544.0,285.9 545.0,286.1 546.0,286.4 547.0,286.6 548.0,286.8 549.0,286.9 550.0,287.0 551.0,287.2 552.0,287.4 553.0,287.6 554.0,287.9 555.0,288.2 556.0,288.6 557.0,289.1 558.0,289.8 559.0,290.6 560.0,291.5 561.0,292.3 562.0,293.1 563.0,293.8 564.0,294.5 565.0,295.2 566.0,295.8 567.0,296.4 568.0,297.0 569.0,297.6 570.0,298.1 571.0,298.6 572.0,299.1 573.0,299.6 574.0,300.0 575.0,300.4 576.0,300.8 577.0,301.2 578.0,301.6 579.0,302.0 580.0,302.3 581.0,302.7 582.0,303.0 583.0,303.3 584.0,303.6 585.0,303.9 586.0,304.2 587.0,304.5 588.0,304.7 589.0,305.0 590.0,305.3 591.0,305.6 592.0,305.9 593.0,306.1 594.0,306.4 595.0,306.6 596.0,306.8 M328.0,300.8 329.0,300.8 330.0,300.8 331.0,300.8 332.0,300.9 333.0,300.9 334.0,300.9 335.0,300.8 336.0,300.8 337.0,300.8 338.0,300.8 339.0,300.9 340.0,300.9 341.0,300.9 342.0,301.0 343.0,301.0 344.0,301.0 345.0,300.9 346.0,300.9 347.0,300.9 348.0,300.9 349.0,300.8 350.0,300.8 351.0,300.8 352.0,300.8 353.0,300.8 354.0,300.8 355.0,300.8 356.0,300.8 357.0,300.8 358.0,300.8 359.0,300.8 360.0,300.8 361.0,300.8 362.0,300.7 363.0,300.7 364.0,300.7 365.0,300.7 366.0,300.7 367.0,300.7 368.0,300.7 369.0,300.6 370.0,300.6 371.0,300.5 372.0,300.4 373.0,300.2 374.0,300.0 375.0,299.8 376.0,299.6 377.0,299.3 378.0,298.8 379.0,298.2 380.0,297.3 381.0,295.9 382.0,293.8 383.0,291.4 384.0,288.6 385.0,285.4 386.0,281.7 387.0,276.9 388.0,271.5 389.0,266.1 390.0,261.5 391.0,257.5 392.0,253.7 393.0,250.2 394.0,247.3 395.0,244.8 396.0,242.4 397.0,240.1 398.0,237.8 399.0,235.6 400.0,233.5 401.0,231.4 402.0,229.5 403.0,227.8 404.0,226.2 405.0,224.9 406.0,223.5 407.0,222.2 408.0,220.9 409.0,219.6 410.0,218.5 411.0,217.5 412.0,216.8 413.0,216.1 414.0,215.5 415.0,214.8 416.0,214.2 417.0,213.6 418.0,213.1 419.0,212.7 420.0,212.3 421.0,212.0 422.0,211.7 423.0,211.4 424.0,211.1 425.0,210.6 426.0,210.1 427.0,209.6 428.0,209.1 429.0,208.7 430.0,208.3 431.0,208.1 432.0,207.8 433.0,207.4 434.0,207.0 435.0,206.5 436.0,206.0 437.0,205.5 438.0,205.1 439.0,204.8 440.0,204.3 441.0,203.7 442.0,203.1 443.0,202.5 444.0,201.9 445.0,201.4 446.0,200.8 447.0,200.2 448.0,199.7 449.0,199.3 450.0,198.9 451.0,198.4 452.0,197.6 453.0,196.4 454.0,195.1 455.0,194.3 456.0,194.1 457.0,194.5 458.0,195.1 459.0,195.5 460.0,195.2 461.0,194.3 462.0,193.4 463.0,193.0 464.0,192.9 465.0,192.1 466.0,190.3 467.0,189.3 468.0,190.1 469.0,191.9 470.0,193.8 471.0,195.4 472.0,196.8 473.0,198.1 474.0,199.3 475.0,200.5 476.0,201.8 477.0,203.3 478.0,205.0 479.0,206.9 480.0,208.9 481.0,210.9 482.0,213.0 483.0,215.0 484.0,217.1 485.0,219.2 486.0,221.0 487.0,222.9 488.0,224.7 489.0,226.6 490.0,228.6 491.0,230.7 492.0,232.9 493.0,235.0 494.0,236.9 495.0,238.7 496.0,240.3 497.0,241.8 498.0,243.3 499.0,245.0 500.0,246.8 501.0,248.9 502.0,250.9 503.0,252.8 504.0,254.6 505.0,256.2 506.0,257.9 507.0,259.4 508.0,260.8 509.0,262.0 510.0,263.2 511.0,264.5 512.0,265.9 513.0,267.4 514.0,268.8 515.0,270.1 516.0,271.3 517.0,272.4 518.0,273.4 519.0,274.3 520.0,275.3 521.0,276.6 522.0,278.0 523.0,279.4 524.0,280.5 525.0,281.2 526.0,281.7 527.0,282.1 528.0,282.4 529.0,282.7 530.0,282.9 531.0,283.2 532.0,283.4 533.0,283.7 534.0,284.0 535.0,284.3 536.0,284.5 537.0,284.7 538.0,284.8 539.0,284.9 540.0,285.0 541.0,285.2 542.0,285.5 543.0,285.9 544.0,286.2 545.0,286.4 546.0,286.5 547.0,286.6 548.0,286.8 549.0,287.0 550.0,287.2 551.0,287.4 552.0,287.6 553.0,287.9 554.0,288.2 555.0,288.6 556.0,289.0 557.0,289.4 558.0,290.1 559.0,290.8 560.0,291.5 561.0,292.3 562.0,293.1 563.0,293.8 564.0,294.5 565.0,295.2 566.0,295.9 567.0,296.5 568.0,297.2 569.0,297.8 570.0,298.3 571.0,298.8 572.0,299.3 573.0,299.8 574.0,300.2 575.0,300.7 576.0,301.1 577.0,301.4 578.0,301.8 579.0,302.1 580.0,302.4 581.0,302.8 582.0,303.1 583.0,303.4 584.0,303.7 585.0,304.0 586.0,304.3 587.0,304.6 588.0,304.9 589.0,305.2 590.0,305.5 591.0,305.7 592.0,306.0 593.0,306.2 594.0,306.5 595.0,306.7 596.0,306.9 M328.0,300.9 329.0,300.9 330.0,300.9 331.0,300.9 332.0,301.0 333.0,301.0 334.0,301.0 335.0,300.9 336.0,300.9 337.0,300.9 338.0,300.8 339.0,300.8 340.0,300.8 341.0,300.8 342.0,300.8 343.0,300.8 344.0,300.8 345.0,300.8 346.0,300.8 347.0,300.9 348.0,300.9 349.0,300.9 350.0,301.0 351.0,301.0 352.0,301.0 353.0,301.0 354.0,301.0 355.0,301.0 356.0,301.0 357.0,301.0 358.0,301.0 359.0,301.0 360.0,301.0 361.0,301.0 362.0,301.0 363.0,301.0 364.0,301.0 365.0,301.0 366.0,300.9 367.0,300.9 368.0,300.8 369.0,300.7 370.0,300.7 371.0,300.6 372.0,300.5 373.0,300.3 374.0,300.2 375.0,300.0 376.0,299.7 377.0,299.4 378.0,298.9 379.0,298.2 380.0,297.4 381.0,296.2 382.0,294.2 383.0,291.9 384.0,289.4 385.0,286.5 386.0,283.2 387.0,278.7 388.0,273.6 389.0,268.5 390.0,264.1 391.0,260.1 392.0,256.2 393.0,252.6 394.0,249.5 395.0,246.9 396.0,244.6 397.0,242.4 398.0,240.2 399.0,238.0 400.0,235.6 401.0,233.2 402.0,230.8 403.0,228.6 404.0,226.6 405.0,224.9 406.0,223.4 407.0,222.1 408.0,221.0 409.0,220.1 410.0,219.4 411.0,218.8 412.0,218.2 413.0,217.6 414.0,217.1 415.0,216.6 416.0,216.1 417.0,215.7 418.0,215.1 419.0,214.5 420.0,213.9 421.0,213.4 422.0,213.0 423.0,212.6 424.0,212.3 425.0,211.9 426.0,211.6 427.0,211.2 428.0,210.7 429.0,210.1 430.0,209.5 431.0,208.9 432.0,208.5 433.0,208.1 434.0,207.7 435.0,207.3 436.0,206.8 437.0,206.2 438.0,205.7 439.0,205.2 440.0,204.6 441.0,204.1 442.0,203.7 443.0,203.2 444.0,202.8 445.0,202.4 446.0,202.0 447.0,201.4 448.0,200.8 449.0,200.0 450.0,199.1 451.0,198.2 452.0,197.3 453.0,196.1 454.0,195.1 455.0,194.6 456.0,194.7 457.0,195.3 458.0,196.0 459.0,196.4 460.0,196.2 461.0,195.5 462.0,194.6 463.0,194.2 464.0,194.0 465.0,193.2 466.0,191.5 467.0,190.4 468.0,191.0 469.0,192.6 470.0,194.5 471.0,196.1 472.0,197.6 473.0,199.0 474.0,200.4 475.0,201.8 476.0,203.4 477.0,205.1 478.0,206.8 479.0,208.6 480.0,210.6 481.0,212.7 482.0,215.0 483.0,217.2 484.0,219.4 485.0,221.5 486.0,223.5 487.0,225.2 488.0,226.8 489.0,228.3 490.0,229.8 491.0,231.4 492.0,233.1 493.0,235.0 494.0,237.0 495.0,239.1 496.0,241.2 497.0,243.2 498.0,245.1 499.0,246.9 500.0,248.6 501.0,250.3 502.0,252.0 503.0,253.8 504.0,255.5 505.0,257.1 506.0,258.6 507.0,259.9 508.0,261.3 509.0,262.7 510.0,264.1 511.0,265.4 512.0,266.8 513.0,268.1 514.0,269.4 515.0,270.7 516.0,271.8 517.0,272.8 518.0,273.8 519.0,274.7 520.0,275.8 521.0,277.0 522.0,278.4 523.0,279.6 524.0,280.7 525.0,281.4 526.0,281.9 527.0,282.3 528.0,282.6 529.0,282.9 530.0,283.1 531.0,283.4 532.0,283.6 533.0,283.9 534.0,284.1 535.0,284.4 536.0,284.6 537.0,284.9 538.0,285.0 539.0,285.2 540.0,285.3 541.0,285.5 542.0,285.7 543.0,285.9 544.0,286.1 545.0,286.4 546.0,286.7 547.0,286.9 548.0,287.2 549.0,287.4 550.0,287.5 551.0,287.7 552.0,287.9 553.0,288.1 554.0,288.3 555.0,288.5 556.0,288.8 557.0,289.2 558.0,289.9 559.0,290.8 560.0,291.7 561.0,292.6 562.0,293.5 563.0,294.3 564.0,294.9 565.0,295.6 566.0,296.2 567.0,296.8 568.0,297.4 569.0,297.9 570.0,298.5 571.0,299.0 572.0,299.5 573.0,299.9 574.0,300.4 575.0,300.8 576.0,301.2 577.0,301.6 578.0,302.0 579.0,302.3 580.0,302.6 581.0,303.0 582.0,303.3 583.0,303.6 584.0,303.9 585.0,304.2 586.0,304.5 587.0,304.8 588.0,305.0 589.0,305.3 590.0,305.6 591.0,305.8 592.0,306.1 593.0,306.3 594.0,306.6 595.0,306.8 596.0,307.0"/></g>
<g clip-path="url(#cY)" fill="none" stroke="#fff" stroke-width="2" stroke-linejoin="round" stroke-linecap="round"><path d="M328.0,301.4 329.0,301.4 330.0,301.4 331.0,301.4 332.0,301.3 333.0,301.3 334.0,301.3 335.0,301.3 336.0,301.3 337.0,301.3 338.0,301.3 339.0,301.4 340.0,301.4 341.0,301.4 342.0,301.4 343.0,301.4 344.0,301.4 345.0,301.4 346.0,301.4 347.0,301.4 348.0,301.4 349.0,301.4 350.0,301.4 351.0,301.4 352.0,301.4 353.0,301.4 354.0,301.4 355.0,301.4 356.0,301.4 357.0,301.4 358.0,301.4 359.0,301.4 360.0,301.4 361.0,301.4 362.0,301.4 363.0,301.4 364.0,301.4 365.0,301.4 366.0,301.4 367.0,301.4 368.0,301.3 369.0,301.3 370.0,301.2 371.0,301.1 372.0,301.0 373.0,300.9 374.0,300.7 375.0,300.6 376.0,300.3 377.0,300.0 378.0,299.6 379.0,299.1 380.0,298.5 381.0,297.7 382.0,296.5 383.0,295.1 384.0,293.5 385.0,291.5 386.0,289.0 387.0,285.2 388.0,280.5 389.0,275.6 390.0,271.4 391.0,267.4 392.0,263.3 393.0,259.4 394.0,256.0 395.0,253.2 396.0,250.6 397.0,248.2 398.0,245.9 399.0,243.7 400.0,241.4 401.0,239.1 402.0,236.8 403.0,234.6 404.0,232.6 405.0,231.0 406.0,229.6 407.0,228.4 408.0,227.3 409.0,226.4 410.0,225.7 411.0,225.0 412.0,224.4 413.0,223.9 414.0,223.5 415.0,223.2 416.0,222.8 417.0,222.4 418.0,222.0 419.0,221.5 420.0,220.9 421.0,220.3 422.0,219.6 423.0,218.8 424.0,218.0 425.0,217.3 426.0,216.7 427.0,216.3 428.0,215.9 429.0,215.4 430.0,214.9 431.0,214.3 432.0,213.8 433.0,213.2 434.0,212.7 435.0,212.2 436.0,211.7 437.0,211.2 438.0,210.9 439.0,210.5 440.0,210.2 441.0,209.9 442.0,209.4 443.0,208.9 444.0,208.2 445.0,207.6 446.0,206.9 447.0,206.3 448.0,205.6 449.0,204.8 450.0,204.1 451.0,203.3 452.0,202.5 453.0,201.3 454.0,200.2 455.0,199.4 456.0,199.2 457.0,199.3 458.0,199.6 459.0,199.9 460.0,200.0 461.0,199.9 462.0,199.4 463.0,198.6 464.0,197.7 465.0,196.4 466.0,195.0 467.0,194.2 468.0,194.8 469.0,196.4 470.0,198.6 471.0,200.7 472.0,202.6 473.0,204.3 474.0,205.9 475.0,207.4 476.0,208.9 477.0,210.4 478.0,212.1 479.0,213.8 480.0,215.7 481.0,217.6 482.0,219.6 483.0,221.5 484.0,223.3 485.0,225.1 486.0,226.9 487.0,228.6 488.0,230.4 489.0,232.2 490.0,233.9 491.0,235.6 492.0,237.4 493.0,239.2 494.0,241.0 495.0,242.9 496.0,244.6 497.0,246.3 498.0,248.0 499.0,249.7 500.0,251.4 501.0,253.2 502.0,255.0 503.0,256.7 504.0,258.4 505.0,260.0 506.0,261.4 507.0,262.9 508.0,264.3 509.0,265.6 510.0,267.0 511.0,268.2 512.0,269.3 513.0,270.5 514.0,271.6 515.0,272.8 516.0,273.9 517.0,275.0 518.0,276.0 519.0,276.9 520.0,277.9 521.0,278.9 522.0,280.0 523.0,281.1 524.0,282.1 525.0,282.8 526.0,283.2 527.0,283.6 528.0,283.8 529.0,284.1 530.0,284.3 531.0,284.5 532.0,284.7 533.0,284.9 534.0,285.0 535.0,285.2 536.0,285.4 537.0,285.6 538.0,285.9 539.0,286.2 540.0,286.5 541.0,286.8 542.0,287.0 543.0,287.2 544.0,287.4 545.0,287.5 546.0,287.6 547.0,287.7 548.0,287.8 549.0,287.9 550.0,288.1 551.0,288.3 552.0,288.5 553.0,288.8 554.0,289.0 555.0,289.3 556.0,289.5 557.0,290.0 558.0,290.7 559.0,291.5 560.0,292.4 561.0,293.2 562.0,294.1 563.0,294.8 564.0,295.5 565.0,296.2 566.0,296.8 567.0,297.4 568.0,298.0 569.0,298.6 570.0,299.1 571.0,299.6 572.0,300.1 573.0,300.6 574.0,301.0 575.0,301.4 576.0,301.8 577.0,302.1 578.0,302.5 579.0,302.8 580.0,303.2 581.0,303.5 582.0,303.8 583.0,304.1 584.0,304.4 585.0,304.7 586.0,305.0 587.0,305.2 588.0,305.5 589.0,305.8 590.0,306.0 591.0,306.3 592.0,306.5 593.0,306.8 594.0,307.0 595.0,307.2 596.0,307.4 M328.0,301.7 329.0,301.7 330.0,301.7 331.0,301.7 332.0,301.7 333.0,301.7 334.0,301.7 335.0,301.8 336.0,301.8 337.0,301.7 338.0,301.7 339.0,301.7 340.0,301.7 341.0,301.7 342.0,301.8 343.0,301.8 344.0,301.8 345.0,301.8 346.0,301.8 347.0,301.7 348.0,301.7 349.0,301.7 350.0,301.7 351.0,301.7 352.0,301.7 353.0,301.7 354.0,301.7 355.0,301.7 356.0,301.7 357.0,301.7 358.0,301.7 359.0,301.7 360.0,301.7 361.0,301.7 362.0,301.7 363.0,301.7 364.0,301.7 365.0,301.7 366.0,301.7 367.0,301.6 368.0,301.6 369.0,301.5 370.0,301.5 371.0,301.4 372.0,301.3 373.0,301.2 374.0,301.0 375.0,300.9 376.0,300.7 377.0,300.4 378.0,300.0 379.0,299.6 380.0,299.1 381.0,298.5 382.0,297.8 383.0,297.0 384.0,296.0 385.0,294.9 386.0,293.2 387.0,290.0 388.0,285.5 389.0,280.7 390.0,276.4 391.0,272.3 392.0,268.1 393.0,264.3 394.0,260.9 395.0,258.0 396.0,255.3 397.0,252.8 398.0,250.5 399.0,248.2 400.0,245.7 401.0,243.2 402.0,240.6 403.0,238.3 404.0,236.5 405.0,235.1 406.0,234.0 407.0,233.0 408.0,231.9 409.0,231.0 410.0,230.1 411.0,229.2 412.0,228.5 413.0,227.9 414.0,227.4 415.0,226.9 416.0,226.3 417.0,225.7 418.0,225.2 419.0,224.9 420.0,224.6 421.0,224.1 422.0,223.4 423.0,222.5 424.0,221.6 425.0,220.8 426.0,220.1 427.0,219.6 428.0,219.2 429.0,218.7 430.0,218.2 431.0,217.8 432.0,217.3 433.0,216.9 434.0,216.4 435.0,215.9 436.0,215.3 437.0,214.7 438.0,214.2 439.0,213.7 440.0,213.2 441.0,212.8 442.0,212.4 443.0,212.0 444.0,211.4 445.0,210.8 446.0,210.1 447.0,209.5 448.0,208.8 449.0,208.1 450.0,207.3 451.0,206.5 452.0,205.5 453.0,204.1 454.0,202.8 455.0,202.0 456.0,201.8 457.0,202.0 458.0,202.3 459.0,202.6 460.0,203.0 461.0,203.2 462.0,202.8 463.0,201.7 464.0,200.1 465.0,198.5 466.0,197.2 467.0,196.7 468.0,197.5 469.0,199.5 470.0,202.0 471.0,204.5 472.0,206.5 473.0,208.1 474.0,209.6 475.0,211.1 476.0,212.6 477.0,214.2 478.0,215.9 479.0,217.6 480.0,219.4 481.0,221.2 482.0,223.0 483.0,224.8 484.0,226.6 485.0,228.4 486.0,230.2 487.0,232.0 488.0,233.6 489.0,235.3 490.0,237.0 491.0,238.7 492.0,240.5 493.0,242.5 494.0,244.4 495.0,246.2 496.0,247.8 497.0,249.3 498.0,250.7 499.0,252.3 500.0,254.0 501.0,255.8 502.0,257.5 503.0,259.3 504.0,260.9 505.0,262.5 506.0,263.9 507.0,265.2 508.0,266.5 509.0,267.7 510.0,268.9 511.0,270.0 512.0,271.1 513.0,272.1 514.0,273.2 515.0,274.2 516.0,275.3 517.0,276.3 518.0,277.2 519.0,278.2 520.0,279.1 521.0,280.2 522.0,281.4 523.0,282.6 524.0,283.6 525.0,284.2 526.0,284.6 527.0,284.8 528.0,285.0 529.0,285.1 530.0,285.3 531.0,285.4 532.0,285.6 533.0,285.7 534.0,285.9 535.0,286.1 536.0,286.3 537.0,286.5 538.0,286.7 539.0,286.9 540.0,287.0 541.0,287.2 542.0,287.4 543.0,287.6 544.0,287.8 545.0,287.9 546.0,288.1 547.0,288.2 548.0,288.3 549.0,288.4 550.0,288.5 551.0,288.7 552.0,289.0 553.0,289.2 554.0,289.5 555.0,289.7 556.0,290.0 557.0,290.4 558.0,291.1 559.0,291.9 560.0,292.8 561.0,293.7 562.0,294.5 563.0,295.3 564.0,295.9 565.0,296.6 566.0,297.2 567.0,297.9 568.0,298.5 569.0,299.0 570.0,299.6 571.0,300.1 572.0,300.6 573.0,301.0 574.0,301.5 575.0,301.9 576.0,302.2 577.0,302.6 578.0,302.9 579.0,303.2 580.0,303.5 581.0,303.8 582.0,304.2 583.0,304.5 584.0,304.7 585.0,305.0 586.0,305.3 587.0,305.5 588.0,305.8 589.0,306.0 590.0,306.3 591.0,306.6 592.0,306.8 593.0,307.0 594.0,307.3 595.0,307.5 596.0,307.7"/></g>
<g clip-path="url(#cY)" fill="#fff" stroke="#fff" stroke-width="0.6" stroke-linejoin="round"><polygon points="427.8,216 427.9,101 428.9,99.5 430,101 430.5,216"/><polygon points="432.6,214 432.8,97 434.1,95.2 435.4,97 435.6,214"/><polygon points="430,216 430.3,178 432.8,172 433,214"/><polygon points="440.2,206 440.4,140 441.4,138 442.4,140 442.7,204"/><polygon points="526,283 526,179 527.5,176 529.5,179 531,186 532.5,183.6 534,192 537,190 539,192.5 541,189 543.5,195 545.5,202 545.5,243 541,243 541,265 536.3,265 536.3,246 532,246 530.6,283"/><polygon points="543.6,232 549,238 549,265 543.6,265"/><polygon points="548,263 551,263 551,290 548,289"/><polygon points="555,290 555,182 557,180 559,182 559,291"/></g>
<path d="M49.45,408.4 V413.5" stroke="#000" stroke-width="1.1"/>
<text x="48.75" y="426" font-size="10.6" text-anchor="middle" fill="#222" textLength="5.3" lengthAdjust="spacingAndGlyphs">0</text>
<path d="M90.12,408.4 V413.5" stroke="#000" stroke-width="1.1"/>
<text x="89.42" y="426" font-size="10.6" text-anchor="middle" fill="#222" textLength="10.6" lengthAdjust="spacingAndGlyphs">50</text>
<path d="M130.78,408.4 V413.5" stroke="#000" stroke-width="1.1"/>
<text x="130.08" y="426" font-size="10.6" text-anchor="middle" fill="#222" textLength="15.9" lengthAdjust="spacingAndGlyphs">100</text>
<path d="M171.44,408.4 V413.5" stroke="#000" stroke-width="1.1"/>
<text x="170.75" y="426" font-size="10.6" text-anchor="middle" fill="#222" textLength="15.9" lengthAdjust="spacingAndGlyphs">150</text>
<path d="M212.11,408.4 V413.5" stroke="#000" stroke-width="1.1"/>
<text x="211.41" y="426" font-size="10.6" text-anchor="middle" fill="#222" textLength="15.9" lengthAdjust="spacingAndGlyphs">200</text>
<path d="M252.78,408.4 V413.5" stroke="#000" stroke-width="1.1"/>
<text x="252.08" y="426" font-size="10.6" text-anchor="middle" fill="#222" textLength="15.9" lengthAdjust="spacingAndGlyphs">250</text>
<path d="M293.44,408.4 V413.5" stroke="#000" stroke-width="1.1"/>
<text x="292.74" y="426" font-size="10.6" text-anchor="middle" fill="#222" textLength="15.9" lengthAdjust="spacingAndGlyphs">300</text>
<path d="M329.45,408.4 V413.5" stroke="#000" stroke-width="1.1"/>
<text x="328.75" y="426" font-size="10.6" text-anchor="middle" fill="#222" textLength="5.3" lengthAdjust="spacingAndGlyphs">0</text>
<path d="M370.12,408.4 V413.5" stroke="#000" stroke-width="1.1"/>
<text x="369.42" y="426" font-size="10.6" text-anchor="middle" fill="#222" textLength="10.6" lengthAdjust="spacingAndGlyphs">50</text>
<path d="M410.78,408.4 V413.5" stroke="#000" stroke-width="1.1"/>
<text x="410.08" y="426" font-size="10.6" text-anchor="middle" fill="#222" textLength="15.9" lengthAdjust="spacingAndGlyphs">100</text>
<path d="M451.44,408.4 V413.5" stroke="#000" stroke-width="1.1"/>
<text x="450.75" y="426" font-size="10.6" text-anchor="middle" fill="#222" textLength="15.9" lengthAdjust="spacingAndGlyphs">150</text>
<path d="M492.11,408.4 V413.5" stroke="#000" stroke-width="1.1"/>
<text x="491.41" y="426" font-size="10.6" text-anchor="middle" fill="#222" textLength="15.9" lengthAdjust="spacingAndGlyphs">200</text>
<path d="M532.77,408.4 V413.5" stroke="#000" stroke-width="1.1"/>
<text x="532.07" y="426" font-size="10.6" text-anchor="middle" fill="#222" textLength="15.9" lengthAdjust="spacingAndGlyphs">250</text>
<path d="M573.44,408.4 V413.5" stroke="#000" stroke-width="1.1"/>
<text x="572.74" y="426" font-size="10.6" text-anchor="middle" fill="#222" textLength="15.9" lengthAdjust="spacingAndGlyphs">300</text>
<path d="M69.7,283.4 H74.7" stroke="#fff" stroke-width="1.1"/>
<text x="79.8" y="288.9" font-size="14" fill="#fff" textLength="7.9" lengthAdjust="spacingAndGlyphs">0</text>
<path d="M69.7,235.4 H74.7" stroke="#fff" stroke-width="1.1"/>
<text x="79.8" y="240.9" font-size="14" fill="#fff" textLength="7.9" lengthAdjust="spacingAndGlyphs">5</text>
<path d="M69.7,187.4 H74.7" stroke="#fff" stroke-width="1.1"/>
<text x="79.8" y="192.9" font-size="14" fill="#fff" textLength="15.8" lengthAdjust="spacingAndGlyphs">10</text>
<path d="M69.7,139.4 H74.7" stroke="#fff" stroke-width="1.1"/>
<text x="79.8" y="144.9" font-size="14" fill="#fff" textLength="15.8" lengthAdjust="spacingAndGlyphs">15</text>
<path d="M69.7,91.4 H74.7" stroke="#fff" stroke-width="1.1"/>
<text x="79.8" y="96.9" font-size="14" fill="#fff" textLength="15.8" lengthAdjust="spacingAndGlyphs">20</text>
<path d="M69.7,43.4 H74.7" stroke="#fff" stroke-width="1.1"/>
<text x="79.8" y="48.9" font-size="14" fill="#fff" textLength="15.8" lengthAdjust="spacingAndGlyphs">25</text>
<path d="M349.7,283.4 H354.7" stroke="#fff" stroke-width="1.1"/>
<text x="359.8" y="288.9" font-size="14" fill="#fff" textLength="7.9" lengthAdjust="spacingAndGlyphs">0</text>
<path d="M349.7,235.4 H354.7" stroke="#fff" stroke-width="1.1"/>
<text x="359.8" y="240.9" font-size="14" fill="#fff" textLength="7.9" lengthAdjust="spacingAndGlyphs">5</text>
<path d="M349.7,187.4 H354.7" stroke="#fff" stroke-width="1.1"/>
<text x="359.8" y="192.9" font-size="14" fill="#fff" textLength="15.8" lengthAdjust="spacingAndGlyphs">10</text>
<path d="M349.7,139.4 H354.7" stroke="#fff" stroke-width="1.1"/>
<text x="359.8" y="144.9" font-size="14" fill="#fff" textLength="15.8" lengthAdjust="spacingAndGlyphs">15</text>
<path d="M349.7,91.4 H354.7" stroke="#fff" stroke-width="1.1"/>
<text x="359.8" y="96.9" font-size="14" fill="#fff" textLength="15.8" lengthAdjust="spacingAndGlyphs">20</text>
<path d="M349.7,43.4 H354.7" stroke="#fff" stroke-width="1.1"/>
<text x="359.8" y="48.9" font-size="14" fill="#fff" textLength="15.8" lengthAdjust="spacingAndGlyphs">25</text>
<g clip-path="url(#cX)">
<text x="310.5" y="288.9" font-size="14" fill="#fff" textLength="7.9" lengthAdjust="spacingAndGlyphs">0</text>
<text x="310.5" y="240.9" font-size="14" fill="#fff" textLength="7.9" lengthAdjust="spacingAndGlyphs">5</text>
<text x="301.6" y="192.9" font-size="14" fill="#fff" textLength="15.8" lengthAdjust="spacingAndGlyphs">10</text>
<text x="301.6" y="144.9" font-size="14" fill="#fff" textLength="15.8" lengthAdjust="spacingAndGlyphs">15</text>
<text x="301.6" y="96.9" font-size="14" fill="#fff" textLength="15.8" lengthAdjust="spacingAndGlyphs">20</text>
<text x="301.6" y="48.9" font-size="14" fill="#fff" textLength="15.8" lengthAdjust="spacingAndGlyphs">25</text>
</g>
<text x="32" y="42.0" font-size="14.2" text-anchor="end" fill="#000">On</text>
<text x="612.3" y="42.0" font-size="14.2" fill="#000">On</text>
<text x="32" y="58.7" font-size="14.2" text-anchor="end" fill="#000">Y</text>
<text x="612.3" y="58.7" font-size="14.2" fill="#000">Y</text>
<text x="32" y="75.4" font-size="14.2" text-anchor="end" fill="#000">Off</text>
<text x="612.3" y="75.4" font-size="14.2" fill="#000">Off</text>
<text x="32" y="92.1" font-size="14.2" text-anchor="end" fill="#000">P</text>
<text x="612.3" y="92.1" font-size="14.2" fill="#000">P</text>
<text x="32" y="108.8" font-size="14.2" text-anchor="end" fill="#000">O</text>
<text x="612.3" y="108.8" font-size="14.2" fill="#000">O</text>
<text x="32" y="125.5" font-size="14.2" text-anchor="end" fill="#000">N</text>
<text x="612.3" y="125.5" font-size="14.2" fill="#000">N</text>
<text x="32" y="142.3" font-size="14.2" text-anchor="end" fill="#000">M</text>
<text x="612.3" y="142.3" font-size="14.2" fill="#000">M</text>
<text x="32" y="159.0" font-size="14.2" text-anchor="end" fill="#000">L</text>
<text x="612.3" y="159.0" font-size="14.2" fill="#000">L</text>
<text x="32" y="175.7" font-size="14.2" text-anchor="end" fill="#000">K</text>
<text x="612.3" y="175.7" font-size="14.2" fill="#000">K</text>
<text x="32" y="192.4" font-size="14.2" text-anchor="end" fill="#000">J</text>
<text x="612.3" y="192.4" font-size="14.2" fill="#000">J</text>
<text x="32" y="209.1" font-size="14.2" text-anchor="end" fill="#000">I</text>
<text x="612.3" y="209.1" font-size="14.2" fill="#000">I</text>
<text x="32" y="225.9" font-size="14.2" text-anchor="end" fill="#000">H</text>
<text x="612.3" y="225.9" font-size="14.2" fill="#000">H</text>
<text x="32" y="242.6" font-size="14.2" text-anchor="end" fill="#000">G</text>
<text x="612.3" y="242.6" font-size="14.2" fill="#000">G</text>
<text x="32" y="259.3" font-size="14.2" text-anchor="end" fill="#000">F</text>
<text x="612.3" y="259.3" font-size="14.2" fill="#000">F</text>
<text x="32" y="276.0" font-size="14.2" text-anchor="end" fill="#000">E</text>
<text x="612.3" y="276.0" font-size="14.2" fill="#000">E</text>
<text x="32" y="292.7" font-size="14.2" text-anchor="end" fill="#000">D</text>
<text x="612.3" y="292.7" font-size="14.2" fill="#000">D **</text>
<text x="32" y="309.5" font-size="14.2" text-anchor="end" fill="#000">C</text>
<text x="612.3" y="309.5" font-size="14.2" fill="#000">C</text>
<text x="32" y="326.2" font-size="14.2" text-anchor="end" fill="#000">B</text>
<text x="612.3" y="326.2" font-size="14.2" fill="#000">B</text>
<text x="32" y="342.9" font-size="14.2" text-anchor="end" fill="#000">A</text>
<text x="612.3" y="342.9" font-size="14.2" fill="#000">A</text>
<text x="32" y="359.6" font-size="14.2" text-anchor="end" fill="#000">Off</text>
<text x="612.3" y="359.6" font-size="14.2" fill="#000">Off</text>
<text x="32" y="376.3" font-size="14.2" text-anchor="end" fill="#000">X</text>
<text x="612.3" y="376.3" font-size="14.2" fill="#000">X</text>
<text x="32" y="393.0" font-size="14.2" text-anchor="end" fill="#000">On</text>
<text x="612.3" y="393.0" font-size="14.2" fill="#000">On</text>
<path d="M48,36.4 H49.3" stroke="#fff" stroke-width="1" opacity="0.65"/>
<path d="M48,53.1 H49.3" stroke="#fff" stroke-width="1" opacity="0.65"/>
<path d="M48,69.8 H49.3" stroke="#fff" stroke-width="1" opacity="0.65"/>
<path d="M48,86.5 H49.3" stroke="#fff" stroke-width="1" opacity="0.65"/>
<path d="M48,103.2 H49.3" stroke="#fff" stroke-width="1" opacity="0.65"/>
<path d="M48,120.0 H49.3" stroke="#fff" stroke-width="1" opacity="0.65"/>
<path d="M48,136.7 H49.3" stroke="#fff" stroke-width="1" opacity="0.65"/>
<path d="M48,153.4 H49.3" stroke="#fff" stroke-width="1" opacity="0.65"/>
<path d="M48,170.1 H49.3" stroke="#fff" stroke-width="1" opacity="0.65"/>
<path d="M48,186.8 H49.3" stroke="#fff" stroke-width="1" opacity="0.65"/>
<path d="M48,203.5 H49.3" stroke="#fff" stroke-width="1" opacity="0.65"/>
<path d="M48,220.3 H49.3" stroke="#fff" stroke-width="1" opacity="0.65"/>
<path d="M48,237.0 H49.3" stroke="#fff" stroke-width="1" opacity="0.65"/>
<path d="M48,253.7 H49.3" stroke="#fff" stroke-width="1" opacity="0.65"/>
<path d="M48,270.4 H49.3" stroke="#fff" stroke-width="1" opacity="0.65"/>
<path d="M48,287.1 H49.3" stroke="#fff" stroke-width="1" opacity="0.65"/>
<path d="M48,303.9 H49.3" stroke="#fff" stroke-width="1" opacity="0.65"/>
<path d="M48,320.6 H49.3" stroke="#fff" stroke-width="1" opacity="0.65"/>
<path d="M48,337.3 H49.3" stroke="#fff" stroke-width="1" opacity="0.65"/>
<path d="M48,354.0 H49.3" stroke="#fff" stroke-width="1" opacity="0.65"/>
<path d="M48,370.7 H49.3" stroke="#fff" stroke-width="1" opacity="0.65"/>
<path d="M48,387.4 H49.3" stroke="#fff" stroke-width="1" opacity="0.65"/>
<text x="98.9" y="15.6" font-size="17" fill="#000" textLength="166.8" lengthAdjust="spacingAndGlyphs">31.8 (Tile028=28) X</text>
<text x="379.8" y="15.6" font-size="17" fill="#000" textLength="165.9" lengthAdjust="spacingAndGlyphs">31.8 (Tile028=28) Y</text>
<text transform="translate(3.6,217.6) rotate(-90)" font-size="14" text-anchor="middle" fill="#000" textLength="40" lengthAdjust="spacingAndGlyphs">Dipole</text>
</svg>
</body></html>
